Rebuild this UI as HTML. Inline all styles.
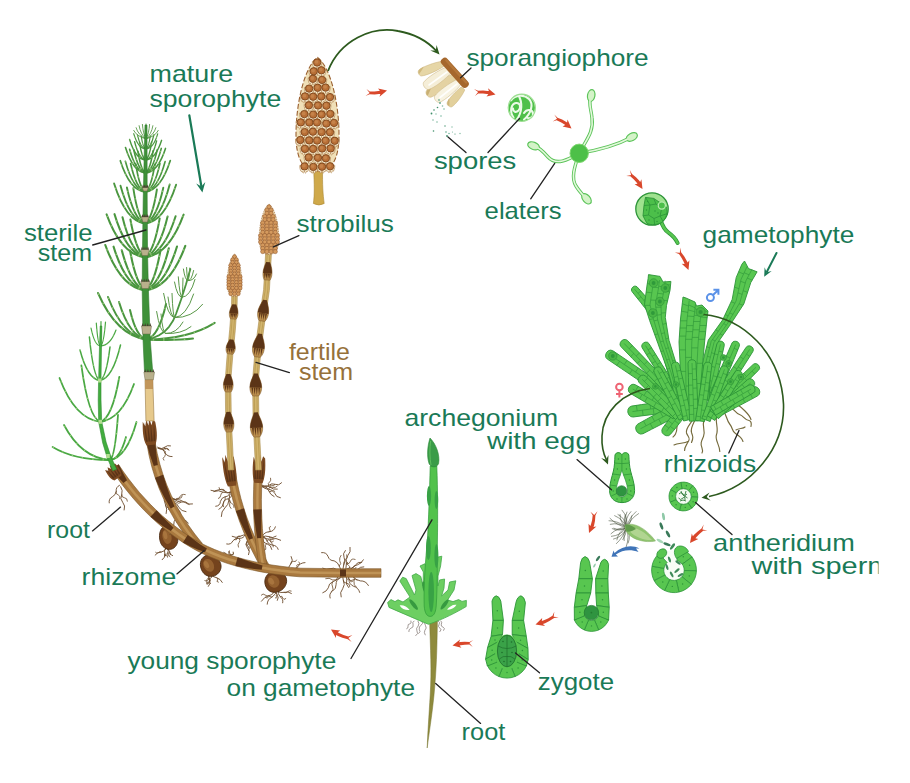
<!DOCTYPE html>
<html lang="en">
<head>
<meta charset="utf-8">
<title>Life cycle of horsetail (Equisetum)</title>
<style>html,body{margin:0;padding:0;background:#fff;}svg{display:block;}</style>
</head>
<body>
<svg width="910" height="783" viewBox="0 0 910 783" font-family="'Liberation Sans', sans-serif" font-size="24">
<defs><clipPath id="clipR"><rect x="0" y="0" width="878.6" height="783"/></clipPath></defs>
<rect width="910" height="783" fill="#ffffff"/>
<path d="M166.6 548.3 Q169.4 549.1 169.6 552 Q169.8 554.9 172.6 555.7" fill="none" stroke="#6b4a2a" stroke-width="0.9" stroke-linecap="round"/>
<path d="M169.6 552 Q168.4 552.9 169.7 553.5 Q172.4 554 169.7 555" fill="none" stroke="#6b4a2a" stroke-width="0.8" stroke-linecap="round"/>
<path d="M166.2 548.2 Q169.7 549.4 167.9 552.6 Q167.4 555.5 170 556.8" fill="none" stroke="#6b4a2a" stroke-width="0.9" stroke-linecap="round"/>
<path d="M167.9 552.6 Q169 554.6 166.6 554.1 Q164.6 553.9 165.4 555.8" fill="none" stroke="#6b4a2a" stroke-width="0.8" stroke-linecap="round"/>
<path d="M166.2 547.4 Q163.3 550.1 164.8 553.8 Q165.4 557.6 162.2 559.8" fill="none" stroke="#6b4a2a" stroke-width="0.9" stroke-linecap="round"/>
<path d="M164.8 553.8 Q163.9 556.1 166 555.7 Q168.6 554.9 167.7 557.2" fill="none" stroke="#6b4a2a" stroke-width="0.8" stroke-linecap="round"/>
<path d="M166.5 547.8 Q165.2 551.7 161.2 552 Q157.4 552 155.1 555.1" fill="none" stroke="#6b4a2a" stroke-width="0.9" stroke-linecap="round"/>
<path d="M161.2 552 Q159.8 551 158.4 552.6 Q157 554.1 155.6 552.4" fill="none" stroke="#6b4a2a" stroke-width="0.8" stroke-linecap="round"/>
<path d="M210.9 573.6 Q212.6 577.5 216.8 577.8 Q220.6 578.9 222.3 582.4" fill="none" stroke="#6b4a2a" stroke-width="0.9" stroke-linecap="round"/>
<path d="M216.8 577.8 Q218.7 578.5 217.6 580 Q215.7 581.7 218.4 582.2" fill="none" stroke="#6b4a2a" stroke-width="0.8" stroke-linecap="round"/>
<path d="M210 573.3 Q207.1 576.5 209.7 579.9 Q211 583.6 208.4 586.4" fill="none" stroke="#6b4a2a" stroke-width="0.9" stroke-linecap="round"/>
<path d="M209.7 579.9 Q210.2 581.9 208.4 582 Q206.6 582.1 207.1 584.1" fill="none" stroke="#6b4a2a" stroke-width="0.8" stroke-linecap="round"/>
<path d="M210.4 573.5 Q207.3 575.5 209.1 578.6 Q210.4 581.5 208.2 583.8" fill="none" stroke="#6b4a2a" stroke-width="0.9" stroke-linecap="round"/>
<path d="M209.1 578.6 Q207.3 577.5 206.9 579.7 Q206.6 582 204.8 580.7" fill="none" stroke="#6b4a2a" stroke-width="0.8" stroke-linecap="round"/>
<path d="M211.9 573.9 Q212.9 577.5 209.5 578.9 Q205.6 580.2 207 584" fill="none" stroke="#6b4a2a" stroke-width="0.9" stroke-linecap="round"/>
<path d="M209.5 578.9 Q211.7 579.4 209.7 581.3 Q208 583.1 210.5 583.6" fill="none" stroke="#6b4a2a" stroke-width="0.8" stroke-linecap="round"/>
<path d="M277 591 Q280.2 593.4 284.1 592.4 Q288 590.9 291.4 593.4" fill="none" stroke="#6b4a2a" stroke-width="0.9" stroke-linecap="round"/>
<path d="M284.1 592.4 Q286.2 593.5 287.7 591.7 Q289.1 590.1 291.2 591" fill="none" stroke="#6b4a2a" stroke-width="0.8" stroke-linecap="round"/>
<path d="M278.5 590.4 Q277.3 594.1 280.2 596.7 Q283.6 598.8 282.7 602.8" fill="none" stroke="#6b4a2a" stroke-width="0.9" stroke-linecap="round"/>
<path d="M280.2 596.7 Q282.3 595 282.8 598.1 Q283.6 600.6 285.8 598.6" fill="none" stroke="#6b4a2a" stroke-width="0.8" stroke-linecap="round"/>
<path d="M276.4 589.1 Q274.9 592.1 277 594.7 Q279.3 597.5 277.4 600.4" fill="none" stroke="#6b4a2a" stroke-width="0.9" stroke-linecap="round"/>
<path d="M277 594.7 Q275.4 594.9 276.5 596.5 Q277.9 598.2 275.4 597.9" fill="none" stroke="#6b4a2a" stroke-width="0.8" stroke-linecap="round"/>
<path d="M276.9 590.3 Q275.8 594.8 271.9 597.1 Q267.4 599.2 267.2 604.2" fill="none" stroke="#6b4a2a" stroke-width="0.9" stroke-linecap="round"/>
<path d="M271.9 597.1 Q270.1 595.6 268.6 596.8 Q267.3 599.4 265.4 597.3" fill="none" stroke="#6b4a2a" stroke-width="0.8" stroke-linecap="round"/>
<path d="M275.3 589.3 Q274.1 594.6 268.8 595.7 Q264 597 261.4 601.2" fill="none" stroke="#6b4a2a" stroke-width="0.9" stroke-linecap="round"/>
<path d="M268.8 595.7 Q267 596.6 265.1 595 Q263.1 592.8 261.3 595.1" fill="none" stroke="#6b4a2a" stroke-width="0.8" stroke-linecap="round"/>
<path d="M120.7 486.7 Q123.1 490.4 121.7 494.5 Q119.5 498.8 122.7 502.3 Q125.8 505.7 124.2 510" fill="none" stroke="#6b4a2a" stroke-width="0.9" stroke-linecap="round"/>
<path d="M121.7 494.5 Q121.7 497.9 124.6 497.8 Q127.3 498 127.4 501.2" fill="none" stroke="#6b4a2a" stroke-width="0.8" stroke-linecap="round"/>
<path d="M119.5 485.3 Q115.7 487.1 116.2 491.3 Q115.7 495.1 112.3 496.8 Q108.5 498.8 109.2 502.9" fill="none" stroke="#6b4a2a" stroke-width="0.9" stroke-linecap="round"/>
<path d="M116.2 491.3 Q114.8 493.8 118.2 494.9 Q121 496.3 119.8 498.7" fill="none" stroke="#6b4a2a" stroke-width="0.8" stroke-linecap="round"/>
<path d="M233.1 562 Q228.6 562.7 226.1 558.9 Q223.6 555.2 219.2 555.8" fill="none" stroke="#6b4a2a" stroke-width="0.9" stroke-linecap="round"/>
<path d="M226.1 558.9 Q223.7 558 225.5 555.4 Q227.2 552.9 223.8 552.3" fill="none" stroke="#6b4a2a" stroke-width="0.8" stroke-linecap="round"/>
<path d="M233.8 562.7 Q230.5 561 230.9 557.3 Q231.7 553.6 228.4 551.7" fill="none" stroke="#6b4a2a" stroke-width="0.9" stroke-linecap="round"/>
<path d="M230.9 557.3 Q229.2 554.9 232.3 554.8 Q234.4 554.2 233.3 552" fill="none" stroke="#6b4a2a" stroke-width="0.8" stroke-linecap="round"/>
<path d="M231.9 562.5 Q233.9 559.2 230.9 556.6 Q227.6 554.5 229.3 550.9" fill="none" stroke="#6b4a2a" stroke-width="0.9" stroke-linecap="round"/>
<path d="M230.9 556.6 Q229.6 554.1 231.9 554.7 Q234.2 555.1 233.3 552.9" fill="none" stroke="#6b4a2a" stroke-width="0.8" stroke-linecap="round"/>
<path d="M289.3 571.2 Q287.2 567.1 290.7 563.9 Q293.8 560.4 291.2 556.5" fill="none" stroke="#6b4a2a" stroke-width="0.9" stroke-linecap="round"/>
<path d="M290.7 563.9 Q291.1 561.3 293.3 561.4 Q296 562.4 296.6 560.1" fill="none" stroke="#6b4a2a" stroke-width="0.8" stroke-linecap="round"/>
<path d="M289 570.3 Q293.8 570.4 297.4 567.2 Q299.9 562.7 305 562.6" fill="none" stroke="#6b4a2a" stroke-width="0.9" stroke-linecap="round"/>
<path d="M297.4 567.2 Q295.6 564.7 298.2 564.6 Q300.8 564.6 298.9 562" fill="none" stroke="#6b4a2a" stroke-width="0.8" stroke-linecap="round"/>
<path d="M289.8 570.7 Q293.3 572.9 297.3 571.8 Q301.7 569.9 304.7 573.6" fill="none" stroke="#6b4a2a" stroke-width="0.9" stroke-linecap="round"/>
<path d="M297.3 571.8 Q297.1 574.4 299.4 573.4 Q301.4 572.8 301.5 574.8" fill="none" stroke="#6b4a2a" stroke-width="0.8" stroke-linecap="round"/>
<path d="M344 572 Q346.7 568.4 346.4 563.9 Q345.5 559.4 347.8 555.5 Q351.2 552.1 350.1 547.4" fill="none" stroke="#6b4a2a" stroke-width="0.9" stroke-linecap="round"/>
<path d="M346.4 563.9 Q349.7 564.4 350.5 561.2 Q351.3 558.1 355.1 559.4" fill="none" stroke="#6b4a2a" stroke-width="0.8" stroke-linecap="round"/>
<path d="M344 572 Q345.5 568.3 349.5 568 Q353.7 568.8 355.5 564.9 Q357.7 561.6 361.7 562.2" fill="none" stroke="#6b4a2a" stroke-width="0.9" stroke-linecap="round"/>
<path d="M349.5 568 Q350.7 566.3 348.3 565.2 Q345.7 564.1 347.5 562.2" fill="none" stroke="#6b4a2a" stroke-width="0.8" stroke-linecap="round"/>
<path d="M344 572 Q348.5 572.9 351.1 569.1 Q353.3 565.4 357.5 564.8 Q361.5 563.5 363.4 559.8" fill="none" stroke="#6b4a2a" stroke-width="0.9" stroke-linecap="round"/>
<path d="M351.1 569.1 Q353.5 569.6 354.6 572.2 Q356 574.5 359 574" fill="none" stroke="#6b4a2a" stroke-width="0.8" stroke-linecap="round"/>
<path d="M344 572 Q347.2 569.4 350.9 571.3 Q354.7 572.8 357.6 569.7 Q359.8 566.5 363.8 566.8" fill="none" stroke="#6b4a2a" stroke-width="0.9" stroke-linecap="round"/>
<path d="M350.9 571.3 Q350.9 569.1 353.3 569.2 Q355.6 569.3 356 567.5" fill="none" stroke="#6b4a2a" stroke-width="0.8" stroke-linecap="round"/>
<path d="M344 572 Q349.3 571.5 352.5 575.8 Q355.2 580.1 360.3 580.9 Q365.8 580.6 368.4 585.5" fill="none" stroke="#6b4a2a" stroke-width="0.9" stroke-linecap="round"/>
<path d="M352.5 575.8 Q355.6 577.8 354 581.6 Q353.3 585.1 356.3 587.1" fill="none" stroke="#6b4a2a" stroke-width="0.8" stroke-linecap="round"/>
<path d="M344 572 Q348.6 574 348.9 579.1 Q348.9 584.2 353.6 586.3 Q358.4 587.5 359.7 592.4" fill="none" stroke="#6b4a2a" stroke-width="0.9" stroke-linecap="round"/>
<path d="M348.9 579.1 Q350.2 582.1 353 579.9 Q355.6 578.2 357.2 580.1" fill="none" stroke="#6b4a2a" stroke-width="0.8" stroke-linecap="round"/>
<path d="M344 572 Q346.9 575.3 346.8 579.6 Q345.1 584.2 348.6 587.6" fill="none" stroke="#6b4a2a" stroke-width="0.9" stroke-linecap="round"/>
<path d="M346.8 579.6 Q349.3 577.6 350 580.3 Q350.7 582.9 353.1 581" fill="none" stroke="#6b4a2a" stroke-width="0.8" stroke-linecap="round"/>
<path d="M344 572 Q341.5 576 343.3 580.3 Q345.5 584.7 342.7 588.7 Q339.4 592.3 341.1 596.9" fill="none" stroke="#6b4a2a" stroke-width="0.9" stroke-linecap="round"/>
<path d="M343.3 580.3 Q343.4 583.2 346.9 583.2 Q349.9 583.6 349.9 586.7" fill="none" stroke="#6b4a2a" stroke-width="0.8" stroke-linecap="round"/>
<path d="M344 572 Q344 576.5 339.8 578.1 Q335.9 580.1 336.1 584.5 Q336.3 588.8 332.6 591 Q328.7 593.6 330.1 598" fill="none" stroke="#6b4a2a" stroke-width="0.9" stroke-linecap="round"/>
<path d="M339.8 578.1 Q336.4 580.7 332.8 580 Q329.2 577.3 325.7 578.6" fill="none" stroke="#6b4a2a" stroke-width="0.8" stroke-linecap="round"/>
<path d="M344 572 Q339.3 571.9 338.1 576.5 Q337.1 580.9 332.7 581.8 Q328.6 583.4 328.3 587.8 Q326.7 591.6 322.8 592.8" fill="none" stroke="#6b4a2a" stroke-width="0.9" stroke-linecap="round"/>
<path d="M332.7 581.8 Q330.9 584 332.6 587 Q334.5 590 331.1 591.9" fill="none" stroke="#6b4a2a" stroke-width="0.8" stroke-linecap="round"/>
<path d="M344 572 Q339.9 572.9 337.1 569.8 Q333.8 567.2 330 568.7 Q326.2 570.6 322.8 568.2" fill="none" stroke="#6b4a2a" stroke-width="0.9" stroke-linecap="round"/>
<path d="M337.1 569.8 Q337.3 573.2 334.4 572.2 Q331.9 571.9 331.5 574.5" fill="none" stroke="#6b4a2a" stroke-width="0.8" stroke-linecap="round"/>
<path d="M344 572 Q339.9 570.4 339.3 566.1 Q337.9 562.3 334.1 560.8 Q329.4 560.8 328 556.4 Q326.3 552 321.6 552.6" fill="none" stroke="#6b4a2a" stroke-width="0.9" stroke-linecap="round"/>
<path d="M339.3 566.1 Q342 563.7 339.7 560.7 Q339.1 557.9 341 555.4" fill="none" stroke="#6b4a2a" stroke-width="0.8" stroke-linecap="round"/>
<path d="M344 572 Q342.2 568.5 343.7 564.8 Q346.1 561.3 344.1 557.6 Q342.3 553.6 345.3 550.5" fill="none" stroke="#6b4a2a" stroke-width="0.9" stroke-linecap="round"/>
<path d="M343.7 564.8 Q343.2 561.8 345.4 559.9 Q347.7 558 346.8 554.8" fill="none" stroke="#6b4a2a" stroke-width="0.8" stroke-linecap="round"/>
<g transform="translate(168.5 537.5) rotate(-12)">
<path d="M0 -12 C5.4 -12 9 -6 9 1.2 C9 7.8 4.5 12 0 12 C-4.5 12 -9 7.8 -9 1.2 C-9 -6 -5.4 -12 0 -12 Z" fill="#74431d" stroke="#4a2a10" stroke-width="0.8"/>
<ellipse cx="-1.3" cy="-1.2" rx="4.5" ry="7.4" fill="#9a6632" opacity="0.85"/>
<ellipse cx="-2.7" cy="-3" rx="2" ry="4.2" fill="#b5824a" opacity="0.6"/>
</g>
<g transform="translate(210.5 565.5) rotate(-30)">
<path d="M0 -11 C6 -11 10 -5.5 10 1.1 C10 7.2 5 11 0 11 C-5 11 -10 7.2 -10 1.1 C-10 -5.5 -6 -11 0 -11 Z" fill="#74431d" stroke="#4a2a10" stroke-width="0.8"/>
<ellipse cx="-1.5" cy="-1.1" rx="5" ry="6.8" fill="#9a6632" opacity="0.85"/>
<ellipse cx="-3" cy="-2.8" rx="2.2" ry="3.8" fill="#b5824a" opacity="0.6"/>
</g>
<g transform="translate(275.5 581.5) rotate(-35)">
<path d="M0 -10.5 C6.6 -10.5 11 -5.2 11 1.1 C11 6.8 5.5 10.5 0 10.5 C-5.5 10.5 -11 6.8 -11 1.1 C-11 -5.2 -6.6 -10.5 0 -10.5 Z" fill="#74431d" stroke="#4a2a10" stroke-width="0.8"/>
<ellipse cx="-1.6" cy="-1.1" rx="5.5" ry="6.5" fill="#9a6632" opacity="0.85"/>
<ellipse cx="-3.3" cy="-2.6" rx="2.4" ry="3.7" fill="#b5824a" opacity="0.6"/>
</g>
<path d="M158.6 447.8 Q161.8 449.7 164.6 447.3 Q167.2 444.8 170.5 445.8" fill="none" stroke="#6b4a2a" stroke-width="0.9" stroke-linecap="round"/>
<path d="M164.6 447.3 Q163.9 450.2 166.5 448.7 Q168.5 448.1 168.6 449.8" fill="none" stroke="#6b4a2a" stroke-width="0.8" stroke-linecap="round"/>
<path d="M157.4 447.2 Q159.6 450 163.1 449.2 Q166.4 446.8 169.1 450" fill="none" stroke="#6b4a2a" stroke-width="0.9" stroke-linecap="round"/>
<path d="M163.1 449.2 Q162.2 450.8 164.4 450.8 Q166.2 451 165 452.8" fill="none" stroke="#6b4a2a" stroke-width="0.8" stroke-linecap="round"/>
<path d="M158 448.3 Q163 448 164.9 452.6 Q167.3 456.8 172.1 456.6" fill="none" stroke="#6b4a2a" stroke-width="0.9" stroke-linecap="round"/>
<path d="M164.9 452.6 Q166.2 454.6 164.7 456.5 Q161.8 458.1 163.8 460.2" fill="none" stroke="#6b4a2a" stroke-width="0.8" stroke-linecap="round"/>
<path d="M167 496.1 Q170.3 499.7 175.2 499.7 Q179.9 499 183.9 501.8 Q187.6 505.4 192.5 504" fill="none" stroke="#6b4a2a" stroke-width="0.9" stroke-linecap="round"/>
<path d="M175.2 499.7 Q176.2 497.7 179 498.3 Q181.9 498.8 182.3 495.7" fill="none" stroke="#6b4a2a" stroke-width="0.8" stroke-linecap="round"/>
<path d="M166 497.3 Q170.4 496.1 174 498.9 Q177 502.2 181.5 502 Q186.1 500.6 189.2 504.3" fill="none" stroke="#6b4a2a" stroke-width="0.9" stroke-linecap="round"/>
<path d="M174 498.9 Q177.9 500.5 179.7 497 Q181.5 493.4 185.3 494.6" fill="none" stroke="#6b4a2a" stroke-width="0.8" stroke-linecap="round"/>
<path d="M166 497.9 Q168.5 501.6 172.9 502.2 Q177.6 503 179 507.6 Q181.5 511.3 186 511.7" fill="none" stroke="#6b4a2a" stroke-width="0.9" stroke-linecap="round"/>
<path d="M172.9 502.2 Q171.1 504.5 173.9 505.8 Q176.6 507.1 175.6 509.1" fill="none" stroke="#6b4a2a" stroke-width="0.8" stroke-linecap="round"/>
<path d="M168.4 496.1 Q172.6 497.9 172.2 502.4 Q173 506.5 176.8 508.3 Q180.4 510.4 180.6 514.6" fill="none" stroke="#6b4a2a" stroke-width="0.9" stroke-linecap="round"/>
<path d="M172.2 502.4 Q174.8 499.7 176.6 502.4 Q178.5 504.2 181 502.4" fill="none" stroke="#6b4a2a" stroke-width="0.8" stroke-linecap="round"/>
<path d="M165.6 496.1 Q162.9 500.4 165.5 504.8 Q167.6 509 166.2 513.5" fill="none" stroke="#6b4a2a" stroke-width="0.9" stroke-linecap="round"/>
<path d="M165.5 504.8 Q165.3 506.8 167 507.3 Q169.4 507.4 168.9 509.6" fill="none" stroke="#6b4a2a" stroke-width="0.8" stroke-linecap="round"/>
<path d="M174.7 517 Q176.9 521.1 181.5 520 Q186 519.2 188.2 523.2" fill="none" stroke="#6b4a2a" stroke-width="0.9" stroke-linecap="round"/>
<path d="M181.5 520 Q180.3 521.7 181.8 522.7 Q183.6 523.7 182.4 525.3" fill="none" stroke="#6b4a2a" stroke-width="0.8" stroke-linecap="round"/>
<path d="M175.3 518.5 Q175.9 523.2 180.4 524.9 Q184.7 526.7 185.8 531.2" fill="none" stroke="#6b4a2a" stroke-width="0.9" stroke-linecap="round"/>
<path d="M180.4 524.9 Q181.9 522.9 182.8 525.7 Q183.9 527.4 185.4 525.7" fill="none" stroke="#6b4a2a" stroke-width="0.8" stroke-linecap="round"/>
<path d="M176.5 517.5 Q173.1 521.3 173.6 526.3 Q174 531.5 170 534.7" fill="none" stroke="#6b4a2a" stroke-width="0.9" stroke-linecap="round"/>
<path d="M173.6 526.3 Q172.8 529.2 175.8 528.2 Q178.1 528.1 178 530.3" fill="none" stroke="#6b4a2a" stroke-width="0.8" stroke-linecap="round"/>
<path d="M232.7 491.4 Q228.4 494.5 229 499.8 Q228.7 504.8 224.8 508 Q221.1 511.4 221.3 516.5" fill="none" stroke="#6b4a2a" stroke-width="0.9" stroke-linecap="round"/>
<path d="M229 499.8 Q229.2 502.1 231.7 503.4 Q234.8 504.6 234 507.4" fill="none" stroke="#6b4a2a" stroke-width="0.8" stroke-linecap="round"/>
<path d="M232.5 493 Q232.3 497.1 228.5 498.8 Q223.9 499.1 223.4 503.7 Q222.5 507.6 218.9 509.3" fill="none" stroke="#6b4a2a" stroke-width="0.9" stroke-linecap="round"/>
<path d="M228.5 498.8 Q231.6 500.9 229.7 503.7 Q228.8 506.3 231 508.5" fill="none" stroke="#6b4a2a" stroke-width="0.8" stroke-linecap="round"/>
<path d="M230 491.9 Q229.7 496.3 225.3 496.7 Q221.4 497.6 220.4 501.4 Q220.2 506 215.7 506.3" fill="none" stroke="#6b4a2a" stroke-width="0.9" stroke-linecap="round"/>
<path d="M225.3 496.7 Q225.8 499.3 223.8 501.6 Q222.1 504 223.5 506.7" fill="none" stroke="#6b4a2a" stroke-width="0.8" stroke-linecap="round"/>
<path d="M232.5 491.5 Q228 494 223.1 492.2 Q218.6 489.6 213.8 491.5" fill="none" stroke="#6b4a2a" stroke-width="0.9" stroke-linecap="round"/>
<path d="M223.1 492.2 Q220.8 492.7 220.7 495.3 Q220.6 497.9 218.4 498.5" fill="none" stroke="#6b4a2a" stroke-width="0.8" stroke-linecap="round"/>
<path d="M231.4 492.3 Q227.6 493.8 224.7 491 Q221.6 488.1 217.9 490 Q214.5 491.9 211 490.4" fill="none" stroke="#6b4a2a" stroke-width="0.9" stroke-linecap="round"/>
<path d="M224.7 491 Q224.4 488.4 221.6 489.7 Q219.2 490.4 219 487.6" fill="none" stroke="#6b4a2a" stroke-width="0.8" stroke-linecap="round"/>
<path d="M262.1 487 Q265.8 488.2 268.6 485.5 Q271.5 482.8 275.1 484.3 Q279 486.2 281.6 482.8" fill="none" stroke="#6b4a2a" stroke-width="0.9" stroke-linecap="round"/>
<path d="M268.6 485.5 Q267.4 482.9 269.7 481.9 Q271.4 480.6 270.6 478.2" fill="none" stroke="#6b4a2a" stroke-width="0.8" stroke-linecap="round"/>
<path d="M262.5 486.5 Q266.5 484.4 270 487.2 Q273.2 489.9 277.3 489.2" fill="none" stroke="#6b4a2a" stroke-width="0.9" stroke-linecap="round"/>
<path d="M270 487.2 Q269.7 484 272.1 485.5 Q274.3 486.7 274.6 484.5" fill="none" stroke="#6b4a2a" stroke-width="0.8" stroke-linecap="round"/>
<path d="M261.8 485.3 Q263.8 489.2 268.3 489 Q272.4 489.6 274.6 493.1 Q275.9 497.4 280.4 497.8" fill="none" stroke="#6b4a2a" stroke-width="0.9" stroke-linecap="round"/>
<path d="M268.3 489 Q270 485.7 272.7 487.3 Q275.4 488.2 277.3 486.1" fill="none" stroke="#6b4a2a" stroke-width="0.8" stroke-linecap="round"/>
<path d="M262.5 485.2 Q267.2 486.1 268.6 490.6 Q270.1 494.7 274.1 496.6" fill="none" stroke="#6b4a2a" stroke-width="0.9" stroke-linecap="round"/>
<path d="M268.6 490.6 Q269.7 493 271.8 491 Q273.7 489.7 274.9 491.5" fill="none" stroke="#6b4a2a" stroke-width="0.8" stroke-linecap="round"/>
<path d="M247 534.4 Q245.7 538.3 248.7 541.2 Q252 544.1 250 548.1" fill="none" stroke="#6b4a2a" stroke-width="0.9" stroke-linecap="round"/>
<path d="M248.7 541.2 Q246.7 541.4 248.1 543.3 Q249.3 545.1 247.1 545.2" fill="none" stroke="#6b4a2a" stroke-width="0.8" stroke-linecap="round"/>
<path d="M247.5 534.2 Q249.7 537.7 247.3 541 Q244.4 544.5 247.4 547.9 Q250.8 550.8 248.6 554.7" fill="none" stroke="#6b4a2a" stroke-width="0.9" stroke-linecap="round"/>
<path d="M247.3 541 Q245 544.4 247.9 545.9 Q249.8 547.8 248.8 550.7" fill="none" stroke="#6b4a2a" stroke-width="0.8" stroke-linecap="round"/>
<path d="M245.3 534.7 Q243.6 538.6 239.3 538.3 Q235.3 537.5 232.9 540.8 Q231.1 545 226.7 544" fill="none" stroke="#6b4a2a" stroke-width="0.9" stroke-linecap="round"/>
<path d="M239.3 538.3 Q240.8 541 239 542.7 Q237.3 544.4 238.4 547.1" fill="none" stroke="#6b4a2a" stroke-width="0.8" stroke-linecap="round"/>
<path d="M247.7 535.8 Q243.7 533.7 240 536.3 Q236.1 538.5 232.2 536.4" fill="none" stroke="#6b4a2a" stroke-width="0.9" stroke-linecap="round"/>
<path d="M240 536.3 Q237.5 535.1 237.4 538.1 Q236.9 540.5 234.7 539.8" fill="none" stroke="#6b4a2a" stroke-width="0.8" stroke-linecap="round"/>
<path d="M262.3 536.2 Q264.4 532 269 531.8 Q274 531.6 275.4 526.8" fill="none" stroke="#6b4a2a" stroke-width="0.9" stroke-linecap="round"/>
<path d="M269 531.8 Q271.4 530.8 269.5 529 Q268.1 527.4 270.6 526.5" fill="none" stroke="#6b4a2a" stroke-width="0.8" stroke-linecap="round"/>
<path d="M261.9 537.3 Q265.3 535 269 536.7 Q272.7 538.8 276.1 536.2" fill="none" stroke="#6b4a2a" stroke-width="0.9" stroke-linecap="round"/>
<path d="M269 536.7 Q269.2 538.4 271.2 537.8 Q273.6 536.7 272.9 539.5" fill="none" stroke="#6b4a2a" stroke-width="0.8" stroke-linecap="round"/>
<path d="M261.3 536.3 Q265.4 539.7 270.8 539.3 Q276 537.2 280.7 540.2" fill="none" stroke="#6b4a2a" stroke-width="0.9" stroke-linecap="round"/>
<path d="M270.8 539.3 Q269.8 541.9 271.7 543.2 Q273.6 544.6 273.3 546.9" fill="none" stroke="#6b4a2a" stroke-width="0.8" stroke-linecap="round"/>
<path d="M262 536.1 Q266.2 536.8 267 541 Q268.5 544.8 272.6 545.2 Q276.9 545.3 278.2 549.4" fill="none" stroke="#6b4a2a" stroke-width="0.9" stroke-linecap="round"/>
<path d="M267 541 Q268.5 538.3 270.2 541.3 Q272 543.2 273.5 541.2" fill="none" stroke="#6b4a2a" stroke-width="0.8" stroke-linecap="round"/>
<path d="M262.7 537.8 Q262.4 542.6 267 543.8 Q271.3 545 271.8 549.4" fill="none" stroke="#6b4a2a" stroke-width="0.9" stroke-linecap="round"/>
<path d="M267 543.8 Q264.3 544.4 265.7 547.2 Q266.8 549.8 264.2 550.4" fill="none" stroke="#6b4a2a" stroke-width="0.8" stroke-linecap="round"/>
<polygon points="227,470.7 228.6,480.7 230.6,490.8 233.1,500.9 236,510.9 239.4,520.9 243.2,530.8 247.3,540.7 252,550.5 257,560.3 262.4,570 269.6,566 264.2,556.4 259.3,546.9 254.8,537.3 250.8,527.8 247.1,518.1 243.9,508.5 241,498.8 238.6,489 236.6,479.2 235,469.3" fill="#a9793f" stroke="#7a5528" stroke-width="0.6" stroke-linejoin="round"/>
<polyline points="231,470 232.6,480 234.6,489.9 237.1,499.8 240,509.7 243.2,519.5 247,529.3 251.1,539 255.6,548.7 260.6,558.4 266,568" fill="none" stroke="#c49a5c" stroke-width="2.5" opacity="0.8"/>
<polygon points="226.7,470.7 230.6,480.3 234.6,479.7 235.3,469.3" fill="#5b3417"/>
<polygon points="235.9,511 239.9,520.7 244.4,530.3 249.2,539.8 253,538.2 249.6,528.2 246.6,518.3 244,508.3" fill="#5b3417"/>
<polygon points="254.5,469.8 253.9,479.8 253.6,489.7 253.4,499.6 253.5,509.5 253.9,519.2 254.5,528.8 255.3,538.4 256.3,547.9 257.6,557.3 259.1,566.6 266.9,565.4 265.5,556.2 264.2,547 263.2,537.7 262.4,528.3 261.9,518.8 261.5,509.3 261.4,499.6 261.6,489.9 261.9,480.1 262.5,470.2" fill="#a9793f" stroke="#7a5528" stroke-width="0.6" stroke-linejoin="round"/>
<polyline points="258.5,470 257.9,480 257.6,489.8 257.4,499.6 257.5,509.4 257.9,519 258.4,528.6 259.2,538 260.3,547.4 261.5,556.8 263,566" fill="none" stroke="#c49a5c" stroke-width="2.4" opacity="0.8"/>
<polygon points="254.3,469.8 255.9,479.8 259.9,480.1 262.7,470.2" fill="#5b3417"/>
<polygon points="253.3,509.5 254.4,519.2 255.7,528.8 257.2,538.2 261.2,537.9 261.2,528.4 261.3,518.8 261.7,509.2" fill="#5b3417"/>
<polygon points="146.9,443.8 149,455.2 151.7,466.5 155.1,477.5 159.1,488.4 163.7,499 168.9,509.4 174.7,519.6 181.1,529.5 188.2,539.2 195.7,548.6 202.3,543.4 194.8,534.1 188.1,524.8 181.9,515.2 176.3,505.5 171.3,495.5 166.9,485.3 163.1,474.9 159.9,464.3 157.2,453.4 155.1,442.2" fill="#a9793f" stroke="#7a5528" stroke-width="0.6" stroke-linejoin="round"/>
<polyline points="151,443 153.1,454.3 155.8,465.4 159.1,476.2 163,486.8 167.5,497.2 172.6,507.4 178.3,517.4 184.6,527.2 191.5,536.7 199,546" fill="none" stroke="#c49a5c" stroke-width="2.5" opacity="0.8"/>
<polygon points="146.7,443.8 149.9,455 153.8,465.9 157.8,464.9 156.3,453.6 155.3,442.2" fill="#5b3417"/>
<polygon points="155,477.7 159.6,488.2 164.9,498.5 170.7,508.4 174.5,506.5 170.1,496 166.4,485.5 163.2,474.7" fill="#5b3417"/>
<polygon points="111.4,469.4 116.6,476.9 121.8,484.2 127.3,491.2 132.9,498 138.6,504.4 144.5,510.7 150.5,516.6 156.7,522.3 163,527.7 169.5,532.9 176.2,537.7 182.9,542.4 189.9,546.7 197,550.8 204.2,554.3 211.6,557.5 219.2,560.5 227.1,563.3 235.3,565.8 243.7,568 252.4,570.1 261.3,571.9 270.5,573.5 280,574.8 289.7,575.9 299.9,576.8 340,577.3 381,577.3 381,568.7 340,568.7 300.1,568.2 290.6,567.4 281.1,566.3 271.9,565 262.9,563.4 254.2,561.7 245.8,559.7 237.7,557.5 229.8,555.1 222.2,552.4 214.8,549.6 207.8,546.5 201,543.2 194.3,539.3 187.6,535.2 181.1,530.7 174.8,526 168.5,521.1 162.4,515.9 156.5,510.4 150.6,504.6 145,498.6 139.4,492.4 134,485.8 128.7,479 123.6,472 118.6,464.6" fill="#a9793f" stroke="#7a5528" stroke-width="0.6" stroke-linejoin="round"/>
<polyline points="115,467 120.1,474.4 125.3,481.6 130.6,488.5 136.1,495.2 141.8,501.5 147.6,507.7 153.5,513.5 159.6,519.1 165.8,524.4 172.1,529.4 178.6,534.2 185.3,538.8 192.1,543 199,547 206,550.4 213.2,553.5 220.7,556.5 228.4,559.2 236.5,561.6 244.8,563.9 253.3,565.9 262.1,567.7 271.2,569.2 280.5,570.5 290.1,571.6 300,572.5 340,573 381,573" fill="none" stroke="#c49a5c" stroke-width="2.6" opacity="0.8"/>
<polygon points="111.3,469.5 117.3,476.4 123.5,482.9 127,480.3 122.8,472.5 118.7,464.5" fill="#5b3417"/>
<polygon points="150.4,516.8 157.1,521.9 163.9,526.7 170.8,531.1 173.5,527.8 167.7,522.1 162,516.3 156.6,510.2" fill="#5b3417"/>
<polygon points="182.9,542.6 190.2,546.2 197.6,549.6 205,552.3 206.9,548.5 200.4,544.4 194,539.8 187.7,534.9" fill="#5b3417"/>
<polygon points="235.3,566 243.8,567.5 252.7,568.8 261.7,569.8 262.5,565.6 253.9,563 245.7,560.3 237.6,557.3" fill="#5b3417"/>
<polygon points="340,569.5 346,569.5 346,576.5 340,576.5" fill="#5b3417"/>
<g transform="translate(118 478) rotate(-35)">
<path d="M-4.3 0 C-7.4 -4.2 -6.6 -9.8 -6 -14 L-4 -11.2 L-2.4 -14.8 L-0.7 -11.5 L0.6 -15.4 L2.2 -11.5 L3.8 -14.6 L6 -13.3 C6.6 -9.8 7.4 -4.2 4.3 0 Z" fill="#7d4a22"/>
<path d="M-4.6 -2.1 L-4.7 -13.7 L-2.6 -2.1 Z" fill="#5b3417"/>
<path d="M-2.2 -2.1 L-1.6 -13.7 L-0.2 -2.1 Z" fill="#5b3417"/>
<path d="M0.2 -2.1 L1.6 -13.7 L2.2 -2.1 Z" fill="#5b3417"/>
<path d="M2.6 -2.1 L4.7 -13.7 L4.6 -2.1 Z" fill="#5b3417"/>
</g>
<g transform="translate(151 445) rotate(-5)">
<path d="M-4.5 0 C-7.8 -7.2 -6.9 -16.8 -6.2 -24 L-4.1 -19.2 L-2.5 -25.4 L-0.8 -19.7 L0.6 -26.4 L2.2 -19.7 L4 -25 L6.2 -22.8 C6.9 -16.8 7.8 -7.2 4.5 0 Z" fill="#7d4a22"/>
<path d="M-4.8 -3.6 L-4.9 -23.5 L-2.8 -3.6 Z" fill="#5b3417"/>
<path d="M-2.2 -3.6 L-1.6 -23.5 L-0.2 -3.6 Z" fill="#5b3417"/>
<path d="M0.2 -3.6 L1.6 -23.5 L2.2 -3.6 Z" fill="#5b3417"/>
<path d="M2.8 -3.6 L4.9 -23.5 L4.8 -3.6 Z" fill="#5b3417"/>
</g>
<g transform="translate(232 486) rotate(-8)">
<path d="M-4.1 0 C-7.1 -9 -6.3 -21 -5.8 -30 L-3.8 -24 L-2.3 -31.8 L-0.7 -24.6 L0.6 -33 L2.1 -24.6 L3.7 -31.2 L5.8 -28.5 C6.3 -21 7.1 -9 4.1 0 Z" fill="#7d4a22"/>
<path d="M-4.4 -4.5 L-4.5 -29.4 L-2.5 -4.5 Z" fill="#5b3417"/>
<path d="M-2.1 -4.5 L-1.5 -29.4 L-0.2 -4.5 Z" fill="#5b3417"/>
<path d="M0.2 -4.5 L1.5 -29.4 L2.1 -4.5 Z" fill="#5b3417"/>
<path d="M2.5 -4.5 L4.5 -29.4 L4.4 -4.5 Z" fill="#5b3417"/>
</g>
<g transform="translate(258.5 483) rotate(2)">
<path d="M-4.1 0 C-7.1 -7.8 -6.3 -18.2 -5.8 -26 L-3.8 -20.8 L-2.3 -27.6 L-0.7 -21.3 L0.6 -28.6 L2.1 -21.3 L3.7 -27 L5.8 -24.7 C6.3 -18.2 7.1 -7.8 4.1 0 Z" fill="#7d4a22"/>
<path d="M-4.4 -3.9 L-4.5 -25.5 L-2.5 -3.9 Z" fill="#5b3417"/>
<path d="M-2.1 -3.9 L-1.5 -25.5 L-0.2 -3.9 Z" fill="#5b3417"/>
<path d="M0.2 -3.9 L1.5 -25.5 L2.1 -3.9 Z" fill="#5b3417"/>
<path d="M2.5 -3.9 L4.5 -25.5 L4.4 -3.9 Z" fill="#5b3417"/>
</g>
<path d="M110 460 Q74.4 460.2 52.6 447" fill="none" stroke="#4aa843" stroke-width="1.8" stroke-linecap="round"/>
<path d="M110 460 Q74.4 460.2 52.6 447" fill="none" stroke="#bfe39a" stroke-width="1.3" stroke-dasharray="1.4 9" stroke-dashoffset="-6" opacity="0.6"/>
<path d="M110 460 Q81.5 458 64 425" fill="none" stroke="#4aa843" stroke-width="1.8" stroke-linecap="round"/>
<path d="M110 460 Q81.5 458 64 425" fill="none" stroke="#bfe39a" stroke-width="1.3" stroke-dasharray="1.4 9" stroke-dashoffset="-6" opacity="0.6"/>
<path d="M110 460 Q115 457 118 415" fill="none" stroke="#4aa843" stroke-width="1.8" stroke-linecap="round"/>
<path d="M110 460 Q115 457 118 415" fill="none" stroke="#bfe39a" stroke-width="1.3" stroke-dasharray="1.4 9" stroke-dashoffset="-6" opacity="0.6"/>
<path d="M110 460 Q126.4 457.7 136.5 422" fill="none" stroke="#4aa843" stroke-width="1.8" stroke-linecap="round"/>
<path d="M110 460 Q126.4 457.7 136.5 422" fill="none" stroke="#bfe39a" stroke-width="1.3" stroke-dasharray="1.4 9" stroke-dashoffset="-6" opacity="0.6"/>
<path d="M110 460 Q119.9 459.2 126 437" fill="none" stroke="#4aa843" stroke-width="1.8" stroke-linecap="round"/>
<path d="M110 460 Q119.9 459.2 126 437" fill="none" stroke="#bfe39a" stroke-width="1.3" stroke-dasharray="1.4 9" stroke-dashoffset="-6" opacity="0.6"/>
<path d="M100.2 421.8 Q75 418.9 59.5 378" fill="none" stroke="#4aa843" stroke-width="1.8" stroke-linecap="round"/>
<path d="M100.2 421.8 Q75 418.9 59.5 378" fill="none" stroke="#bfe39a" stroke-width="1.3" stroke-dasharray="1.4 9" stroke-dashoffset="-6" opacity="0.6"/>
<path d="M100.2 421.8 Q88.5 417.7 81.4 365.5" fill="none" stroke="#4aa843" stroke-width="1.8" stroke-linecap="round"/>
<path d="M100.2 421.8 Q88.5 417.7 81.4 365.5" fill="none" stroke="#bfe39a" stroke-width="1.3" stroke-dasharray="1.4 9" stroke-dashoffset="-6" opacity="0.6"/>
<path d="M100.2 421.8 Q112 418.8 119.3 377" fill="none" stroke="#4aa843" stroke-width="1.8" stroke-linecap="round"/>
<path d="M100.2 421.8 Q112 418.8 119.3 377" fill="none" stroke="#bfe39a" stroke-width="1.3" stroke-dasharray="1.4 9" stroke-dashoffset="-6" opacity="0.6"/>
<path d="M100.2 421.8 Q121.2 419.5 134 384" fill="none" stroke="#4aa843" stroke-width="1.8" stroke-linecap="round"/>
<path d="M100.2 421.8 Q121.2 419.5 134 384" fill="none" stroke="#bfe39a" stroke-width="1.3" stroke-dasharray="1.4 9" stroke-dashoffset="-6" opacity="0.6"/>
<path d="M99.8 380.5 Q93.4 377.6 89.4 337" fill="none" stroke="#4aa843" stroke-width="1.5" stroke-linecap="round"/>
<path d="M99.8 380.5 Q93.4 377.6 89.4 337" fill="none" stroke="#bfe39a" stroke-width="1" stroke-dasharray="1.4 9" stroke-dashoffset="-6" opacity="0.6"/>
<path d="M99.8 380.5 Q106.1 378.6 110 347" fill="none" stroke="#4aa843" stroke-width="1.5" stroke-linecap="round"/>
<path d="M99.8 380.5 Q106.1 378.6 110 347" fill="none" stroke="#bfe39a" stroke-width="1" stroke-dasharray="1.4 9" stroke-dashoffset="-6" opacity="0.6"/>
<path d="M99.8 380.5 Q112.6 378.4 120.5 345" fill="none" stroke="#4aa843" stroke-width="1.5" stroke-linecap="round"/>
<path d="M99.8 380.5 Q112.6 378.4 120.5 345" fill="none" stroke="#bfe39a" stroke-width="1" stroke-dasharray="1.4 9" stroke-dashoffset="-6" opacity="0.6"/>
<path d="M99.8 380.5 Q87.5 378.9 80 350" fill="none" stroke="#4aa843" stroke-width="1.5" stroke-linecap="round"/>
<path d="M99.8 380.5 Q87.5 378.9 80 350" fill="none" stroke="#bfe39a" stroke-width="1" stroke-dasharray="1.4 9" stroke-dashoffset="-6" opacity="0.6"/>
<path d="M100.5 346 Q97.9 345.2 96.3 323" fill="none" stroke="#4aa843" stroke-width="1.2" stroke-linecap="round"/>
<path d="M100.5 346 Q97.9 345.2 96.3 323" fill="none" stroke="#bfe39a" stroke-width="0.8" stroke-dasharray="1.4 9" stroke-dashoffset="-6" opacity="0.6"/>
<path d="M100.5 346 Q100.8 345.1 101 321.5" fill="none" stroke="#4aa843" stroke-width="1.2" stroke-linecap="round"/>
<path d="M100.5 346 Q100.8 345.1 101 321.5" fill="none" stroke="#bfe39a" stroke-width="0.8" stroke-dasharray="1.4 9" stroke-dashoffset="-6" opacity="0.6"/>
<path d="M100.5 346 Q103.6 345.1 105.5 322" fill="none" stroke="#4aa843" stroke-width="1.2" stroke-linecap="round"/>
<path d="M100.5 346 Q103.6 345.1 105.5 322" fill="none" stroke="#bfe39a" stroke-width="0.8" stroke-dasharray="1.4 9" stroke-dashoffset="-6" opacity="0.6"/>
<path d="M100.5 346 Q110.1 345.9 116 330" fill="none" stroke="#4aa843" stroke-width="1.2" stroke-linecap="round"/>
<path d="M100.5 346 Q110.1 345.9 116 330" fill="none" stroke="#bfe39a" stroke-width="0.8" stroke-dasharray="1.4 9" stroke-dashoffset="-6" opacity="0.6"/>
<path d="M100.5 346 Q94.6 345.7 91 328" fill="none" stroke="#4aa843" stroke-width="1.2" stroke-linecap="round"/>
<path d="M100.5 346 Q94.6 345.7 91 328" fill="none" stroke="#bfe39a" stroke-width="0.8" stroke-dasharray="1.4 9" stroke-dashoffset="-6" opacity="0.6"/>
<polygon points="116.6,469.2 110.8,456.3 106.1,442.1 101.7,421.6 101,400 101,380.5 101.5,346 101.8,326 100.2,326 99.5,346 98.6,380.5 98.2,400 98.7,422 102.7,442.9 107.2,457.7 112.8,470.8" fill="#42ad3e" stroke="#2f8a30" stroke-width="0.6" stroke-linejoin="round"/>
<rect x="98.4" y="419.8" width="3.6" height="4" fill="#bfe39a" opacity="0.9"/>
<rect x="98" y="378.5" width="3.6" height="4" fill="#bfe39a" opacity="0.9"/>
<rect x="106.2" y="454" width="3.6" height="4" fill="#bfe39a" opacity="0.9"/>
<path d="M146 139 Q136.2 136 133.7 130.4" fill="none" stroke="#5a9a4a" stroke-width="0.9" stroke-linecap="round"/>
<path d="M146 139 Q138.1 135.1 136.1 127.7" fill="none" stroke="#5a9a4a" stroke-width="0.9" stroke-linecap="round"/>
<path d="M146 139 Q140.5 134.3 139.1 125.7" fill="none" stroke="#5a9a4a" stroke-width="0.9" stroke-linecap="round"/>
<path d="M146 139 Q143.1 133.9 142.4 124.4" fill="none" stroke="#5a9a4a" stroke-width="0.9" stroke-linecap="round"/>
<path d="M146 139 Q146 133.8 146 124" fill="none" stroke="#5a9a4a" stroke-width="0.9" stroke-linecap="round"/>
<path d="M146 139 Q148.9 133.9 149.6 124.4" fill="none" stroke="#5a9a4a" stroke-width="0.9" stroke-linecap="round"/>
<path d="M146 139 Q151.5 134.3 152.9 125.7" fill="none" stroke="#5a9a4a" stroke-width="0.9" stroke-linecap="round"/>
<path d="M146 139 Q153.9 135.1 155.9 127.7" fill="none" stroke="#5a9a4a" stroke-width="0.9" stroke-linecap="round"/>
<path d="M146 139 Q155.8 136 158.3 130.4" fill="none" stroke="#5a9a4a" stroke-width="0.9" stroke-linecap="round"/>
<path d="M145.7 149 Q138.3 149 133.7 133.7" fill="none" stroke="#4a963f" stroke-width="1.2" stroke-linecap="round"/>
<path d="M145.7 149 Q138.3 149 133.7 133.7" fill="none" stroke="#bfe39a" stroke-width="0.8" stroke-dasharray="1.4 9" stroke-dashoffset="-6" opacity="0.6"/>
<path d="M145.7 149 Q140.6 148.4 137.4 134.9" fill="none" stroke="#4a963f" stroke-width="1.2" stroke-linecap="round"/>
<path d="M145.7 149 Q140.6 148.4 137.4 134.9" fill="none" stroke="#bfe39a" stroke-width="0.8" stroke-dasharray="1.4 9" stroke-dashoffset="-6" opacity="0.6"/>
<path d="M145.7 149 Q142.9 147.9 141.2 136" fill="none" stroke="#4a963f" stroke-width="1.2" stroke-linecap="round"/>
<path d="M145.7 149 Q142.9 147.9 141.2 136" fill="none" stroke="#bfe39a" stroke-width="0.8" stroke-dasharray="1.4 9" stroke-dashoffset="-6" opacity="0.6"/>
<path d="M145.7 149 Q153.2 149 157.7 133.9" fill="none" stroke="#4a963f" stroke-width="1.2" stroke-linecap="round"/>
<path d="M145.7 149 Q153.2 149 157.7 133.9" fill="none" stroke="#bfe39a" stroke-width="0.8" stroke-dasharray="1.4 9" stroke-dashoffset="-6" opacity="0.6"/>
<path d="M145.7 149 Q150.9 148.3 154 134.5" fill="none" stroke="#4a963f" stroke-width="1.2" stroke-linecap="round"/>
<path d="M145.7 149 Q150.9 148.3 154 134.5" fill="none" stroke="#bfe39a" stroke-width="0.8" stroke-dasharray="1.4 9" stroke-dashoffset="-6" opacity="0.6"/>
<path d="M145.7 149 Q148.6 147.9 150.3 136" fill="none" stroke="#4a963f" stroke-width="1.2" stroke-linecap="round"/>
<path d="M145.7 149 Q148.6 147.9 150.3 136" fill="none" stroke="#bfe39a" stroke-width="0.8" stroke-dasharray="1.4 9" stroke-dashoffset="-6" opacity="0.6"/>
<path d="M145.6 160 Q135.7 159.5 129.6 139.5" fill="none" stroke="#4a963f" stroke-width="1.4" stroke-linecap="round"/>
<path d="M145.6 160 Q135.7 159.5 129.6 139.5" fill="none" stroke="#bfe39a" stroke-width="0.9" stroke-dasharray="1.4 9" stroke-dashoffset="-6" opacity="0.6"/>
<path d="M145.6 160 Q138.8 158.8 134.6 141.7" fill="none" stroke="#4a963f" stroke-width="1.4" stroke-linecap="round"/>
<path d="M145.6 160 Q138.8 158.8 134.6 141.7" fill="none" stroke="#bfe39a" stroke-width="0.9" stroke-dasharray="1.4 9" stroke-dashoffset="-6" opacity="0.6"/>
<path d="M145.6 160 Q141.8 158 139.5 142.7" fill="none" stroke="#4a963f" stroke-width="1.4" stroke-linecap="round"/>
<path d="M145.6 160 Q141.8 158 139.5 142.7" fill="none" stroke="#bfe39a" stroke-width="0.9" stroke-dasharray="1.4 9" stroke-dashoffset="-6" opacity="0.6"/>
<path d="M145.6 160 Q155.5 159.5 161.6 140.3" fill="none" stroke="#4a963f" stroke-width="1.4" stroke-linecap="round"/>
<path d="M145.6 160 Q155.5 159.5 161.6 140.3" fill="none" stroke="#bfe39a" stroke-width="0.9" stroke-dasharray="1.4 9" stroke-dashoffset="-6" opacity="0.6"/>
<path d="M145.6 160 Q152.4 158.6 156.6 140.9" fill="none" stroke="#4a963f" stroke-width="1.4" stroke-linecap="round"/>
<path d="M145.6 160 Q152.4 158.6 156.6 140.9" fill="none" stroke="#bfe39a" stroke-width="0.9" stroke-dasharray="1.4 9" stroke-dashoffset="-6" opacity="0.6"/>
<path d="M145.6 160 Q149.4 157.9 151.7 141.9" fill="none" stroke="#4a963f" stroke-width="1.4" stroke-linecap="round"/>
<path d="M145.6 160 Q149.4 157.9 151.7 141.9" fill="none" stroke="#bfe39a" stroke-width="0.9" stroke-dasharray="1.4 9" stroke-dashoffset="-6" opacity="0.6"/>
<path d="M145.5 173 Q133.1 172 125.5 147.6" fill="none" stroke="#4a963f" stroke-width="1.6" stroke-linecap="round"/>
<path d="M145.5 173 Q133.1 172 125.5 147.6" fill="none" stroke="#bfe39a" stroke-width="1.1" stroke-dasharray="1.4 9" stroke-dashoffset="-6" opacity="0.6"/>
<path d="M145.5 173 Q135.6 171.3 129.6 149.2" fill="none" stroke="#4a963f" stroke-width="1.6" stroke-linecap="round"/>
<path d="M145.5 173 Q135.6 171.3 129.6 149.2" fill="none" stroke="#bfe39a" stroke-width="1.1" stroke-dasharray="1.4 9" stroke-dashoffset="-6" opacity="0.6"/>
<path d="M145.5 173 Q138.2 170.6 133.7 149.5" fill="none" stroke="#4a963f" stroke-width="1.6" stroke-linecap="round"/>
<path d="M145.5 173 Q138.2 170.6 133.7 149.5" fill="none" stroke="#bfe39a" stroke-width="1.1" stroke-dasharray="1.4 9" stroke-dashoffset="-6" opacity="0.6"/>
<path d="M145.5 173 Q140.8 170.1 137.9 151.2" fill="none" stroke="#4a963f" stroke-width="1.6" stroke-linecap="round"/>
<path d="M145.5 173 Q140.8 170.1 137.9 151.2" fill="none" stroke="#bfe39a" stroke-width="1.1" stroke-dasharray="1.4 9" stroke-dashoffset="-6" opacity="0.6"/>
<path d="M145.5 173 Q157.9 172 165.5 148.4" fill="none" stroke="#4a963f" stroke-width="1.6" stroke-linecap="round"/>
<path d="M145.5 173 Q157.9 172 165.5 148.4" fill="none" stroke="#bfe39a" stroke-width="1.1" stroke-dasharray="1.4 9" stroke-dashoffset="-6" opacity="0.6"/>
<path d="M145.5 173 Q155.3 171.2 161.3 148.4" fill="none" stroke="#4a963f" stroke-width="1.6" stroke-linecap="round"/>
<path d="M145.5 173 Q155.3 171.2 161.3 148.4" fill="none" stroke="#bfe39a" stroke-width="1.1" stroke-dasharray="1.4 9" stroke-dashoffset="-6" opacity="0.6"/>
<path d="M145.5 173 Q152.7 170.6 157.2 149.8" fill="none" stroke="#4a963f" stroke-width="1.6" stroke-linecap="round"/>
<path d="M145.5 173 Q152.7 170.6 157.2 149.8" fill="none" stroke="#bfe39a" stroke-width="1.1" stroke-dasharray="1.4 9" stroke-dashoffset="-6" opacity="0.6"/>
<path d="M145.5 173 Q150.2 170 153.1 150.7" fill="none" stroke="#4a963f" stroke-width="1.6" stroke-linecap="round"/>
<path d="M145.5 173 Q150.2 170 153.1 150.7" fill="none" stroke="#bfe39a" stroke-width="1.1" stroke-dasharray="1.4 9" stroke-dashoffset="-6" opacity="0.6"/>
<path d="M145.3 192 Q129.8 190.4 120.3 160.7" fill="none" stroke="#4a963f" stroke-width="1.7" stroke-linecap="round"/>
<path d="M145.3 192 Q129.8 190.4 120.3 160.7" fill="none" stroke="#bfe39a" stroke-width="1.2" stroke-dasharray="1.4 9" stroke-dashoffset="-6" opacity="0.6"/>
<path d="M145.3 192 Q133 189.4 125.4 161.4" fill="none" stroke="#4a963f" stroke-width="1.7" stroke-linecap="round"/>
<path d="M145.3 192 Q133 189.4 125.4 161.4" fill="none" stroke="#bfe39a" stroke-width="1.2" stroke-dasharray="1.4 9" stroke-dashoffset="-6" opacity="0.6"/>
<path d="M145.3 192 Q136.2 188.8 130.6 163.5" fill="none" stroke="#4a963f" stroke-width="1.7" stroke-linecap="round"/>
<path d="M145.3 192 Q136.2 188.8 130.6 163.5" fill="none" stroke="#bfe39a" stroke-width="1.2" stroke-dasharray="1.4 9" stroke-dashoffset="-6" opacity="0.6"/>
<path d="M145.3 192 Q139.4 187.9 135.8 164.2" fill="none" stroke="#4a963f" stroke-width="1.7" stroke-linecap="round"/>
<path d="M145.3 192 Q139.4 187.9 135.8 164.2" fill="none" stroke="#bfe39a" stroke-width="1.2" stroke-dasharray="1.4 9" stroke-dashoffset="-6" opacity="0.6"/>
<path d="M145.3 192 Q160.8 190.4 170.3 160.6" fill="none" stroke="#4a963f" stroke-width="1.7" stroke-linecap="round"/>
<path d="M145.3 192 Q160.8 190.4 170.3 160.6" fill="none" stroke="#bfe39a" stroke-width="1.2" stroke-dasharray="1.4 9" stroke-dashoffset="-6" opacity="0.6"/>
<path d="M145.3 192 Q157.6 189.4 165.1 161.6" fill="none" stroke="#4a963f" stroke-width="1.7" stroke-linecap="round"/>
<path d="M145.3 192 Q157.6 189.4 165.1 161.6" fill="none" stroke="#bfe39a" stroke-width="1.2" stroke-dasharray="1.4 9" stroke-dashoffset="-6" opacity="0.6"/>
<path d="M145.3 192 Q154.4 188.8 159.9 163.6" fill="none" stroke="#4a963f" stroke-width="1.7" stroke-linecap="round"/>
<path d="M145.3 192 Q154.4 188.8 159.9 163.6" fill="none" stroke="#bfe39a" stroke-width="1.2" stroke-dasharray="1.4 9" stroke-dashoffset="-6" opacity="0.6"/>
<path d="M145.3 192 Q151.2 188 154.8 164.4" fill="none" stroke="#4a963f" stroke-width="1.7" stroke-linecap="round"/>
<path d="M145.3 192 Q151.2 188 154.8 164.4" fill="none" stroke="#bfe39a" stroke-width="1.2" stroke-dasharray="1.4 9" stroke-dashoffset="-6" opacity="0.6"/>
<path d="M145.1 223.7 Q125.9 221.2 114.1 183.5" fill="none" stroke="#4a963f" stroke-width="1.9" stroke-linecap="round"/>
<path d="M145.1 223.7 Q125.9 221.2 114.1 183.5" fill="none" stroke="#bfe39a" stroke-width="1.3" stroke-dasharray="1.4 9" stroke-dashoffset="-6" opacity="0.6"/>
<path d="M145.1 223.7 Q129.9 220.1 120.5 185.7" fill="none" stroke="#4a963f" stroke-width="1.9" stroke-linecap="round"/>
<path d="M145.1 223.7 Q129.9 220.1 120.5 185.7" fill="none" stroke="#bfe39a" stroke-width="1.3" stroke-dasharray="1.4 9" stroke-dashoffset="-6" opacity="0.6"/>
<path d="M145.1 223.7 Q133.8 219.2 126.9 187.5" fill="none" stroke="#4a963f" stroke-width="1.9" stroke-linecap="round"/>
<path d="M145.1 223.7 Q133.8 219.2 126.9 187.5" fill="none" stroke="#bfe39a" stroke-width="1.3" stroke-dasharray="1.4 9" stroke-dashoffset="-6" opacity="0.6"/>
<path d="M145.1 223.7 Q137.8 218.1 133.3 188.2" fill="none" stroke="#4a963f" stroke-width="1.9" stroke-linecap="round"/>
<path d="M145.1 223.7 Q137.8 218.1 133.3 188.2" fill="none" stroke="#bfe39a" stroke-width="1.3" stroke-dasharray="1.4 9" stroke-dashoffset="-6" opacity="0.6"/>
<path d="M145.1 223.7 Q164.3 221.3 176.1 184.7" fill="none" stroke="#4a963f" stroke-width="1.9" stroke-linecap="round"/>
<path d="M145.1 223.7 Q164.3 221.3 176.1 184.7" fill="none" stroke="#bfe39a" stroke-width="1.3" stroke-dasharray="1.4 9" stroke-dashoffset="-6" opacity="0.6"/>
<path d="M145.1 223.7 Q160.4 220 169.7 184.4" fill="none" stroke="#4a963f" stroke-width="1.9" stroke-linecap="round"/>
<path d="M145.1 223.7 Q160.4 220 169.7 184.4" fill="none" stroke="#bfe39a" stroke-width="1.3" stroke-dasharray="1.4 9" stroke-dashoffset="-6" opacity="0.6"/>
<path d="M145.1 223.7 Q156.4 219.2 163.3 187.7" fill="none" stroke="#4a963f" stroke-width="1.9" stroke-linecap="round"/>
<path d="M145.1 223.7 Q156.4 219.2 163.3 187.7" fill="none" stroke="#bfe39a" stroke-width="1.3" stroke-dasharray="1.4 9" stroke-dashoffset="-6" opacity="0.6"/>
<path d="M145.1 223.7 Q152.4 218.4 156.9 189.5" fill="none" stroke="#4a963f" stroke-width="1.9" stroke-linecap="round"/>
<path d="M145.1 223.7 Q152.4 218.4 156.9 189.5" fill="none" stroke="#bfe39a" stroke-width="1.3" stroke-dasharray="1.4 9" stroke-dashoffset="-6" opacity="0.6"/>
<path d="M145.1 257.4 Q121.2 254.6 106.6 214.4" fill="none" stroke="#4a963f" stroke-width="2" stroke-linecap="round"/>
<path d="M145.1 257.4 Q121.2 254.6 106.6 214.4" fill="none" stroke="#bfe39a" stroke-width="1.4" stroke-dasharray="1.4 9" stroke-dashoffset="-6" opacity="0.6"/>
<path d="M145.1 257.4 Q126.1 253.1 114.5 214.1" fill="none" stroke="#4a963f" stroke-width="2" stroke-linecap="round"/>
<path d="M145.1 257.4 Q126.1 253.1 114.5 214.1" fill="none" stroke="#bfe39a" stroke-width="1.4" stroke-dasharray="1.4 9" stroke-dashoffset="-6" opacity="0.6"/>
<path d="M145.1 257.4 Q131.1 252.2 122.5 217.3" fill="none" stroke="#4a963f" stroke-width="2" stroke-linecap="round"/>
<path d="M145.1 257.4 Q131.1 252.2 122.5 217.3" fill="none" stroke="#bfe39a" stroke-width="1.4" stroke-dasharray="1.4 9" stroke-dashoffset="-6" opacity="0.6"/>
<path d="M145.1 257.4 Q136 251.3 130.4 219.5" fill="none" stroke="#4a963f" stroke-width="2" stroke-linecap="round"/>
<path d="M145.1 257.4 Q136 251.3 130.4 219.5" fill="none" stroke="#bfe39a" stroke-width="1.4" stroke-dasharray="1.4 9" stroke-dashoffset="-6" opacity="0.6"/>
<path d="M145.1 257.4 Q168.9 254.6 183.6 214.6" fill="none" stroke="#4a963f" stroke-width="2" stroke-linecap="round"/>
<path d="M145.1 257.4 Q168.9 254.6 183.6 214.6" fill="none" stroke="#bfe39a" stroke-width="1.4" stroke-dasharray="1.4 9" stroke-dashoffset="-6" opacity="0.6"/>
<path d="M145.1 257.4 Q164 253.4 175.6 216.3" fill="none" stroke="#4a963f" stroke-width="2" stroke-linecap="round"/>
<path d="M145.1 257.4 Q164 253.4 175.6 216.3" fill="none" stroke="#bfe39a" stroke-width="1.4" stroke-dasharray="1.4 9" stroke-dashoffset="-6" opacity="0.6"/>
<path d="M145.1 257.4 Q159.1 252.1 167.6 216.5" fill="none" stroke="#4a963f" stroke-width="2" stroke-linecap="round"/>
<path d="M145.1 257.4 Q159.1 252.1 167.6 216.5" fill="none" stroke="#bfe39a" stroke-width="1.4" stroke-dasharray="1.4 9" stroke-dashoffset="-6" opacity="0.6"/>
<path d="M145.1 257.4 Q154.1 251.1 159.7 218.4" fill="none" stroke="#4a963f" stroke-width="2" stroke-linecap="round"/>
<path d="M145.1 257.4 Q154.1 251.1 159.7 218.4" fill="none" stroke="#bfe39a" stroke-width="1.4" stroke-dasharray="1.4 9" stroke-dashoffset="-6" opacity="0.6"/>
<path d="M145.3 290.5 Q120.5 287.4 105.3 245" fill="none" stroke="#4a963f" stroke-width="2.1" stroke-linecap="round"/>
<path d="M145.3 290.5 Q120.5 287.4 105.3 245" fill="none" stroke="#bfe39a" stroke-width="1.5" stroke-dasharray="1.4 9" stroke-dashoffset="-6" opacity="0.6"/>
<path d="M145.3 290.5 Q125.6 286.2 113.6 246.7" fill="none" stroke="#4a963f" stroke-width="2.1" stroke-linecap="round"/>
<path d="M145.3 290.5 Q125.6 286.2 113.6 246.7" fill="none" stroke="#bfe39a" stroke-width="1.5" stroke-dasharray="1.4 9" stroke-dashoffset="-6" opacity="0.6"/>
<path d="M145.3 290.5 Q130.8 285.3 121.8 250.2" fill="none" stroke="#4a963f" stroke-width="2.1" stroke-linecap="round"/>
<path d="M145.3 290.5 Q130.8 285.3 121.8 250.2" fill="none" stroke="#bfe39a" stroke-width="1.5" stroke-dasharray="1.4 9" stroke-dashoffset="-6" opacity="0.6"/>
<path d="M145.3 290.5 Q135.9 284 130.1 250.7" fill="none" stroke="#4a963f" stroke-width="2.1" stroke-linecap="round"/>
<path d="M145.3 290.5 Q135.9 284 130.1 250.7" fill="none" stroke="#bfe39a" stroke-width="1.5" stroke-dasharray="1.4 9" stroke-dashoffset="-6" opacity="0.6"/>
<path d="M145.3 290.5 Q170.1 287.5 185.3 245.9" fill="none" stroke="#4a963f" stroke-width="2.1" stroke-linecap="round"/>
<path d="M145.3 290.5 Q170.1 287.5 185.3 245.9" fill="none" stroke="#bfe39a" stroke-width="1.5" stroke-dasharray="1.4 9" stroke-dashoffset="-6" opacity="0.6"/>
<path d="M145.3 290.5 Q165 286.1 177 246.5" fill="none" stroke="#4a963f" stroke-width="2.1" stroke-linecap="round"/>
<path d="M145.3 290.5 Q165 286.1 177 246.5" fill="none" stroke="#bfe39a" stroke-width="1.5" stroke-dasharray="1.4 9" stroke-dashoffset="-6" opacity="0.6"/>
<path d="M145.3 290.5 Q159.9 285 168.8 248.3" fill="none" stroke="#4a963f" stroke-width="2.1" stroke-linecap="round"/>
<path d="M145.3 290.5 Q159.9 285 168.8 248.3" fill="none" stroke="#bfe39a" stroke-width="1.5" stroke-dasharray="1.4 9" stroke-dashoffset="-6" opacity="0.6"/>
<path d="M145.3 290.5 Q154.7 283.9 160.5 250" fill="none" stroke="#4a963f" stroke-width="2.1" stroke-linecap="round"/>
<path d="M145.3 290.5 Q154.7 283.9 160.5 250" fill="none" stroke="#bfe39a" stroke-width="1.5" stroke-dasharray="1.4 9" stroke-dashoffset="-6" opacity="0.6"/>
<path d="M146.6 339.5 Q116.5 335.4 98 293" fill="none" stroke="#4a963f" stroke-width="2" stroke-linecap="round"/>
<path d="M146.6 339.5 Q116.5 335.4 98 293" fill="none" stroke="#bfe39a" stroke-width="1.4" stroke-dasharray="1.4 9" stroke-dashoffset="-6" opacity="0.6"/>
<path d="M146.6 339.5 Q122.7 335.9 108 297" fill="none" stroke="#4a963f" stroke-width="2" stroke-linecap="round"/>
<path d="M146.6 339.5 Q122.7 335.9 108 297" fill="none" stroke="#bfe39a" stroke-width="1.4" stroke-dasharray="1.4 9" stroke-dashoffset="-6" opacity="0.6"/>
<path d="M146.6 339.5 Q129.5 336.5 119 302" fill="none" stroke="#4a963f" stroke-width="2" stroke-linecap="round"/>
<path d="M146.6 339.5 Q129.5 336.5 119 302" fill="none" stroke="#bfe39a" stroke-width="1.4" stroke-dasharray="1.4 9" stroke-dashoffset="-6" opacity="0.6"/>
<path d="M146.6 339.5 Q136.3 337.5 130 310" fill="none" stroke="#4a963f" stroke-width="2" stroke-linecap="round"/>
<path d="M146.6 339.5 Q136.3 337.5 130 310" fill="none" stroke="#bfe39a" stroke-width="1.4" stroke-dasharray="1.4 9" stroke-dashoffset="-6" opacity="0.6"/>
<path d="M146.6 339.5 Q188.8 339 214.7 322.8" fill="none" stroke="#4a963f" stroke-width="2" stroke-linecap="round"/>
<path d="M146.6 339.5 Q188.8 339 214.7 322.8" fill="none" stroke="#bfe39a" stroke-width="1.4" stroke-dasharray="1.4 9" stroke-dashoffset="-6" opacity="0.6"/>
<path d="M146.6 339.5 Q175.4 340.9 193 338.6" fill="none" stroke="#4a963f" stroke-width="2" stroke-linecap="round"/>
<path d="M146.6 339.5 Q175.4 340.9 193 338.6" fill="none" stroke="#bfe39a" stroke-width="1.4" stroke-dasharray="1.4 9" stroke-dashoffset="-6" opacity="0.6"/>
<path d="M146.6 339.5 Q158.6 336.7 166 304" fill="none" stroke="#4a963f" stroke-width="2" stroke-linecap="round"/>
<path d="M146.6 339.5 Q158.6 336.7 166 304" fill="none" stroke="#bfe39a" stroke-width="1.4" stroke-dasharray="1.4 9" stroke-dashoffset="-6" opacity="0.6"/>
<polyline points="146.6,339.5 153.4,337.8 159.4,335.1 164.7,331.4 169.2,326.6 173,320.8 176,314 178.6,306.6 181.2,299.2 183.6,291.8 186,284.2 188.2,276.6 190.4,269" fill="none" stroke="#4a963f" stroke-width="1.8" stroke-linecap="round" stroke-linejoin="round"/>
<path d="M165.5 333.5 Q160 332.8 156.6 311.5" fill="none" stroke="#5a9848" stroke-width="1" stroke-linecap="round"/>
<path d="M165.5 333.5 Q162.7 333.1 161 314" fill="none" stroke="#5a9848" stroke-width="1" stroke-linecap="round"/>
<path d="M165.5 333.5 Q181.3 334.3 191 326.6" fill="none" stroke="#5a9848" stroke-width="1" stroke-linecap="round"/>
<path d="M165.5 333.5 Q176.3 333.9 183 322" fill="none" stroke="#5a9848" stroke-width="1" stroke-linecap="round"/>
<path d="M174.5 317.7 Q167.7 316.8 163.6 293.4" fill="none" stroke="#5a9848" stroke-width="1" stroke-linecap="round"/>
<path d="M174.5 317.7 Q172.9 316.8 172 293.4" fill="none" stroke="#5a9848" stroke-width="1" stroke-linecap="round"/>
<path d="M174.5 317.7 Q191.9 317.9 202.6 304.3" fill="none" stroke="#5a9848" stroke-width="1" stroke-linecap="round"/>
<path d="M174.5 317.7 Q186.3 316.8 193.6 294" fill="none" stroke="#5a9848" stroke-width="1" stroke-linecap="round"/>
<path d="M174.5 317.7 Q170.5 317.1 168 297" fill="none" stroke="#5a9848" stroke-width="1" stroke-linecap="round"/>
<path d="M182 297.3 Q179.7 296.8 178.3 276.8" fill="none" stroke="#5a9848" stroke-width="1" stroke-linecap="round"/>
<path d="M182 297.3 Q182.6 296.9 183 278" fill="none" stroke="#5a9848" stroke-width="1" stroke-linecap="round"/>
<path d="M182 297.3 Q190.1 297 195 279.4" fill="none" stroke="#5a9848" stroke-width="1" stroke-linecap="round"/>
<path d="M182 297.3 Q177.3 297.3 174.5 282" fill="none" stroke="#5a9848" stroke-width="1" stroke-linecap="round"/>
<path d="M188 280.6 Q185.1 280.9 183.4 269" fill="none" stroke="#5a9848" stroke-width="1" stroke-linecap="round"/>
<path d="M188 280.6 Q187.1 280.8 186.6 267.5" fill="none" stroke="#5a9848" stroke-width="1" stroke-linecap="round"/>
<path d="M188 280.6 Q189.1 280.8 189.8 268" fill="none" stroke="#5a9848" stroke-width="1" stroke-linecap="round"/>
<path d="M188 280.6 Q191.5 281.1 193.6 270.5" fill="none" stroke="#5a9848" stroke-width="1" stroke-linecap="round"/>
<path d="M188 280.6 Q193.3 281.4 196.5 274" fill="none" stroke="#5a9848" stroke-width="1" stroke-linecap="round"/>
<polygon points="145,125 144.1,160 143.2,200 142.5,250 142.2,290.1 143,339.1 144.5,372.2 152.7,371.8 150.2,338.9 148.4,289.9 147.5,250 147.2,200 147.1,160 147,125" fill="#3f9139" stroke="#2f7a2e" stroke-width="0.6" stroke-linejoin="round"/>
<path d="M143.5 191 L142.3 187.5 L148.3 187.5 L147.1 191 Z" fill="#b9b08c" stroke="#6e6a4a" stroke-width="0.5"/>
<path d="M142 187.5 L143 184.5 L144 187.5 Z" fill="#4a4030"/>
<path d="M143.5 187.5 L144.5 184.5 L145.5 187.5 Z" fill="#4a4030"/>
<path d="M145 187.5 L146 184.5 L147 187.5 Z" fill="#4a4030"/>
<path d="M146.5 187.5 L147.5 184.5 L148.5 187.5 Z" fill="#4a4030"/>
<path d="M142.8 222 L141.6 217 L148.6 217 L147.4 222 Z" fill="#b9b08c" stroke="#6e6a4a" stroke-width="0.5"/>
<path d="M141.5 217 L142.5 214 L143.5 217 Z" fill="#4a4030"/>
<path d="M143.2 217 L144.2 214 L145.2 217 Z" fill="#4a4030"/>
<path d="M145 217 L146 214 L147 217 Z" fill="#4a4030"/>
<path d="M146.7 217 L147.7 214 L148.7 217 Z" fill="#4a4030"/>
<path d="M142.2 255.5 L141 249.5 L149 249.5 L147.8 255.5 Z" fill="#b9b08c" stroke="#6e6a4a" stroke-width="0.5"/>
<path d="M141 249.5 L142 246.5 L143 249.5 Z" fill="#4a4030"/>
<path d="M143 249.5 L144 246.5 L145 249.5 Z" fill="#4a4030"/>
<path d="M145 249.5 L146 246.5 L147 249.5 Z" fill="#4a4030"/>
<path d="M147 249.5 L148 246.5 L149 249.5 Z" fill="#4a4030"/>
<path d="M142 288.5 L140.8 281.5 L149.8 281.5 L148.6 288.5 Z" fill="#b9b08c" stroke="#6e6a4a" stroke-width="0.5"/>
<path d="M140.9 281.5 L141.9 278.5 L142.9 281.5 Z" fill="#4a4030"/>
<path d="M143.2 281.5 L144.2 278.5 L145.2 281.5 Z" fill="#4a4030"/>
<path d="M145.4 281.5 L146.4 278.5 L147.4 281.5 Z" fill="#4a4030"/>
<path d="M147.7 281.5 L148.7 278.5 L149.7 281.5 Z" fill="#4a4030"/>
<path d="M142.7 334 L141.5 326 L151.5 326 L150.3 334 Z" fill="#b9b08c" stroke="#6e6a4a" stroke-width="0.5"/>
<path d="M141.7 326 L142.7 323 L143.7 326 Z" fill="#4a4030"/>
<path d="M144.2 326 L145.2 323 L146.2 326 Z" fill="#4a4030"/>
<path d="M146.7 326 L147.7 323 L148.7 326 Z" fill="#4a4030"/>
<path d="M149.2 326 L150.2 323 L151.2 326 Z" fill="#4a4030"/>
<path d="M145.1 380 L143.9 372 L154.5 372 L153.3 380 Z" fill="#b9b08c" stroke="#6e6a4a" stroke-width="0.5"/>
<path d="M144.2 372 L145.2 369 L146.2 372 Z" fill="#4a4030"/>
<path d="M146.9 372 L147.9 369 L148.9 372 Z" fill="#4a4030"/>
<path d="M149.5 372 L150.5 369 L151.5 372 Z" fill="#4a4030"/>
<path d="M152.2 372 L153.2 369 L154.2 372 Z" fill="#4a4030"/>
<polygon points="145,380.1 145.9,421.1 154.1,420.9 152.8,379.9" fill="#e6c98c" stroke="#9a7a45" stroke-width="0.6" stroke-linejoin="round"/>
<rect x="145.2" y="380" width="7.8" height="9" fill="#b98a4e" opacity="0.8"/>
<polygon points="231.7,295.9 231.5,304.8 229.7,329.8 227.2,354.7 225.2,379.9 225.7,420.1 228.2,470.1 233.8,469.9 231.3,419.9 230.8,380.1 232.8,355.3 235.3,330.2 237.1,305.2 237.3,296.1" fill="#d2b56e" stroke="#a88a4a" stroke-width="0.6" stroke-linejoin="round"/>
<polyline points="233.3,296 233.1,305 231.3,330 228.8,355 226.8,380 227.3,420 229.8,470" fill="none" stroke="#a8893f" stroke-width="0.5"/>
<polyline points="235.7,296 235.5,305 233.7,330 231.2,355 229.2,380 229.7,420 232.2,470" fill="none" stroke="#a8893f" stroke-width="0.5"/>
<g transform="translate(233.3 319) rotate(4.1)">
<path d="M-2.8 0 C-5 -3.2 -4.8 -7.8 -2.5 -13 L2.5 -13 C4.8 -7.8 5 -3.2 2.8 0 Z" fill="#b98d4c" stroke="#7a5528" stroke-width="0.5"/>
<path d="M-4.2 -5.5 C-4.4 -8.5 -2.8 -11.7 -2 -14.6 L2 -14.6 C2.8 -11.7 4.4 -8.5 4.2 -5.5 Z" fill="#5b3417"/>
<path d="M-3.3 -5.5 L-2.4 -0.7 L-1.5 -5.5 Z" fill="#5b3417"/>
<path d="M-1.7 -5.5 L-0.8 -0.7 L0.1 -5.5 Z" fill="#5b3417"/>
<path d="M-0.1 -5.5 L0.8 -0.7 L1.7 -5.5 Z" fill="#5b3417"/>
<path d="M1.5 -5.5 L2.4 -0.7 L3.3 -5.5 Z" fill="#5b3417"/>
</g>
<g transform="translate(230.1 354) rotate(5.7)">
<path d="M-2.8 0 C-5.3 -3.2 -5.2 -7.8 -2.5 -13 L2.5 -13 C5.2 -7.8 5.3 -3.2 2.8 0 Z" fill="#b98d4c" stroke="#7a5528" stroke-width="0.5"/>
<path d="M-4.5 -5.5 C-4.7 -8.5 -2.8 -11.7 -2 -14.6 L2 -14.6 C2.8 -11.7 4.7 -8.5 4.5 -5.5 Z" fill="#5b3417"/>
<path d="M-3.5 -5.5 L-2.6 -0.7 L-1.7 -5.5 Z" fill="#5b3417"/>
<path d="M-1.8 -5.5 L-0.9 -0.7 L0 -5.5 Z" fill="#5b3417"/>
<path d="M-0 -5.5 L0.9 -0.7 L1.8 -5.5 Z" fill="#5b3417"/>
<path d="M1.7 -5.5 L2.6 -0.7 L3.5 -5.5 Z" fill="#5b3417"/>
</g>
<g transform="translate(228.2 392) rotate(0.6)">
<path d="M-2.8 0 C-5.7 -4 -5.5 -9.6 -2.5 -16 L2.5 -16 C5.5 -9.6 5.7 -4 2.8 0 Z" fill="#b98d4c" stroke="#7a5528" stroke-width="0.5"/>
<path d="M-4.8 -6.7 C-5.1 -10.4 -2.8 -14.4 -2 -17.9 L2 -17.9 C2.8 -14.4 5.1 -10.4 4.8 -6.7 Z" fill="#5b3417"/>
<path d="M-3.7 -6.7 L-2.8 -0.8 L-1.9 -6.7 Z" fill="#5b3417"/>
<path d="M-1.8 -6.7 L-0.9 -0.8 L-0 -6.7 Z" fill="#5b3417"/>
<path d="M0 -6.7 L0.9 -0.8 L1.8 -6.7 Z" fill="#5b3417"/>
<path d="M1.9 -6.7 L2.8 -0.8 L3.7 -6.7 Z" fill="#5b3417"/>
</g>
<g transform="translate(229.1 432) rotate(-2.1)">
<path d="M-2.8 0 C-6 -4.5 -5.8 -10.8 -2.5 -18 L2.5 -18 C5.8 -10.8 6 -4.5 2.8 0 Z" fill="#b98d4c" stroke="#7a5528" stroke-width="0.5"/>
<path d="M-5 -7.6 C-5.3 -11.7 -2.8 -16.2 -2 -20.2 L2 -20.2 C2.8 -16.2 5.3 -11.7 5 -7.6 Z" fill="#5b3417"/>
<path d="M-3.8 -7.6 L-2.9 -0.9 L-2 -7.6 Z" fill="#5b3417"/>
<path d="M-1.9 -7.6 L-1 -0.9 L-0.1 -7.6 Z" fill="#5b3417"/>
<path d="M0.1 -7.6 L1 -0.9 L1.9 -7.6 Z" fill="#5b3417"/>
<path d="M2 -7.6 L2.9 -0.9 L3.8 -7.6 Z" fill="#5b3417"/>
</g>
<polygon points="265.6,253.8 265.1,262.8 263.6,289.7 259.1,319.6 255.1,349.7 252.6,379.9 253.1,420.1 255.6,470.1 261.4,469.9 258.9,419.9 258.4,380.1 260.9,350.3 264.9,320.4 269.4,290.3 270.9,263.2 271.4,254.2" fill="#d2b56e" stroke="#a88a4a" stroke-width="0.6" stroke-linejoin="round"/>
<polyline points="267.2,254 266.7,263 265.2,290 260.7,320 256.7,350 254.2,380 254.7,420 257.2,470" fill="none" stroke="#a8893f" stroke-width="0.5"/>
<polyline points="269.8,254 269.3,263 267.8,290 263.3,320 259.3,350 256.8,380 257.3,420 259.8,470" fill="none" stroke="#a8893f" stroke-width="0.5"/>
<g transform="translate(267.1 280) rotate(3.2)">
<path d="M-2.9 0 C-5.2 -4 -5 -9.6 -2.6 -16 L2.6 -16 C5 -9.6 5.2 -4 2.9 0 Z" fill="#b98d4c" stroke="#7a5528" stroke-width="0.5"/>
<path d="M-4.4 -6.7 C-4.6 -10.4 -2.9 -14.4 -2 -17.9 L2 -17.9 C2.9 -14.4 4.6 -10.4 4.4 -6.7 Z" fill="#5b3417"/>
<path d="M-3.4 -6.7 L-2.5 -0.8 L-1.6 -6.7 Z" fill="#5b3417"/>
<path d="M-1.7 -6.7 L-0.8 -0.8 L0.1 -6.7 Z" fill="#5b3417"/>
<path d="M-0.1 -6.7 L0.8 -0.8 L1.7 -6.7 Z" fill="#5b3417"/>
<path d="M1.6 -6.7 L2.5 -0.8 L3.4 -6.7 Z" fill="#5b3417"/>
</g>
<g transform="translate(261.9 321) rotate(8.5)">
<path d="M-2.9 0 C-6.4 -4.8 -6.2 -11.4 -2.6 -19 L2.6 -19 C6.2 -11.4 6.4 -4.8 2.9 0 Z" fill="#b98d4c" stroke="#7a5528" stroke-width="0.5"/>
<path d="M-5.4 -8 C-5.7 -12.3 -2.9 -17.1 -2 -21.3 L2 -21.3 C2.9 -17.1 5.7 -12.3 5.4 -8 Z" fill="#5b3417"/>
<path d="M-4 -8 L-3.1 -1 L-2.2 -8 Z" fill="#5b3417"/>
<path d="M-1.9 -8 L-1 -1 L-0.1 -8 Z" fill="#5b3417"/>
<path d="M0.1 -8 L1 -1 L1.9 -8 Z" fill="#5b3417"/>
<path d="M2.2 -8 L3.1 -1 L4 -8 Z" fill="#5b3417"/>
</g>
<g transform="translate(257.4 357) rotate(6.7)">
<path d="M-2.9 0 C-7.1 -5.2 -6.8 -12.6 -2.6 -21 L2.6 -21 C6.8 -12.6 7.1 -5.2 2.9 0 Z" fill="#b98d4c" stroke="#7a5528" stroke-width="0.5"/>
<path d="M-5.9 -8.8 C-6.3 -13.7 -2.9 -18.9 -2 -23.5 L2 -23.5 C2.9 -18.9 6.3 -13.7 5.9 -8.8 Z" fill="#5b3417"/>
<path d="M-4.3 -8.8 L-3.4 -1.1 L-2.5 -8.8 Z" fill="#5b3417"/>
<path d="M-2 -8.8 L-1.1 -1.1 L-0.2 -8.8 Z" fill="#5b3417"/>
<path d="M0.2 -8.8 L1.1 -1.1 L2 -8.8 Z" fill="#5b3417"/>
<path d="M2.5 -8.8 L3.4 -1.1 L4.3 -8.8 Z" fill="#5b3417"/>
</g>
<g transform="translate(255.7 396) rotate(0.4)">
<path d="M-2.9 0 C-7.1 -5 -6.8 -12 -2.6 -20 L2.6 -20 C6.8 -12 7.1 -5 2.9 0 Z" fill="#b98d4c" stroke="#7a5528" stroke-width="0.5"/>
<path d="M-5.9 -8.4 C-6.3 -13 -2.9 -18 -2 -22.4 L2 -22.4 C2.9 -18 6.3 -13 5.9 -8.4 Z" fill="#5b3417"/>
<path d="M-4.3 -8.4 L-3.4 -1 L-2.5 -8.4 Z" fill="#5b3417"/>
<path d="M-2 -8.4 L-1.1 -1 L-0.2 -8.4 Z" fill="#5b3417"/>
<path d="M0.2 -8.4 L1.1 -1 L2 -8.4 Z" fill="#5b3417"/>
<path d="M2.5 -8.4 L3.4 -1 L4.3 -8.4 Z" fill="#5b3417"/>
</g>
<g transform="translate(256.9 437) rotate(-2.4)">
<path d="M-2.9 0 C-7.4 -5.5 -7.2 -13.2 -2.6 -22 L2.6 -22 C7.2 -13.2 7.4 -5.5 2.9 0 Z" fill="#b98d4c" stroke="#7a5528" stroke-width="0.5"/>
<path d="M-6.2 -9.2 C-6.6 -14.3 -2.9 -19.8 -2 -24.6 L2 -24.6 C2.9 -19.8 6.6 -14.3 6.2 -9.2 Z" fill="#5b3417"/>
<path d="M-4.5 -9.2 L-3.6 -1.1 L-2.7 -9.2 Z" fill="#5b3417"/>
<path d="M-2.1 -9.2 L-1.2 -1.1 L-0.3 -9.2 Z" fill="#5b3417"/>
<path d="M0.3 -9.2 L1.2 -1.1 L2.1 -9.2 Z" fill="#5b3417"/>
<path d="M2.7 -9.2 L3.6 -1.1 L4.5 -9.2 Z" fill="#5b3417"/>
</g>
<g>
<path d="M234.5 254 C238.8 257.4 241.8 271 241.8 282.9 C241.8 291.4 239.7 296.5 234.5 296.5 C229.3 296.5 227.2 291.4 227.2 282.9 C227.2 271 230.2 257.4 234.5 254 Z" fill="#f1dfb6" stroke="#a06a34" stroke-width="0.6" stroke-dasharray="1.6 0.8"/>
<circle cx="234.5" cy="256.7" r="1.9" fill="#d49a5e" stroke="#8a5026" stroke-width="0.5"/>
<circle cx="232.6" cy="259.6" r="1.9" fill="#d49a5e" stroke="#8a5026" stroke-width="0.5"/>
<circle cx="236.4" cy="259.6" r="1.9" fill="#d49a5e" stroke="#8a5026" stroke-width="0.5"/>
<circle cx="232.6" cy="262.4" r="1.9" fill="#d49a5e" stroke="#8a5026" stroke-width="0.5"/>
<circle cx="236.4" cy="262.4" r="1.9" fill="#d49a5e" stroke="#8a5026" stroke-width="0.5"/>
<circle cx="230.7" cy="265.3" r="1.9" fill="#d49a5e" stroke="#8a5026" stroke-width="0.5"/>
<circle cx="234.5" cy="265.3" r="1.9" fill="#d49a5e" stroke="#8a5026" stroke-width="0.5"/>
<circle cx="238.3" cy="265.3" r="1.9" fill="#d49a5e" stroke="#8a5026" stroke-width="0.5"/>
<circle cx="230.7" cy="268.1" r="1.9" fill="#d49a5e" stroke="#8a5026" stroke-width="0.5"/>
<circle cx="234.5" cy="268.1" r="1.9" fill="#d49a5e" stroke="#8a5026" stroke-width="0.5"/>
<circle cx="238.3" cy="268.1" r="1.9" fill="#d49a5e" stroke="#8a5026" stroke-width="0.5"/>
<circle cx="230.7" cy="271" r="1.9" fill="#d49a5e" stroke="#8a5026" stroke-width="0.5"/>
<circle cx="234.5" cy="271" r="1.9" fill="#d49a5e" stroke="#8a5026" stroke-width="0.5"/>
<circle cx="238.3" cy="271" r="1.9" fill="#d49a5e" stroke="#8a5026" stroke-width="0.5"/>
<circle cx="230.7" cy="273.8" r="1.9" fill="#d49a5e" stroke="#8a5026" stroke-width="0.5"/>
<circle cx="234.5" cy="273.8" r="1.9" fill="#d49a5e" stroke="#8a5026" stroke-width="0.5"/>
<circle cx="238.3" cy="273.8" r="1.9" fill="#d49a5e" stroke="#8a5026" stroke-width="0.5"/>
<circle cx="228.8" cy="276.7" r="1.9" fill="#d49a5e" stroke="#8a5026" stroke-width="0.5"/>
<circle cx="232.6" cy="276.7" r="1.9" fill="#d49a5e" stroke="#8a5026" stroke-width="0.5"/>
<circle cx="236.4" cy="276.7" r="1.9" fill="#d49a5e" stroke="#8a5026" stroke-width="0.5"/>
<circle cx="240.2" cy="276.7" r="1.9" fill="#d49a5e" stroke="#8a5026" stroke-width="0.5"/>
<circle cx="228.8" cy="279.5" r="1.9" fill="#d49a5e" stroke="#8a5026" stroke-width="0.5"/>
<circle cx="232.6" cy="279.5" r="1.9" fill="#d49a5e" stroke="#8a5026" stroke-width="0.5"/>
<circle cx="236.4" cy="279.5" r="1.9" fill="#d49a5e" stroke="#8a5026" stroke-width="0.5"/>
<circle cx="240.2" cy="279.5" r="1.9" fill="#d49a5e" stroke="#8a5026" stroke-width="0.5"/>
<circle cx="228.8" cy="282.4" r="1.9" fill="#d49a5e" stroke="#8a5026" stroke-width="0.5"/>
<circle cx="232.6" cy="282.4" r="1.9" fill="#d49a5e" stroke="#8a5026" stroke-width="0.5"/>
<circle cx="236.4" cy="282.4" r="1.9" fill="#d49a5e" stroke="#8a5026" stroke-width="0.5"/>
<circle cx="240.2" cy="282.4" r="1.9" fill="#d49a5e" stroke="#8a5026" stroke-width="0.5"/>
<circle cx="228.8" cy="285.2" r="1.9" fill="#d49a5e" stroke="#8a5026" stroke-width="0.5"/>
<circle cx="232.6" cy="285.2" r="1.9" fill="#d49a5e" stroke="#8a5026" stroke-width="0.5"/>
<circle cx="236.4" cy="285.2" r="1.9" fill="#d49a5e" stroke="#8a5026" stroke-width="0.5"/>
<circle cx="240.2" cy="285.2" r="1.9" fill="#d49a5e" stroke="#8a5026" stroke-width="0.5"/>
<circle cx="228.8" cy="288.1" r="1.9" fill="#d49a5e" stroke="#8a5026" stroke-width="0.5"/>
<circle cx="232.6" cy="288.1" r="1.9" fill="#d49a5e" stroke="#8a5026" stroke-width="0.5"/>
<circle cx="236.4" cy="288.1" r="1.9" fill="#d49a5e" stroke="#8a5026" stroke-width="0.5"/>
<circle cx="240.2" cy="288.1" r="1.9" fill="#d49a5e" stroke="#8a5026" stroke-width="0.5"/>
<circle cx="230.7" cy="290.9" r="1.9" fill="#d49a5e" stroke="#8a5026" stroke-width="0.5"/>
<circle cx="234.5" cy="290.9" r="1.9" fill="#d49a5e" stroke="#8a5026" stroke-width="0.5"/>
<circle cx="238.3" cy="290.9" r="1.9" fill="#d49a5e" stroke="#8a5026" stroke-width="0.5"/>
<circle cx="230.7" cy="293.8" r="1.9" fill="#d49a5e" stroke="#8a5026" stroke-width="0.5"/>
<circle cx="234.5" cy="293.8" r="1.9" fill="#d49a5e" stroke="#8a5026" stroke-width="0.5"/>
<circle cx="238.3" cy="293.8" r="1.9" fill="#d49a5e" stroke="#8a5026" stroke-width="0.5"/>
</g>
<g>
<path d="M269 204 C274.9 208 278.8 224.2 278.8 238.3 C278.8 248.4 276 254.5 269 254.5 C262 254.5 259.2 248.4 259.2 238.3 C259.2 224.2 263.1 208 269 204 Z" fill="#f1dfb6" stroke="#a06a34" stroke-width="0.6" stroke-dasharray="1.6 0.8"/>
<circle cx="269" cy="206.9" r="2.1" fill="#d49a5e" stroke="#8a5026" stroke-width="0.5"/>
<circle cx="266.9" cy="210.1" r="2.1" fill="#d49a5e" stroke="#8a5026" stroke-width="0.5"/>
<circle cx="271.1" cy="210.1" r="2.1" fill="#d49a5e" stroke="#8a5026" stroke-width="0.5"/>
<circle cx="266.9" cy="213.3" r="2.1" fill="#d49a5e" stroke="#8a5026" stroke-width="0.5"/>
<circle cx="271.1" cy="213.3" r="2.1" fill="#d49a5e" stroke="#8a5026" stroke-width="0.5"/>
<circle cx="264.8" cy="216.5" r="2.1" fill="#d49a5e" stroke="#8a5026" stroke-width="0.5"/>
<circle cx="269" cy="216.5" r="2.1" fill="#d49a5e" stroke="#8a5026" stroke-width="0.5"/>
<circle cx="273.2" cy="216.5" r="2.1" fill="#d49a5e" stroke="#8a5026" stroke-width="0.5"/>
<circle cx="264.8" cy="219.7" r="2.1" fill="#d49a5e" stroke="#8a5026" stroke-width="0.5"/>
<circle cx="269" cy="219.7" r="2.1" fill="#d49a5e" stroke="#8a5026" stroke-width="0.5"/>
<circle cx="273.2" cy="219.7" r="2.1" fill="#d49a5e" stroke="#8a5026" stroke-width="0.5"/>
<circle cx="262.7" cy="222.9" r="2.1" fill="#d49a5e" stroke="#8a5026" stroke-width="0.5"/>
<circle cx="266.9" cy="222.9" r="2.1" fill="#d49a5e" stroke="#8a5026" stroke-width="0.5"/>
<circle cx="271.1" cy="222.9" r="2.1" fill="#d49a5e" stroke="#8a5026" stroke-width="0.5"/>
<circle cx="275.3" cy="222.9" r="2.1" fill="#d49a5e" stroke="#8a5026" stroke-width="0.5"/>
<circle cx="262.7" cy="226.1" r="2.1" fill="#d49a5e" stroke="#8a5026" stroke-width="0.5"/>
<circle cx="266.9" cy="226.1" r="2.1" fill="#d49a5e" stroke="#8a5026" stroke-width="0.5"/>
<circle cx="271.1" cy="226.1" r="2.1" fill="#d49a5e" stroke="#8a5026" stroke-width="0.5"/>
<circle cx="275.3" cy="226.1" r="2.1" fill="#d49a5e" stroke="#8a5026" stroke-width="0.5"/>
<circle cx="262.7" cy="229.2" r="2.1" fill="#d49a5e" stroke="#8a5026" stroke-width="0.5"/>
<circle cx="266.9" cy="229.2" r="2.1" fill="#d49a5e" stroke="#8a5026" stroke-width="0.5"/>
<circle cx="271.1" cy="229.2" r="2.1" fill="#d49a5e" stroke="#8a5026" stroke-width="0.5"/>
<circle cx="275.3" cy="229.2" r="2.1" fill="#d49a5e" stroke="#8a5026" stroke-width="0.5"/>
<circle cx="262.7" cy="232.4" r="2.1" fill="#d49a5e" stroke="#8a5026" stroke-width="0.5"/>
<circle cx="266.9" cy="232.4" r="2.1" fill="#d49a5e" stroke="#8a5026" stroke-width="0.5"/>
<circle cx="271.1" cy="232.4" r="2.1" fill="#d49a5e" stroke="#8a5026" stroke-width="0.5"/>
<circle cx="275.3" cy="232.4" r="2.1" fill="#d49a5e" stroke="#8a5026" stroke-width="0.5"/>
<circle cx="260.6" cy="235.6" r="2.1" fill="#d49a5e" stroke="#8a5026" stroke-width="0.5"/>
<circle cx="264.8" cy="235.6" r="2.1" fill="#d49a5e" stroke="#8a5026" stroke-width="0.5"/>
<circle cx="269" cy="235.6" r="2.1" fill="#d49a5e" stroke="#8a5026" stroke-width="0.5"/>
<circle cx="273.2" cy="235.6" r="2.1" fill="#d49a5e" stroke="#8a5026" stroke-width="0.5"/>
<circle cx="277.4" cy="235.6" r="2.1" fill="#d49a5e" stroke="#8a5026" stroke-width="0.5"/>
<circle cx="260.6" cy="238.8" r="2.1" fill="#d49a5e" stroke="#8a5026" stroke-width="0.5"/>
<circle cx="264.8" cy="238.8" r="2.1" fill="#d49a5e" stroke="#8a5026" stroke-width="0.5"/>
<circle cx="269" cy="238.8" r="2.1" fill="#d49a5e" stroke="#8a5026" stroke-width="0.5"/>
<circle cx="273.2" cy="238.8" r="2.1" fill="#d49a5e" stroke="#8a5026" stroke-width="0.5"/>
<circle cx="277.4" cy="238.8" r="2.1" fill="#d49a5e" stroke="#8a5026" stroke-width="0.5"/>
<circle cx="260.6" cy="242" r="2.1" fill="#d49a5e" stroke="#8a5026" stroke-width="0.5"/>
<circle cx="264.8" cy="242" r="2.1" fill="#d49a5e" stroke="#8a5026" stroke-width="0.5"/>
<circle cx="269" cy="242" r="2.1" fill="#d49a5e" stroke="#8a5026" stroke-width="0.5"/>
<circle cx="273.2" cy="242" r="2.1" fill="#d49a5e" stroke="#8a5026" stroke-width="0.5"/>
<circle cx="277.4" cy="242" r="2.1" fill="#d49a5e" stroke="#8a5026" stroke-width="0.5"/>
<circle cx="262.7" cy="245.2" r="2.1" fill="#d49a5e" stroke="#8a5026" stroke-width="0.5"/>
<circle cx="266.9" cy="245.2" r="2.1" fill="#d49a5e" stroke="#8a5026" stroke-width="0.5"/>
<circle cx="271.1" cy="245.2" r="2.1" fill="#d49a5e" stroke="#8a5026" stroke-width="0.5"/>
<circle cx="275.3" cy="245.2" r="2.1" fill="#d49a5e" stroke="#8a5026" stroke-width="0.5"/>
<circle cx="262.7" cy="248.4" r="2.1" fill="#d49a5e" stroke="#8a5026" stroke-width="0.5"/>
<circle cx="266.9" cy="248.4" r="2.1" fill="#d49a5e" stroke="#8a5026" stroke-width="0.5"/>
<circle cx="271.1" cy="248.4" r="2.1" fill="#d49a5e" stroke="#8a5026" stroke-width="0.5"/>
<circle cx="275.3" cy="248.4" r="2.1" fill="#d49a5e" stroke="#8a5026" stroke-width="0.5"/>
<circle cx="262.7" cy="251.6" r="2.1" fill="#d49a5e" stroke="#8a5026" stroke-width="0.5"/>
<circle cx="266.9" cy="251.6" r="2.1" fill="#d49a5e" stroke="#8a5026" stroke-width="0.5"/>
<circle cx="271.1" cy="251.6" r="2.1" fill="#d49a5e" stroke="#8a5026" stroke-width="0.5"/>
<circle cx="275.3" cy="251.6" r="2.1" fill="#d49a5e" stroke="#8a5026" stroke-width="0.5"/>
</g>
<path d="M313.6 168 L322.6 168 C322.3 185 323 195 324.2 203.5 Q319 206.5 313.4 203.5 C314.6 195 314.4 185 313.6 168 Z" fill="#cfa94a" stroke="#a98632" stroke-width="0.6"/>
<g>
<path d="M317.5 57.5 C330.4 66.6 339 102.9 339 134.7 C339 157.4 333 171 317.5 171 C302 171 296 157.4 296 134.7 C296 102.9 304.6 66.6 317.5 57.5 Z" fill="#f0e0b8" stroke="#9a6030" stroke-width="1.1" stroke-dasharray="5 2"/>
<path d="M312.4 63.6 q1.1 5.6 2.3 3.3 q1.1 4.4 2.3 0 q1.1 4.4 2.3 0 q1.1 2.2 2.3 -3.3 l0 -2.2 l-9.2 0 Z" fill="#f8efd6" stroke="#a97842" stroke-width="0.6"/>
<path d="M309 72.4 q1.1 5.6 2.3 3.3 q1.1 4.4 2.3 0 q1.1 4.4 2.3 0 q1.1 2.2 2.3 -3.3 l0 -2.2 l-9.2 0 Z" fill="#f8efd6" stroke="#a97842" stroke-width="0.6"/>
<path d="M316.7 71.4 q1.1 5.6 2.3 3.3 q1.1 4.4 2.3 0 q1.1 4.4 2.3 0 q1.1 2.2 2.3 -3.3 l0 -2.2 l-9.2 0 Z" fill="#f8efd6" stroke="#a97842" stroke-width="0.6"/>
<path d="M308.2 79.9 q1.1 5.6 2.3 3.3 q1.1 4.4 2.3 0 q1.1 4.4 2.3 0 q1.1 2.2 2.3 -3.3 l0 -2.2 l-9.2 0 Z" fill="#f8efd6" stroke="#a97842" stroke-width="0.6"/>
<path d="M317.5 81 q1.1 5.6 2.3 3.3 q1.1 4.4 2.3 0 q1.1 4.4 2.3 0 q1.1 2.2 2.3 -3.3 l0 -2.2 l-9.2 0 Z" fill="#f8efd6" stroke="#a97842" stroke-width="0.6"/>
<path d="M304.5 89.7 q1.1 5.6 2.3 3.3 q1.1 4.4 2.3 0 q1.1 4.4 2.3 0 q1.1 2.2 2.3 -3.3 l0 -2.2 l-9.2 0 Z" fill="#f8efd6" stroke="#a97842" stroke-width="0.6"/>
<path d="M313 88.9 q1.1 5.6 2.3 3.3 q1.1 4.4 2.3 0 q1.1 4.4 2.3 0 q1.1 2.2 2.3 -3.3 l0 -2.2 l-9.2 0 Z" fill="#f8efd6" stroke="#a97842" stroke-width="0.6"/>
<path d="M321 88.7 q1.1 5.6 2.3 3.3 q1.1 4.4 2.3 0 q1.1 4.4 2.3 0 q1.1 2.2 2.3 -3.3 l0 -2.2 l-9.2 0 Z" fill="#f8efd6" stroke="#a97842" stroke-width="0.6"/>
<path d="M300.4 97.5 q1.1 5.6 2.3 3.3 q1.1 4.4 2.3 0 q1.1 4.4 2.3 0 q1.1 2.2 2.3 -3.3 l0 -2.2 l-9.2 0 Z" fill="#f8efd6" stroke="#a97842" stroke-width="0.6"/>
<path d="M308.4 97.8 q1.1 5.6 2.3 3.3 q1.1 4.4 2.3 0 q1.1 4.4 2.3 0 q1.1 2.2 2.3 -3.3 l0 -2.2 l-9.2 0 Z" fill="#f8efd6" stroke="#a97842" stroke-width="0.6"/>
<path d="M316.7 97.6 q1.1 5.6 2.3 3.3 q1.1 4.4 2.3 0 q1.1 4.4 2.3 0 q1.1 2.2 2.3 -3.3 l0 -2.2 l-9.2 0 Z" fill="#f8efd6" stroke="#a97842" stroke-width="0.6"/>
<path d="M325.4 98.2 q1.1 5.6 2.3 3.3 q1.1 4.4 2.3 0 q1.1 4.4 2.3 0 q1.1 2.2 2.3 -3.3 l0 -2.2 l-9.2 0 Z" fill="#f8efd6" stroke="#a97842" stroke-width="0.6"/>
<path d="M304.2 106.4 q1.1 5.6 2.3 3.3 q1.1 4.4 2.3 0 q1.1 4.4 2.3 0 q1.1 2.2 2.3 -3.3 l0 -2.2 l-9.2 0 Z" fill="#f8efd6" stroke="#a97842" stroke-width="0.6"/>
<path d="M313.3 106.7 q1.1 5.6 2.3 3.3 q1.1 4.4 2.3 0 q1.1 4.4 2.3 0 q1.1 2.2 2.3 -3.3 l0 -2.2 l-9.2 0 Z" fill="#f8efd6" stroke="#a97842" stroke-width="0.6"/>
<path d="M321.7 106.8 q1.1 5.6 2.3 3.3 q1.1 4.4 2.3 0 q1.1 4.4 2.3 0 q1.1 2.2 2.3 -3.3 l0 -2.2 l-9.2 0 Z" fill="#f8efd6" stroke="#a97842" stroke-width="0.6"/>
<path d="M299.6 115.2 q1.1 5.6 2.3 3.3 q1.1 4.4 2.3 0 q1.1 4.4 2.3 0 q1.1 2.2 2.3 -3.3 l0 -2.2 l-9.2 0 Z" fill="#f8efd6" stroke="#a97842" stroke-width="0.6"/>
<path d="M308.6 115.7 q1.1 5.6 2.3 3.3 q1.1 4.4 2.3 0 q1.1 4.4 2.3 0 q1.1 2.2 2.3 -3.3 l0 -2.2 l-9.2 0 Z" fill="#f8efd6" stroke="#a97842" stroke-width="0.6"/>
<path d="M317 115.6 q1.1 5.6 2.3 3.3 q1.1 4.4 2.3 0 q1.1 4.4 2.3 0 q1.1 2.2 2.3 -3.3 l0 -2.2 l-9.2 0 Z" fill="#f8efd6" stroke="#a97842" stroke-width="0.6"/>
<path d="M325.7 115 q1.1 5.6 2.3 3.3 q1.1 4.4 2.3 0 q1.1 4.4 2.3 0 q1.1 2.2 2.3 -3.3 l0 -2.2 l-9.2 0 Z" fill="#f8efd6" stroke="#a97842" stroke-width="0.6"/>
<path d="M296.2 123.5 q1.1 5.6 2.3 3.3 q1.1 4.4 2.3 0 q1.1 4.4 2.3 0 q1.1 2.2 2.3 -3.3 l0 -2.2 l-9.2 0 Z" fill="#f8efd6" stroke="#a97842" stroke-width="0.6"/>
<path d="M304.7 123.6 q1.1 5.6 2.3 3.3 q1.1 4.4 2.3 0 q1.1 4.4 2.3 0 q1.1 2.2 2.3 -3.3 l0 -2.2 l-9.2 0 Z" fill="#f8efd6" stroke="#a97842" stroke-width="0.6"/>
<path d="M312.4 123.7 q1.1 5.6 2.3 3.3 q1.1 4.4 2.3 0 q1.1 4.4 2.3 0 q1.1 2.2 2.3 -3.3 l0 -2.2 l-9.2 0 Z" fill="#f8efd6" stroke="#a97842" stroke-width="0.6"/>
<path d="M321.6 124.7 q1.1 5.6 2.3 3.3 q1.1 4.4 2.3 0 q1.1 4.4 2.3 0 q1.1 2.2 2.3 -3.3 l0 -2.2 l-9.2 0 Z" fill="#f8efd6" stroke="#a97842" stroke-width="0.6"/>
<path d="M329.4 124.1 q1.1 5.6 2.3 3.3 q1.1 4.4 2.3 0 q1.1 4.4 2.3 0 q1.1 2.2 2.3 -3.3 l0 -2.2 l-9.2 0 Z" fill="#f8efd6" stroke="#a97842" stroke-width="0.6"/>
<path d="M300.1 133.2 q1.1 5.6 2.3 3.3 q1.1 4.4 2.3 0 q1.1 4.4 2.3 0 q1.1 2.2 2.3 -3.3 l0 -2.2 l-9.2 0 Z" fill="#f8efd6" stroke="#a97842" stroke-width="0.6"/>
<path d="M308.3 132.8 q1.1 5.6 2.3 3.3 q1.1 4.4 2.3 0 q1.1 4.4 2.3 0 q1.1 2.2 2.3 -3.3 l0 -2.2 l-9.2 0 Z" fill="#f8efd6" stroke="#a97842" stroke-width="0.6"/>
<path d="M317 133.2 q1.1 5.6 2.3 3.3 q1.1 4.4 2.3 0 q1.1 4.4 2.3 0 q1.1 2.2 2.3 -3.3 l0 -2.2 l-9.2 0 Z" fill="#f8efd6" stroke="#a97842" stroke-width="0.6"/>
<path d="M325.4 133.4 q1.1 5.6 2.3 3.3 q1.1 4.4 2.3 0 q1.1 4.4 2.3 0 q1.1 2.2 2.3 -3.3 l0 -2.2 l-9.2 0 Z" fill="#f8efd6" stroke="#a97842" stroke-width="0.6"/>
<path d="M295.6 141.1 q1.1 5.6 2.3 3.3 q1.1 4.4 2.3 0 q1.1 4.4 2.3 0 q1.1 2.2 2.3 -3.3 l0 -2.2 l-9.2 0 Z" fill="#f8efd6" stroke="#a97842" stroke-width="0.6"/>
<path d="M304.6 141.5 q1.1 5.6 2.3 3.3 q1.1 4.4 2.3 0 q1.1 4.4 2.3 0 q1.1 2.2 2.3 -3.3 l0 -2.2 l-9.2 0 Z" fill="#f8efd6" stroke="#a97842" stroke-width="0.6"/>
<path d="M312.5 141.7 q1.1 5.6 2.3 3.3 q1.1 4.4 2.3 0 q1.1 4.4 2.3 0 q1.1 2.2 2.3 -3.3 l0 -2.2 l-9.2 0 Z" fill="#f8efd6" stroke="#a97842" stroke-width="0.6"/>
<path d="M321 141.9 q1.1 5.6 2.3 3.3 q1.1 4.4 2.3 0 q1.1 4.4 2.3 0 q1.1 2.2 2.3 -3.3 l0 -2.2 l-9.2 0 Z" fill="#f8efd6" stroke="#a97842" stroke-width="0.6"/>
<path d="M330.1 141.9 q1.1 5.6 2.3 3.3 q1.1 4.4 2.3 0 q1.1 4.4 2.3 0 q1.1 2.2 2.3 -3.3 l0 -2.2 l-9.2 0 Z" fill="#f8efd6" stroke="#a97842" stroke-width="0.6"/>
<path d="M300.2 150 q1.1 5.6 2.3 3.3 q1.1 4.4 2.3 0 q1.1 4.4 2.3 0 q1.1 2.2 2.3 -3.3 l0 -2.2 l-9.2 0 Z" fill="#f8efd6" stroke="#a97842" stroke-width="0.6"/>
<path d="M308.5 150 q1.1 5.6 2.3 3.3 q1.1 4.4 2.3 0 q1.1 4.4 2.3 0 q1.1 2.2 2.3 -3.3 l0 -2.2 l-9.2 0 Z" fill="#f8efd6" stroke="#a97842" stroke-width="0.6"/>
<path d="M317.5 149.6 q1.1 5.6 2.3 3.3 q1.1 4.4 2.3 0 q1.1 4.4 2.3 0 q1.1 2.2 2.3 -3.3 l0 -2.2 l-9.2 0 Z" fill="#f8efd6" stroke="#a97842" stroke-width="0.6"/>
<path d="M326 149.5 q1.1 5.6 2.3 3.3 q1.1 4.4 2.3 0 q1.1 4.4 2.3 0 q1.1 2.2 2.3 -3.3 l0 -2.2 l-9.2 0 Z" fill="#f8efd6" stroke="#a97842" stroke-width="0.6"/>
<path d="M304.1 158.6 q1.1 5.6 2.3 3.3 q1.1 4.4 2.3 0 q1.1 4.4 2.3 0 q1.1 2.2 2.3 -3.3 l0 -2.2 l-9.2 0 Z" fill="#f8efd6" stroke="#a97842" stroke-width="0.6"/>
<path d="M313.3 158.9 q1.1 5.6 2.3 3.3 q1.1 4.4 2.3 0 q1.1 4.4 2.3 0 q1.1 2.2 2.3 -3.3 l0 -2.2 l-9.2 0 Z" fill="#f8efd6" stroke="#a97842" stroke-width="0.6"/>
<path d="M321.3 159.4 q1.1 5.6 2.3 3.3 q1.1 4.4 2.3 0 q1.1 4.4 2.3 0 q1.1 2.2 2.3 -3.3 l0 -2.2 l-9.2 0 Z" fill="#f8efd6" stroke="#a97842" stroke-width="0.6"/>
<path d="M299.8 167.6 q1.1 5.6 2.3 3.3 q1.1 4.4 2.3 0 q1.1 4.4 2.3 0 q1.1 2.2 2.3 -3.3 l0 -2.2 l-9.2 0 Z" fill="#f8efd6" stroke="#a97842" stroke-width="0.6"/>
<path d="M308.7 168 q1.1 5.6 2.3 3.3 q1.1 4.4 2.3 0 q1.1 4.4 2.3 0 q1.1 2.2 2.3 -3.3 l0 -2.2 l-9.2 0 Z" fill="#f8efd6" stroke="#a97842" stroke-width="0.6"/>
<path d="M317.4 167.8 q1.1 5.6 2.3 3.3 q1.1 4.4 2.3 0 q1.1 4.4 2.3 0 q1.1 2.2 2.3 -3.3 l0 -2.2 l-9.2 0 Z" fill="#f8efd6" stroke="#a97842" stroke-width="0.6"/>
<path d="M325.5 167.4 q1.1 5.6 2.3 3.3 q1.1 4.4 2.3 0 q1.1 4.4 2.3 0 q1.1 2.2 2.3 -3.3 l0 -2.2 l-9.2 0 Z" fill="#f8efd6" stroke="#a97842" stroke-width="0.6"/>
<circle cx="317.1" cy="62.5" r="3.7" fill="#b86f36" stroke="#7e461c" stroke-width="0.9"/>
<circle cx="316.5" cy="61.8" r="1.9" fill="#c98a52" opacity="0.75"/>
<circle cx="313.7" cy="71.3" r="3.7" fill="#b86f36" stroke="#7e461c" stroke-width="0.9"/>
<circle cx="313.1" cy="70.6" r="1.9" fill="#c98a52" opacity="0.75"/>
<circle cx="321.4" cy="70.3" r="3.7" fill="#b86f36" stroke="#7e461c" stroke-width="0.9"/>
<circle cx="320.8" cy="69.6" r="1.9" fill="#c98a52" opacity="0.75"/>
<circle cx="312.9" cy="78.8" r="3.7" fill="#b86f36" stroke="#7e461c" stroke-width="0.9"/>
<circle cx="312.3" cy="78" r="1.9" fill="#c98a52" opacity="0.75"/>
<circle cx="322.1" cy="79.9" r="3.7" fill="#b86f36" stroke="#7e461c" stroke-width="0.9"/>
<circle cx="321.5" cy="79.1" r="1.9" fill="#c98a52" opacity="0.75"/>
<circle cx="309.1" cy="88.6" r="3.7" fill="#b86f36" stroke="#7e461c" stroke-width="0.9"/>
<circle cx="308.6" cy="87.8" r="1.9" fill="#c98a52" opacity="0.75"/>
<circle cx="317.6" cy="87.8" r="3.7" fill="#b86f36" stroke="#7e461c" stroke-width="0.9"/>
<circle cx="317.1" cy="87.1" r="1.9" fill="#c98a52" opacity="0.75"/>
<circle cx="325.6" cy="87.6" r="3.7" fill="#b86f36" stroke="#7e461c" stroke-width="0.9"/>
<circle cx="325.1" cy="86.8" r="1.9" fill="#c98a52" opacity="0.75"/>
<circle cx="305" cy="96.4" r="3.7" fill="#b86f36" stroke="#7e461c" stroke-width="0.9"/>
<circle cx="304.4" cy="95.7" r="1.9" fill="#c98a52" opacity="0.75"/>
<circle cx="313.1" cy="96.7" r="3.7" fill="#b86f36" stroke="#7e461c" stroke-width="0.9"/>
<circle cx="312.5" cy="96" r="1.9" fill="#c98a52" opacity="0.75"/>
<circle cx="321.3" cy="96.5" r="3.7" fill="#b86f36" stroke="#7e461c" stroke-width="0.9"/>
<circle cx="320.7" cy="95.8" r="1.9" fill="#c98a52" opacity="0.75"/>
<circle cx="330" cy="97.1" r="3.7" fill="#b86f36" stroke="#7e461c" stroke-width="0.9"/>
<circle cx="329.5" cy="96.4" r="1.9" fill="#c98a52" opacity="0.75"/>
<circle cx="308.9" cy="105.3" r="3.7" fill="#b86f36" stroke="#7e461c" stroke-width="0.9"/>
<circle cx="308.3" cy="104.6" r="1.9" fill="#c98a52" opacity="0.75"/>
<circle cx="318" cy="105.5" r="3.7" fill="#b86f36" stroke="#7e461c" stroke-width="0.9"/>
<circle cx="317.4" cy="104.8" r="1.9" fill="#c98a52" opacity="0.75"/>
<circle cx="326.4" cy="105.7" r="3.7" fill="#b86f36" stroke="#7e461c" stroke-width="0.9"/>
<circle cx="325.8" cy="105" r="1.9" fill="#c98a52" opacity="0.75"/>
<circle cx="304.3" cy="114.1" r="3.7" fill="#b86f36" stroke="#7e461c" stroke-width="0.9"/>
<circle cx="303.7" cy="113.4" r="1.9" fill="#c98a52" opacity="0.75"/>
<circle cx="313.2" cy="114.6" r="3.7" fill="#b86f36" stroke="#7e461c" stroke-width="0.9"/>
<circle cx="312.6" cy="113.9" r="1.9" fill="#c98a52" opacity="0.75"/>
<circle cx="321.6" cy="114.5" r="3.7" fill="#b86f36" stroke="#7e461c" stroke-width="0.9"/>
<circle cx="321" cy="113.8" r="1.9" fill="#c98a52" opacity="0.75"/>
<circle cx="330.3" cy="113.9" r="3.7" fill="#b86f36" stroke="#7e461c" stroke-width="0.9"/>
<circle cx="329.7" cy="113.1" r="1.9" fill="#c98a52" opacity="0.75"/>
<circle cx="300.8" cy="122.4" r="3.7" fill="#b86f36" stroke="#7e461c" stroke-width="0.9"/>
<circle cx="300.3" cy="121.6" r="1.9" fill="#c98a52" opacity="0.75"/>
<circle cx="309.3" cy="122.5" r="3.7" fill="#b86f36" stroke="#7e461c" stroke-width="0.9"/>
<circle cx="308.8" cy="121.8" r="1.9" fill="#c98a52" opacity="0.75"/>
<circle cx="317" cy="122.5" r="3.7" fill="#b86f36" stroke="#7e461c" stroke-width="0.9"/>
<circle cx="316.4" cy="121.8" r="1.9" fill="#c98a52" opacity="0.75"/>
<circle cx="326.3" cy="123.6" r="3.7" fill="#b86f36" stroke="#7e461c" stroke-width="0.9"/>
<circle cx="325.7" cy="122.9" r="1.9" fill="#c98a52" opacity="0.75"/>
<circle cx="334" cy="122.9" r="3.7" fill="#b86f36" stroke="#7e461c" stroke-width="0.9"/>
<circle cx="333.5" cy="122.2" r="1.9" fill="#c98a52" opacity="0.75"/>
<circle cx="304.7" cy="132.1" r="3.7" fill="#b86f36" stroke="#7e461c" stroke-width="0.9"/>
<circle cx="304.2" cy="131.3" r="1.9" fill="#c98a52" opacity="0.75"/>
<circle cx="312.9" cy="131.7" r="3.7" fill="#b86f36" stroke="#7e461c" stroke-width="0.9"/>
<circle cx="312.4" cy="130.9" r="1.9" fill="#c98a52" opacity="0.75"/>
<circle cx="321.6" cy="132.1" r="3.7" fill="#b86f36" stroke="#7e461c" stroke-width="0.9"/>
<circle cx="321" cy="131.4" r="1.9" fill="#c98a52" opacity="0.75"/>
<circle cx="330" cy="132.3" r="3.7" fill="#b86f36" stroke="#7e461c" stroke-width="0.9"/>
<circle cx="329.5" cy="131.5" r="1.9" fill="#c98a52" opacity="0.75"/>
<circle cx="300.3" cy="140" r="3.7" fill="#b86f36" stroke="#7e461c" stroke-width="0.9"/>
<circle cx="299.7" cy="139.2" r="1.9" fill="#c98a52" opacity="0.75"/>
<circle cx="309.2" cy="140.4" r="3.7" fill="#b86f36" stroke="#7e461c" stroke-width="0.9"/>
<circle cx="308.6" cy="139.6" r="1.9" fill="#c98a52" opacity="0.75"/>
<circle cx="317.1" cy="140.6" r="3.7" fill="#b86f36" stroke="#7e461c" stroke-width="0.9"/>
<circle cx="316.6" cy="139.8" r="1.9" fill="#c98a52" opacity="0.75"/>
<circle cx="325.6" cy="140.8" r="3.7" fill="#b86f36" stroke="#7e461c" stroke-width="0.9"/>
<circle cx="325" cy="140" r="1.9" fill="#c98a52" opacity="0.75"/>
<circle cx="334.7" cy="140.8" r="3.7" fill="#b86f36" stroke="#7e461c" stroke-width="0.9"/>
<circle cx="334.2" cy="140" r="1.9" fill="#c98a52" opacity="0.75"/>
<circle cx="304.9" cy="148.9" r="3.7" fill="#b86f36" stroke="#7e461c" stroke-width="0.9"/>
<circle cx="304.3" cy="148.1" r="1.9" fill="#c98a52" opacity="0.75"/>
<circle cx="313.1" cy="148.9" r="3.7" fill="#b86f36" stroke="#7e461c" stroke-width="0.9"/>
<circle cx="312.6" cy="148.2" r="1.9" fill="#c98a52" opacity="0.75"/>
<circle cx="322.1" cy="148.5" r="3.7" fill="#b86f36" stroke="#7e461c" stroke-width="0.9"/>
<circle cx="321.6" cy="147.8" r="1.9" fill="#c98a52" opacity="0.75"/>
<circle cx="330.7" cy="148.4" r="3.7" fill="#b86f36" stroke="#7e461c" stroke-width="0.9"/>
<circle cx="330.1" cy="147.7" r="1.9" fill="#c98a52" opacity="0.75"/>
<circle cx="308.7" cy="157.5" r="3.7" fill="#b86f36" stroke="#7e461c" stroke-width="0.9"/>
<circle cx="308.1" cy="156.7" r="1.9" fill="#c98a52" opacity="0.75"/>
<circle cx="317.9" cy="157.8" r="3.7" fill="#b86f36" stroke="#7e461c" stroke-width="0.9"/>
<circle cx="317.3" cy="157.1" r="1.9" fill="#c98a52" opacity="0.75"/>
<circle cx="325.9" cy="158.3" r="3.7" fill="#b86f36" stroke="#7e461c" stroke-width="0.9"/>
<circle cx="325.3" cy="157.6" r="1.9" fill="#c98a52" opacity="0.75"/>
<circle cx="304.5" cy="166.4" r="3.7" fill="#b86f36" stroke="#7e461c" stroke-width="0.9"/>
<circle cx="303.9" cy="165.7" r="1.9" fill="#c98a52" opacity="0.75"/>
<circle cx="313.3" cy="166.9" r="3.7" fill="#b86f36" stroke="#7e461c" stroke-width="0.9"/>
<circle cx="312.7" cy="166.1" r="1.9" fill="#c98a52" opacity="0.75"/>
<circle cx="322" cy="166.7" r="3.7" fill="#b86f36" stroke="#7e461c" stroke-width="0.9"/>
<circle cx="321.5" cy="166" r="1.9" fill="#c98a52" opacity="0.75"/>
<circle cx="330.1" cy="166.3" r="3.7" fill="#b86f36" stroke="#7e461c" stroke-width="0.9"/>
<circle cx="329.6" cy="165.5" r="1.9" fill="#c98a52" opacity="0.75"/>
</g>
<path d="M328 71 C340 40 372 26 398 31 C416 34 428 42 436.5 51" fill="none" stroke="#2d5a1e" stroke-width="1.8"/>
<polygon points="439.5,54.5 430.3,50.6 435.8,50.4 436.6,44.9" fill="#2d5a1e"/>
<path d="M461.2 87 C455.5 91.1 448.7 98.8 447.1 102.8 C446.5 104.9 449.9 107.8 451.9 106.8 C455.6 104.5 461.8 96.4 464.8 90 C463.9 88.6 462.7 87.7 461.2 87 Z" fill="#e2d09c" stroke="#c8b07a" stroke-width="0.5"/>
<path d="M449.2 98.3 C447.1 101.9 446.3 105.1 449.4 106.1 C449.4 103.8 449.7 101.1 449.2 98.3 Z" fill="#cdb57a"/>
<path d="M442.5 61.1 C434.4 62.5 423 66.6 419 69.8 C417.1 71.6 418.9 76 421.5 76 C426.5 75.5 437.6 70.6 444.5 65.9 C444.3 64 443.7 62.6 442.5 61.1 Z" fill="#e6d6a6" stroke="#c8b07a" stroke-width="0.5"/>
<path d="M423.8 66.5 C419.5 68.9 416.9 71.7 419.3 74.1 C420.7 71.8 422.6 69.4 423.8 66.5 Z" fill="#cfb87c"/>
<path d="M453.8 73.5 C444 77.4 430.8 85.7 426.6 90.5 C424.6 93.2 427.8 98 431 97.2 C437.1 95.1 449.8 86.1 457.2 78.5 C456.6 76.4 455.5 74.8 453.8 73.5 Z" fill="#e4d2a2" stroke="#c8b07a" stroke-width="0.5"/>
<path d="M431.8 85.2 C427 89.3 424.4 93.4 427.9 95.6 C429.1 92.5 431 89 431.8 85.2 Z" fill="#c9b074"/>
<path d="M448.1 66.3 C439 69.8 427.1 77.5 423.6 82.3 C422.1 85 425.7 90.1 428.7 89.5 C434.5 87.8 445.7 79.2 451.9 71.7 C451.1 69.5 449.9 67.8 448.1 66.3 Z" fill="#f5eed8" stroke="#c8b07a" stroke-width="0.5"/>
<path d="M457.6 79.1 C449.1 83.1 438 91.3 434.7 96 C433.3 98.6 436.8 103.1 439.7 102.3 C445 100.2 455.5 91.3 461.4 83.9 C460.6 81.9 459.4 80.4 457.6 79.1 Z" fill="#f8f3e2" stroke="#c8b07a" stroke-width="0.5"/>
<path d="M447 72 L429 85 M457 84 L440 97.5" fill="none" stroke="#ffffff" stroke-width="1.6" stroke-linecap="round" opacity="0.9"/>
<g transform="translate(454.8 72.8) rotate(48)">
<rect x="-18.8" y="-3.9" width="37.6" height="7.8" rx="3.6" fill="#a5672d"/>
<rect x="-16" y="-3.2" width="32" height="2.4" rx="1.2" fill="#b87a3c" opacity="0.8"/>
</g>
<circle cx="440" cy="103" r="0.9" fill="#5aa88a"/>
<circle cx="442.5" cy="106" r="0.8" fill="#7fb9a0"/>
<circle cx="437.5" cy="107.5" r="0.8" fill="#3f8f6a"/>
<circle cx="434" cy="110" r="0.8" fill="#3f8f6a"/>
<circle cx="431.5" cy="113.5" r="0.9" fill="#3f8f6a"/>
<circle cx="436" cy="114" r="0.7" fill="#7fb9a0"/>
<circle cx="441" cy="116" r="0.7" fill="#5aa88a"/>
<circle cx="433" cy="120" r="0.8" fill="#7fb9a0"/>
<circle cx="437" cy="122" r="0.8" fill="#7fb9a0"/>
<circle cx="445" cy="126" r="0.7" fill="#3f8f6a"/>
<circle cx="452" cy="127" r="0.7" fill="#7fb9a0"/>
<circle cx="433.5" cy="131" r="0.8" fill="#3f8f6a"/>
<circle cx="446" cy="132" r="0.8" fill="#5aa88a"/>
<circle cx="449" cy="133.5" r="0.7" fill="#5aa88a"/>
<circle cx="452.5" cy="132" r="0.6" fill="#7fb9a0"/>
<circle cx="460" cy="133.5" r="0.7" fill="#7fb9a0"/>
<circle cx="447" cy="136" r="0.9" fill="#3f8f6a"/>
<circle cx="455" cy="134" r="0.6" fill="#3f8f6a"/>
<circle cx="444" cy="109" r="0.7" fill="#5aa88a"/>
<circle cx="439" cy="100" r="0.8" fill="#3f8f6a"/>
<circle cx="521.8" cy="107.8" r="13.2" fill="#4fc04a"/>
<g fill="none" stroke="#ecfae8" stroke-width="2.1" stroke-linecap="round">
<path d="M511 100.5 C515 95 524 94 529 99 C534 104 531 114 524 119.5"/>
<path d="M513.5 117.5 C509 111 511.5 103.5 516 103 C520 102.5 521.5 107 518.5 110.5 C516 113 513 112 513 108.5"/>
<path d="M524 113 C527 108.5 532.5 109.5 533 113.5 C533.5 117.5 529.5 119.5 527 117.5"/>
<path d="M518.5 95.5 C522.5 102 522.5 112 516.5 120"/>
</g>
<circle cx="521.8" cy="107.8" r="13.6" fill="none" stroke="#9ddf92" stroke-width="1.2"/>
<path d="M579.2 153.3 C586 140 594 132 592 118 C591 108 588 103 591 96" fill="none" stroke="#5cc45a" stroke-width="3.4" stroke-linecap="round"/>
<path d="M579.2 153.3 C600 150 615 146 631 137.5" fill="none" stroke="#5cc45a" stroke-width="3.4" stroke-linecap="round"/>
<path d="M579.2 153.3 C568 160 556 166 548 157 C542 150 538 147 534 146" fill="none" stroke="#5cc45a" stroke-width="3.4" stroke-linecap="round"/>
<path d="M579.2 153.3 C574 168 571 178 576 186 C579 191 583 195 586 198.5" fill="none" stroke="#5cc45a" stroke-width="3.4" stroke-linecap="round"/>
<ellipse cx="591.2" cy="95.5" rx="6.6" ry="4.3" transform="rotate(-80 591.2 95.5)" fill="#5cc45a"/>
<ellipse cx="631.8" cy="137" rx="6.6" ry="4.3" transform="rotate(-28 631.8 137)" fill="#5cc45a"/>
<ellipse cx="533.5" cy="145.8" rx="6.6" ry="4.3" transform="rotate(200 533.5 145.8)" fill="#5cc45a"/>
<ellipse cx="586.5" cy="198.8" rx="6.6" ry="4.3" transform="rotate(50 586.5 198.8)" fill="#5cc45a"/>
<path d="M579.2 153.3 C586 140 594 132 592 118 C591 108 588 103 591 96" fill="none" stroke="#e4f8dc" stroke-width="1.6" stroke-linecap="round"/>
<path d="M579.2 153.3 C600 150 615 146 631 137.5" fill="none" stroke="#e4f8dc" stroke-width="1.6" stroke-linecap="round"/>
<path d="M579.2 153.3 C568 160 556 166 548 157 C542 150 538 147 534 146" fill="none" stroke="#e4f8dc" stroke-width="1.6" stroke-linecap="round"/>
<path d="M579.2 153.3 C574 168 571 178 576 186 C579 191 583 195 586 198.5" fill="none" stroke="#e4f8dc" stroke-width="1.6" stroke-linecap="round"/>
<ellipse cx="591.2" cy="95.5" rx="5.4" ry="3.1" transform="rotate(-80 591.2 95.5)" fill="#d4f3c8"/>
<ellipse cx="631.8" cy="137" rx="5.4" ry="3.1" transform="rotate(-28 631.8 137)" fill="#d4f3c8"/>
<ellipse cx="533.5" cy="145.8" rx="5.4" ry="3.1" transform="rotate(200 533.5 145.8)" fill="#d4f3c8"/>
<ellipse cx="586.5" cy="198.8" rx="5.4" ry="3.1" transform="rotate(50 586.5 198.8)" fill="#d4f3c8"/>
<circle cx="579.2" cy="153.3" r="9.2" fill="#4dc048" stroke="#7fd870" stroke-width="1"/>
<path d="M660.5 220 C662.5 226 664.5 230 668.5 232.6 C672.5 235.4 675.5 238.5 677.6 243" fill="none" stroke="#2c9438" stroke-width="4.0" stroke-linecap="round"/>
<path d="M660.5 220 C662.5 226 664.5 230 668.5 232.6 C672.5 235.4 675.5 238.5 677.6 243" fill="none" stroke="#58c650" stroke-width="2.5" stroke-linecap="round"/>
<circle cx="652" cy="209" r="16.2" fill="#9fe28f" stroke="#2c9438" stroke-width="1.3"/>
<path d="M645.5 197.4 L653.7 198.4 L666 206.6 C668 211 667.4 216 662.9 221.5 C660 224.6 650 226 646.6 222.9 L643 215.8 L644 205.5 Z" fill="#4cbf4a" stroke="#2c9438" stroke-width="0.9" stroke-linejoin="round"/>
<path d="M645.5 197.4 L650 205 L644 205.5 M650 205 L656 204 L653.7 198.4 M656 204 L661.5 209.5 L666 206.6 M661.5 209.5 L660 216 L667 213.7 M660 216 L654 218.5 L654.7 225 M654 218.5 L648.5 215 L643 215.8 M648.5 215 L650 205 M660 216 L662.9 221" fill="none" stroke="#2c9438" stroke-width="0.8"/>
<circle cx="661.8" cy="205.6" r="3.6" fill="#4cbf4a" stroke="#b9eeb0" stroke-width="1.2"/>
<circle cx="647.5" cy="201.5" r="0.7" fill="#2c9438"/>
<circle cx="655" cy="211" r="0.7" fill="#2c9438"/>
<circle cx="649" cy="220" r="0.7" fill="#2c9438"/>
<circle cx="658" cy="213" r="0.7" fill="#2c9438"/>
<circle cx="657" cy="221.5" r="0.7" fill="#2c9438"/>
<circle cx="646.5" cy="210" r="0.7" fill="#2c9438"/>
<path d="M678 420 C676 426 678 430 675.5 434 C674.5 436 673.5 436.5 673 437" fill="none" stroke="#756a3c" stroke-width="1.15" stroke-linecap="round"/>
<path d="M695 416 C691 424 685 428 686.5 433 C688 437 691 438 688 442 C686 446 684.5 447 684.6 450.5" fill="none" stroke="#756a3c" stroke-width="1.15" stroke-linecap="round"/>
<path d="M688 441.5 C684 444 678 442.5 674 445" fill="none" stroke="#756a3c" stroke-width="1.15" stroke-linecap="round"/>
<path d="M697 416 C693.5 424 690 428 691.5 432.5 C693 436.5 693.5 438 691.5 442.5" fill="none" stroke="#756a3c" stroke-width="1.15" stroke-linecap="round"/>
<path d="M704 420 C701.5 427 706 431 703.5 436.5 C701.5 441 700 444 702 448 C703 450.5 702.5 452 702 453" fill="none" stroke="#756a3c" stroke-width="1.15" stroke-linecap="round"/>
<path d="M717 414 C714.5 422 719 428 716.5 434.5 C714.5 440 719.5 444 719.8 451.5" fill="none" stroke="#756a3c" stroke-width="1.15" stroke-linecap="round"/>
<path d="M722 409 C727 414 726 420 730 424.5 C733 428 731.5 431 735.5 433.5 C739.5 436 742 438 743 441.5" fill="none" stroke="#756a3c" stroke-width="1.15" stroke-linecap="round"/>
<path d="M727 405 C733 407 735 413 739.5 414.5 C744 416 744.5 420 749 420.5 C751 421 751.5 424 751 426.5" fill="none" stroke="#756a3c" stroke-width="1.15" stroke-linecap="round"/>
<path d="M730 403 C737 403 741 407 745 411 C748 414 750 416 751 419.5" fill="none" stroke="#756a3c" stroke-width="1.15" stroke-linecap="round"/>
<path d="M736 430 C739 428 743 429 745 427" fill="none" stroke="#756a3c" stroke-width="1.15" stroke-linecap="round"/>
<polygon points="703.6,397 706.8,383.6 710,370.2 713.3,356.9 716.5,343.5 717.4,342 719.1,341.1 721.1,341.1 723,342 724.1,343.6 724.3,345.3 721.3,358.7 718.3,372.2 715.4,385.6 712.4,399" fill="#58c650" stroke="#2c9438" stroke-width="0.9" stroke-linejoin="round"/>
<polyline points="708,398 711.1,384.6 714.2,371.2 717.3,357.8 720.4,344.4" fill="none" stroke="#2c9438" stroke-width="0.6"/>
<line x1="704.7" y1="392.5" x2="709" y2="393.5" stroke="#2c9438" stroke-width="0.6"/>
<line x1="707.7" y1="380.1" x2="711.9" y2="381.1" stroke="#2c9438" stroke-width="0.6"/>
<line x1="711" y1="366.3" x2="715.1" y2="367.3" stroke="#2c9438" stroke-width="0.6"/>
<line x1="714" y1="353.8" x2="718" y2="354.7" stroke="#2c9438" stroke-width="0.6"/>
<line x1="710.4" y1="387.7" x2="714.7" y2="388.7" stroke="#2c9438" stroke-width="0.6"/>
<line x1="713.1" y1="375.8" x2="717.3" y2="376.8" stroke="#2c9438" stroke-width="0.6"/>
<line x1="716" y1="363.5" x2="720" y2="364.4" stroke="#2c9438" stroke-width="0.6"/>
<line x1="718.8" y1="351.2" x2="722.8" y2="352.1" stroke="#2c9438" stroke-width="0.6"/>
<polygon points="708.9,396.2 714.6,382.9 720.4,369.6 726.2,356.3 732,343 733.1,341.7 735,341.2 737,341.5 738.6,342.7 739.5,344.4 739.3,346.2 733.8,359.6 728.2,373 722.7,386.4 717.1,399.8" fill="#58c650" stroke="#2c9438" stroke-width="0.9" stroke-linejoin="round"/>
<polyline points="713,398 718.7,384.7 724.3,371.3 730,358 735.7,344.6" fill="none" stroke="#2c9438" stroke-width="0.6"/>
<line x1="711.5" y1="390.2" x2="715.6" y2="392" stroke="#2c9438" stroke-width="0.6"/>
<line x1="715.9" y1="380.1" x2="719.9" y2="381.8" stroke="#2c9438" stroke-width="0.6"/>
<line x1="721.4" y1="367.5" x2="725.2" y2="369.2" stroke="#2c9438" stroke-width="0.6"/>
<line x1="726.2" y1="356.3" x2="730" y2="357.9" stroke="#2c9438" stroke-width="0.6"/>
<line x1="719" y1="383.9" x2="723" y2="385.6" stroke="#2c9438" stroke-width="0.6"/>
<line x1="723.5" y1="373.2" x2="727.5" y2="374.9" stroke="#2c9438" stroke-width="0.6"/>
<line x1="727.3" y1="364.3" x2="731.2" y2="365.9" stroke="#2c9438" stroke-width="0.6"/>
<line x1="734.1" y1="348.3" x2="737.8" y2="349.9" stroke="#2c9438" stroke-width="0.6"/>
<polygon points="714.2,395.5 722.2,383.5 730.2,371.4 738.2,359.3 746.2,347.2 747.6,346.1 749.5,345.8 751.4,346.5 752.9,348 753.4,349.8 752.9,351.5 745.2,363.8 737.4,376 729.6,388.2 721.8,400.5" fill="#58c650" stroke="#2c9438" stroke-width="0.9" stroke-linejoin="round"/>
<polyline points="718,398 725.9,385.8 733.8,373.7 741.7,361.5 749.6,349.4" fill="none" stroke="#2c9438" stroke-width="0.6"/>
<line x1="716.6" y1="391.9" x2="720.4" y2="394.3" stroke="#2c9438" stroke-width="0.6"/>
<line x1="724.6" y1="379.9" x2="728.2" y2="382.3" stroke="#2c9438" stroke-width="0.6"/>
<line x1="733.4" y1="366.6" x2="736.9" y2="368.9" stroke="#2c9438" stroke-width="0.6"/>
<line x1="740" y1="356.7" x2="743.4" y2="358.9" stroke="#2c9438" stroke-width="0.6"/>
<line x1="725.7" y1="386.2" x2="729.3" y2="388.6" stroke="#2c9438" stroke-width="0.6"/>
<line x1="731.9" y1="376.7" x2="735.4" y2="379" stroke="#2c9438" stroke-width="0.6"/>
<line x1="738.2" y1="366.9" x2="741.7" y2="369.2" stroke="#2c9438" stroke-width="0.6"/>
<line x1="746.5" y1="354.2" x2="749.9" y2="356.4" stroke="#2c9438" stroke-width="0.6"/>
<polygon points="716.9,398.8 726,390.2 735,381.6 744.1,373 753.2,364.4 754.8,363.6 756.7,363.8 758.4,364.9 759.4,366.7 759.6,368.6 758.7,370.1 749.8,378.9 740.9,387.7 732,396.5 723.1,405.2" fill="#58c650" stroke="#2c9438" stroke-width="0.9" stroke-linejoin="round"/>
<polyline points="720,402 729,393.3 738,384.6 747,376 756,367.3" fill="none" stroke="#2c9438" stroke-width="0.6"/>
<line x1="719.6" y1="396.1" x2="722.7" y2="399.4" stroke="#2c9438" stroke-width="0.6"/>
<line x1="728" y1="388.2" x2="731.1" y2="391.3" stroke="#2c9438" stroke-width="0.6"/>
<line x1="736.7" y1="380" x2="739.6" y2="383" stroke="#2c9438" stroke-width="0.6"/>
<line x1="743.6" y1="373.5" x2="746.5" y2="376.4" stroke="#2c9438" stroke-width="0.6"/>
<line x1="727.7" y1="394.6" x2="730.7" y2="397.8" stroke="#2c9438" stroke-width="0.6"/>
<line x1="736.9" y1="385.7" x2="739.9" y2="388.7" stroke="#2c9438" stroke-width="0.6"/>
<line x1="744.6" y1="378.2" x2="747.5" y2="381.2" stroke="#2c9438" stroke-width="0.6"/>
<line x1="752" y1="371.1" x2="754.8" y2="374" stroke="#2c9438" stroke-width="0.6"/>
<polygon points="709.5,409.1 720.4,403.6 731.3,398 742.2,392.5 753.2,386.9 755.3,386.6 757.5,387.5 759.2,389.4 759.8,391.9 759.3,394.2 757.8,395.8 747,401.6 736.2,407.3 725.3,413.1 714.5,418.9" fill="#58c650" stroke="#2c9438" stroke-width="0.9" stroke-linejoin="round"/>
<polyline points="712,414 722.9,408.3 733.7,402.7 744.6,397 755.5,391.4" fill="none" stroke="#2c9438" stroke-width="0.6"/>
<line x1="714.8" y1="406.4" x2="717.3" y2="411.2" stroke="#2c9438" stroke-width="0.6"/>
<line x1="723.9" y1="401.8" x2="726.3" y2="406.5" stroke="#2c9438" stroke-width="0.6"/>
<line x1="732.3" y1="397.5" x2="734.8" y2="402.2" stroke="#2c9438" stroke-width="0.6"/>
<line x1="743.8" y1="391.7" x2="746.2" y2="396.2" stroke="#2c9438" stroke-width="0.6"/>
<line x1="721.3" y1="409.2" x2="723.8" y2="413.9" stroke="#2c9438" stroke-width="0.6"/>
<line x1="732.2" y1="403.5" x2="734.7" y2="408.1" stroke="#2c9438" stroke-width="0.6"/>
<line x1="742.6" y1="398.1" x2="744.9" y2="402.7" stroke="#2c9438" stroke-width="0.6"/>
<line x1="750.4" y1="394" x2="752.7" y2="398.5" stroke="#2c9438" stroke-width="0.6"/>
<polygon points="665.2,398.1 650.7,388.4 636.2,378.6 621.7,368.8 607.2,359 605.8,357.3 605.6,354.9 606.5,352.5 608.3,350.7 610.6,350.1 612.8,350.7 627.3,360.5 641.8,370.3 656.3,380.1 670.8,389.9" fill="#58c650" stroke="#2c9438" stroke-width="0.9" stroke-linejoin="round"/>
<polyline points="668,394 653.5,384.2 639,374.4 624.5,364.6 610,354.9" fill="none" stroke="#2c9438" stroke-width="0.6"/>
<line x1="659.6" y1="394.4" x2="662.4" y2="390.2" stroke="#2c9438" stroke-width="0.6"/>
<line x1="648.3" y1="386.8" x2="651.1" y2="382.6" stroke="#2c9438" stroke-width="0.6"/>
<line x1="639.2" y1="380.6" x2="642" y2="376.4" stroke="#2c9438" stroke-width="0.6"/>
<line x1="629.4" y1="374" x2="632.2" y2="369.9" stroke="#2c9438" stroke-width="0.6"/>
<line x1="616.8" y1="365.5" x2="619.6" y2="361.3" stroke="#2c9438" stroke-width="0.6"/>
<line x1="655.8" y1="385.8" x2="658.6" y2="381.7" stroke="#2c9438" stroke-width="0.6"/>
<line x1="645.7" y1="379" x2="648.5" y2="374.8" stroke="#2c9438" stroke-width="0.6"/>
<line x1="635.5" y1="372.1" x2="638.3" y2="367.9" stroke="#2c9438" stroke-width="0.6"/>
<line x1="624.3" y1="364.5" x2="627.1" y2="360.4" stroke="#2c9438" stroke-width="0.6"/>
<line x1="614.5" y1="357.9" x2="617.3" y2="353.8" stroke="#2c9438" stroke-width="0.6"/>
<polygon points="666.8,394.1 655.3,382.3 643.8,370.4 632.4,358.5 620.9,346.6 620,344.9 620.3,342.7 621.5,340.8 623.5,339.6 625.6,339.5 627.4,340.4 638.9,352.3 650.3,364.1 661.8,376 673.2,387.9" fill="#58c650" stroke="#2c9438" stroke-width="0.9" stroke-linejoin="round"/>
<polyline points="670,391 658.5,379.1 647.1,367.3 635.6,355.4 624.2,343.5" fill="none" stroke="#2c9438" stroke-width="0.6"/>
<line x1="662.1" y1="389.3" x2="665.4" y2="386.2" stroke="#2c9438" stroke-width="0.6"/>
<line x1="654.4" y1="381.3" x2="657.6" y2="378.2" stroke="#2c9438" stroke-width="0.6"/>
<line x1="646.5" y1="373.2" x2="649.8" y2="370.1" stroke="#2c9438" stroke-width="0.6"/>
<line x1="637.2" y1="363.5" x2="640.4" y2="360.3" stroke="#2c9438" stroke-width="0.6"/>
<line x1="630.6" y1="356.7" x2="633.8" y2="353.5" stroke="#2c9438" stroke-width="0.6"/>
<line x1="661.9" y1="382.6" x2="665.2" y2="379.5" stroke="#2c9438" stroke-width="0.6"/>
<line x1="652.4" y1="372.8" x2="655.6" y2="369.6" stroke="#2c9438" stroke-width="0.6"/>
<line x1="644.3" y1="364.4" x2="647.5" y2="361.2" stroke="#2c9438" stroke-width="0.6"/>
<line x1="636.2" y1="356" x2="639.5" y2="352.9" stroke="#2c9438" stroke-width="0.6"/>
<line x1="629.2" y1="348.7" x2="632.4" y2="345.6" stroke="#2c9438" stroke-width="0.6"/>
<polygon points="668.6,390.1 662,379.5 655.4,368.9 648.7,358.3 642.1,347.7 641.7,346 642.3,344.2 643.7,342.7 645.7,342.1 647.6,342.3 648.9,343.5 655.5,354.1 662.1,364.7 668.8,375.3 675.4,385.9" fill="#58c650" stroke="#2c9438" stroke-width="0.9" stroke-linejoin="round"/>
<polyline points="672,388 665.4,377.4 658.8,366.8 652.1,356.2 645.5,345.6" fill="none" stroke="#2c9438" stroke-width="0.6"/>
<line x1="666.3" y1="386.5" x2="669.7" y2="384.4" stroke="#2c9438" stroke-width="0.6"/>
<line x1="661.5" y1="378.7" x2="664.9" y2="376.6" stroke="#2c9438" stroke-width="0.6"/>
<line x1="656.3" y1="370.5" x2="659.7" y2="368.4" stroke="#2c9438" stroke-width="0.6"/>
<line x1="651.9" y1="363.4" x2="655.3" y2="361.3" stroke="#2c9438" stroke-width="0.6"/>
<line x1="646.6" y1="354.9" x2="650" y2="352.8" stroke="#2c9438" stroke-width="0.6"/>
<line x1="666.4" y1="379" x2="669.7" y2="376.8" stroke="#2c9438" stroke-width="0.6"/>
<line x1="663" y1="373.6" x2="666.4" y2="371.4" stroke="#2c9438" stroke-width="0.6"/>
<line x1="657.2" y1="364.4" x2="660.6" y2="362.3" stroke="#2c9438" stroke-width="0.6"/>
<line x1="652.2" y1="356.3" x2="655.6" y2="354.2" stroke="#2c9438" stroke-width="0.6"/>
<line x1="648.1" y1="349.8" x2="651.5" y2="347.7" stroke="#2c9438" stroke-width="0.6"/>
<polygon points="672.2,387.1 669.4,377.5 666.6,367.9 663.9,358.3 661.1,348.7 661.2,346.9 662.2,345.3 664,344.3 666.1,344.2 667.8,345 668.8,346.4 671.6,356.1 674.3,365.7 677.1,375.3 679.8,384.9" fill="#58c650" stroke="#2c9438" stroke-width="0.9" stroke-linejoin="round"/>
<polyline points="676,386 673.2,376.4 670.5,366.8 667.7,357.2 665,347.5" fill="none" stroke="#2c9438" stroke-width="0.6"/>
<line x1="671.2" y1="383.6" x2="675" y2="382.5" stroke="#2c9438" stroke-width="0.6"/>
<line x1="668.8" y1="375.3" x2="672.6" y2="374.2" stroke="#2c9438" stroke-width="0.6"/>
<line x1="667.5" y1="370.9" x2="671.4" y2="369.8" stroke="#2c9438" stroke-width="0.6"/>
<line x1="665.1" y1="362.5" x2="668.9" y2="361.4" stroke="#2c9438" stroke-width="0.6"/>
<line x1="663.4" y1="356.6" x2="667.3" y2="355.5" stroke="#2c9438" stroke-width="0.6"/>
<line x1="673.8" y1="378.2" x2="677.6" y2="377.1" stroke="#2c9438" stroke-width="0.6"/>
<line x1="671.6" y1="370.8" x2="675.5" y2="369.7" stroke="#2c9438" stroke-width="0.6"/>
<line x1="670" y1="365" x2="673.8" y2="363.9" stroke="#2c9438" stroke-width="0.6"/>
<line x1="668.3" y1="359.2" x2="672.1" y2="358" stroke="#2c9438" stroke-width="0.6"/>
<line x1="665.9" y1="350.8" x2="669.8" y2="349.7" stroke="#2c9438" stroke-width="0.6"/>
<polygon points="699,399.7 701,368.8 708.3,340.1 722.6,320 732.2,299.4 736.2,277.5 741.9,264.2 744.5,261 748.5,268.6 757.1,271.8 750.8,282.5 743.8,304 730.2,324.8 716.9,343.9 710.4,370.2 709,400.3" fill="#58c650" stroke="#2c9438" stroke-width="0.9" stroke-linejoin="round"/>
<polyline points="702.3,399.9 704.1,369.3 711.2,341.4 725.1,321.6 736.1,300.9 741.1,279.2 747,266.7" fill="none" stroke="#2c9438" stroke-width="0.6"/>
<polyline points="705.7,400.1 707.3,369.7 714,342.6 727.7,323.2 739.9,302.5 745.9,280.8 752,269.3" fill="none" stroke="#2c9438" stroke-width="0.6"/>
<line x1="699.7" y1="388.5" x2="703" y2="388.7" stroke="#2c9438" stroke-width="0.6"/>
<line x1="701.9" y1="365.4" x2="705" y2="365.9" stroke="#2c9438" stroke-width="0.6"/>
<line x1="706.6" y1="346.7" x2="709.5" y2="347.8" stroke="#2c9438" stroke-width="0.6"/>
<line x1="715.6" y1="329.8" x2="718.3" y2="331.3" stroke="#2c9438" stroke-width="0.6"/>
<line x1="725.2" y1="314.4" x2="728.1" y2="316" stroke="#2c9438" stroke-width="0.6"/>
<line x1="731.1" y1="301.7" x2="734.8" y2="303.2" stroke="#2c9438" stroke-width="0.6"/>
<line x1="734.4" y1="287.1" x2="738.9" y2="288.7" stroke="#2c9438" stroke-width="0.6"/>
<line x1="738.6" y1="271.9" x2="743.5" y2="273.9" stroke="#2c9438" stroke-width="0.6"/>
<line x1="703.5" y1="380.8" x2="706.7" y2="381.1" stroke="#2c9438" stroke-width="0.6"/>
<line x1="707.4" y1="356.3" x2="710.4" y2="357.2" stroke="#2c9438" stroke-width="0.6"/>
<line x1="712.4" y1="339.6" x2="715.2" y2="340.9" stroke="#2c9438" stroke-width="0.6"/>
<line x1="723.7" y1="323.6" x2="726.3" y2="325.2" stroke="#2c9438" stroke-width="0.6"/>
<line x1="729.8" y1="312.9" x2="732.9" y2="314.4" stroke="#2c9438" stroke-width="0.6"/>
<line x1="737.9" y1="292.8" x2="742.2" y2="294.4" stroke="#2c9438" stroke-width="0.6"/>
<line x1="740.6" y1="281.3" x2="745.3" y2="283" stroke="#2c9438" stroke-width="0.6"/>
<line x1="744.1" y1="272.7" x2="749.1" y2="274.8" stroke="#2c9438" stroke-width="0.6"/>
<line x1="706.1" y1="391.3" x2="709.4" y2="391.6" stroke="#2c9438" stroke-width="0.6"/>
<line x1="707.5" y1="368.9" x2="710.6" y2="369.4" stroke="#2c9438" stroke-width="0.6"/>
<line x1="711.5" y1="352.7" x2="714.5" y2="353.7" stroke="#2c9438" stroke-width="0.6"/>
<line x1="720.1" y1="333.9" x2="722.9" y2="335.4" stroke="#2c9438" stroke-width="0.6"/>
<line x1="729.6" y1="320" x2="732.3" y2="321.6" stroke="#2c9438" stroke-width="0.6"/>
<line x1="739.2" y1="303.8" x2="743" y2="305.3" stroke="#2c9438" stroke-width="0.6"/>
<line x1="743.2" y1="290.7" x2="747.6" y2="292.3" stroke="#2c9438" stroke-width="0.6"/>
<line x1="747.3" y1="278.2" x2="752.3" y2="280.1" stroke="#2c9438" stroke-width="0.6"/>
<polygon points="648.7,312.7 644.5,307.4 640.4,302.1 636.2,296.9 632,291.6 631.4,290.1 631.7,288.5 632.8,287.1 634.3,286.2 636,286.2 637.3,287.1 641.8,292.1 646.3,297.2 650.8,302.2 655.3,307.3" fill="#58c650" stroke="#2c9438" stroke-width="0.9" stroke-linejoin="round"/>
<polyline points="652,310 647.7,304.8 643.3,299.7 639,294.5 634.6,289.3" fill="none" stroke="#2c9438" stroke-width="0.6"/>
<line x1="646.1" y1="309.4" x2="649.3" y2="306.8" stroke="#2c9438" stroke-width="0.6"/>
<line x1="638" y1="299.2" x2="640.9" y2="296.8" stroke="#2c9438" stroke-width="0.6"/>
<line x1="643.8" y1="300.3" x2="646.8" y2="297.8" stroke="#2c9438" stroke-width="0.6"/>
<line x1="638" y1="293.4" x2="640.8" y2="291" stroke="#2c9438" stroke-width="0.6"/>
<polygon points="677.2,403.4 668.7,373.5 658,343.7 649.7,320.7 644.5,304.6 646.9,286.1 648.1,278.6 648.5,274.6 660,276.4 663,282 670.9,281.4 670.1,289.9 666.5,305.4 665.3,317.3 669,340.3 678.3,370.5 686.8,400.6" fill="#58c650" stroke="#2c9438" stroke-width="0.9" stroke-linejoin="round"/>
<polyline points="679.6,402.7 671.1,372.7 660.7,342.8 653.6,319.8 650,304.8 652.7,287.1 653.8,279.3" fill="none" stroke="#2c9438" stroke-width="0.6"/>
<polyline points="682,402 673.5,372 663.5,342 657.5,319 655.5,305 658.5,288 659.5,280" fill="none" stroke="#2c9438" stroke-width="0.6"/>
<polyline points="684.4,401.3 675.9,371.3 666.3,341.2 661.4,318.2 661,305.2 664.3,288.9 665.2,280.7" fill="none" stroke="#2c9438" stroke-width="0.6"/>
<line x1="674.9" y1="395.2" x2="677.3" y2="394.5" stroke="#2c9438" stroke-width="0.6"/>
<line x1="667.2" y1="369.2" x2="669.6" y2="368.4" stroke="#2c9438" stroke-width="0.6"/>
<line x1="660.8" y1="351.6" x2="663.5" y2="350.8" stroke="#2c9438" stroke-width="0.6"/>
<line x1="654.8" y1="334.7" x2="658" y2="333.9" stroke="#2c9438" stroke-width="0.6"/>
<line x1="649.3" y1="319.5" x2="653.3" y2="318.8" stroke="#2c9438" stroke-width="0.6"/>
<line x1="644.7" y1="305.3" x2="650.1" y2="305.4" stroke="#2c9438" stroke-width="0.6"/>
<line x1="646.1" y1="292.1" x2="651.8" y2="292.8" stroke="#2c9438" stroke-width="0.6"/>
<line x1="647.3" y1="283.6" x2="653.1" y2="284.5" stroke="#2c9438" stroke-width="0.6"/>
<line x1="673.7" y1="381.8" x2="676.1" y2="381.1" stroke="#2c9438" stroke-width="0.6"/>
<line x1="666.7" y1="359.9" x2="669.2" y2="359.1" stroke="#2c9438" stroke-width="0.6"/>
<line x1="660.5" y1="341.9" x2="663.3" y2="341.1" stroke="#2c9438" stroke-width="0.6"/>
<line x1="653.9" y1="320.9" x2="657.8" y2="320" stroke="#2c9438" stroke-width="0.6"/>
<line x1="651.8" y1="312.5" x2="656.5" y2="312.2" stroke="#2c9438" stroke-width="0.6"/>
<line x1="650.7" y1="300" x2="656.3" y2="300.3" stroke="#2c9438" stroke-width="0.6"/>
<line x1="652.7" y1="286.8" x2="658.5" y2="287.8" stroke="#2c9438" stroke-width="0.6"/>
<line x1="653.5" y1="281.3" x2="659.2" y2="282.1" stroke="#2c9438" stroke-width="0.6"/>
<line x1="679.1" y1="391.7" x2="681.5" y2="391" stroke="#2c9438" stroke-width="0.6"/>
<line x1="673.5" y1="372" x2="675.9" y2="371.2" stroke="#2c9438" stroke-width="0.6"/>
<line x1="665.7" y1="348.6" x2="668.4" y2="347.8" stroke="#2c9438" stroke-width="0.6"/>
<line x1="661.3" y1="333.6" x2="664.5" y2="332.8" stroke="#2c9438" stroke-width="0.6"/>
<line x1="657" y1="315.2" x2="661.3" y2="314.6" stroke="#2c9438" stroke-width="0.6"/>
<line x1="655.8" y1="307.2" x2="661.1" y2="307.2" stroke="#2c9438" stroke-width="0.6"/>
<line x1="657.6" y1="293.3" x2="663.3" y2="294" stroke="#2c9438" stroke-width="0.6"/>
<line x1="658.7" y1="286.2" x2="664.5" y2="287.1" stroke="#2c9438" stroke-width="0.6"/>
<line x1="678.7" y1="381.2" x2="681.1" y2="380.4" stroke="#2c9438" stroke-width="0.6"/>
<line x1="672.6" y1="361" x2="675.1" y2="360.2" stroke="#2c9438" stroke-width="0.6"/>
<line x1="665.8" y1="338.9" x2="668.6" y2="338.1" stroke="#2c9438" stroke-width="0.6"/>
<line x1="662.7" y1="324.3" x2="666.3" y2="323.4" stroke="#2c9438" stroke-width="0.6"/>
<line x1="661.2" y1="313.1" x2="665.8" y2="312.7" stroke="#2c9438" stroke-width="0.6"/>
<line x1="662" y1="300.3" x2="667.6" y2="300.7" stroke="#2c9438" stroke-width="0.6"/>
<line x1="663.9" y1="290.9" x2="669.7" y2="291.7" stroke="#2c9438" stroke-width="0.6"/>
<line x1="664.8" y1="284.2" x2="670.6" y2="285" stroke="#2c9438" stroke-width="0.6"/>
<circle cx="653.6" cy="283" r="4.3" fill="#49b545" stroke="#2c9438" stroke-width="0.6"/>
<circle cx="653.6" cy="283" r="1.9" fill="#2f9a3a"/>
<circle cx="665.3" cy="288" r="4.3" fill="#49b545" stroke="#2c9438" stroke-width="0.6"/>
<circle cx="665.3" cy="288" r="1.9" fill="#2f9a3a"/>
<circle cx="659.9" cy="301.5" r="4.3" fill="#49b545" stroke="#2c9438" stroke-width="0.6"/>
<circle cx="659.9" cy="301.5" r="1.9" fill="#2f9a3a"/>
<circle cx="652.9" cy="313" r="4.3" fill="#49b545" stroke="#2c9438" stroke-width="0.6"/>
<circle cx="652.9" cy="313" r="1.9" fill="#2f9a3a"/>
<polygon points="682,404 679,342 680.5,319 683,297 686,298 695,302 696.5,306 702,305 708,311 707,319 704.6,342 699,404" fill="#58c650" stroke="#2c9438" stroke-width="0.9" stroke-linejoin="round"/>
<polyline points="686.2,404 685.4,342 687.1,319 689.2,300.5" fill="none" stroke="#2c9438" stroke-width="0.6"/>
<polyline points="690.5,404 691.8,342 693.8,319 695.5,304" fill="none" stroke="#2c9438" stroke-width="0.6"/>
<polyline points="694.8,404 698.2,342 700.4,319 701.8,307.5" fill="none" stroke="#2c9438" stroke-width="0.6"/>
<line x1="681.6" y1="394.8" x2="686.1" y2="394.8" stroke="#2c9438" stroke-width="0.6"/>
<line x1="680.4" y1="371.4" x2="685.8" y2="371.4" stroke="#2c9438" stroke-width="0.6"/>
<line x1="679.4" y1="349.9" x2="685.5" y2="349.9" stroke="#2c9438" stroke-width="0.6"/>
<line x1="679.4" y1="336.1" x2="685.8" y2="336.1" stroke="#2c9438" stroke-width="0.6"/>
<line x1="679.9" y1="328" x2="686.5" y2="328" stroke="#2c9438" stroke-width="0.6"/>
<line x1="680.4" y1="320.8" x2="687" y2="320.8" stroke="#2c9438" stroke-width="0.6"/>
<line x1="681.4" y1="311.2" x2="687.9" y2="312.4" stroke="#2c9438" stroke-width="0.6"/>
<line x1="682.2" y1="303.7" x2="688.6" y2="306.1" stroke="#2c9438" stroke-width="0.6"/>
<line x1="686" y1="386" x2="690.9" y2="386" stroke="#2c9438" stroke-width="0.6"/>
<line x1="685.6" y1="357.4" x2="691.5" y2="357.4" stroke="#2c9438" stroke-width="0.6"/>
<line x1="685.6" y1="339.3" x2="692" y2="339.3" stroke="#2c9438" stroke-width="0.6"/>
<line x1="686.2" y1="331.6" x2="692.7" y2="331.6" stroke="#2c9438" stroke-width="0.6"/>
<line x1="686.6" y1="325.6" x2="693.2" y2="325.6" stroke="#2c9438" stroke-width="0.6"/>
<line x1="687.5" y1="316" x2="694" y2="316.5" stroke="#2c9438" stroke-width="0.6"/>
<line x1="688.2" y1="309.9" x2="694.6" y2="311.7" stroke="#2c9438" stroke-width="0.6"/>
<line x1="688.7" y1="305" x2="695.1" y2="307.7" stroke="#2c9438" stroke-width="0.6"/>
<line x1="690.6" y1="397.3" x2="695.1" y2="397.3" stroke="#2c9438" stroke-width="0.6"/>
<line x1="691.3" y1="367.2" x2="696.8" y2="367.2" stroke="#2c9438" stroke-width="0.6"/>
<line x1="691.7" y1="347.9" x2="697.9" y2="347.9" stroke="#2c9438" stroke-width="0.6"/>
<line x1="692.2" y1="337.4" x2="698.6" y2="337.4" stroke="#2c9438" stroke-width="0.6"/>
<line x1="692.8" y1="329.8" x2="699.4" y2="329.8" stroke="#2c9438" stroke-width="0.6"/>
<line x1="693.5" y1="321.5" x2="700.1" y2="321.5" stroke="#2c9438" stroke-width="0.6"/>
<line x1="694.2" y1="315.2" x2="700.7" y2="316.1" stroke="#2c9438" stroke-width="0.6"/>
<line x1="695" y1="308.7" x2="701.3" y2="311.1" stroke="#2c9438" stroke-width="0.6"/>
<line x1="695.9" y1="383.5" x2="700.9" y2="383.5" stroke="#2c9438" stroke-width="0.6"/>
<line x1="697" y1="363.3" x2="702.7" y2="363.3" stroke="#2c9438" stroke-width="0.6"/>
<line x1="698.5" y1="339.3" x2="704.9" y2="339.3" stroke="#2c9438" stroke-width="0.6"/>
<line x1="699.2" y1="331.6" x2="705.7" y2="331.6" stroke="#2c9438" stroke-width="0.6"/>
<line x1="699.8" y1="325.5" x2="706.3" y2="325.5" stroke="#2c9438" stroke-width="0.6"/>
<line x1="700.6" y1="317" x2="707.2" y2="317.6" stroke="#2c9438" stroke-width="0.6"/>
<line x1="701" y1="313.4" x2="707.5" y2="315.1" stroke="#2c9438" stroke-width="0.6"/>
<line x1="701.6" y1="309.1" x2="707.9" y2="312.1" stroke="#2c9438" stroke-width="0.6"/>
<circle cx="700.6" cy="312" r="4.6" fill="#49b545" stroke="#2c9438" stroke-width="0.6"/>
<circle cx="700.6" cy="312" r="2.1" fill="#2f9a3a"/>
<polygon points="672.8,411.9 662.9,413.2 653,414.5 643.1,415.7 633.2,417 630.8,416.6 628.8,414.8 627.8,412.2 628,409.4 629.4,407.2 631.6,406.1 641.5,404.6 651.4,403.1 661.3,401.6 671.2,400.1" fill="#58c650" stroke="#2c9438" stroke-width="0.9" stroke-linejoin="round"/>
<polyline points="672,406 662.1,407.4 652.2,408.8 642.3,410.2 632.4,411.6" fill="none" stroke="#2c9438" stroke-width="0.6"/>
<line x1="666.4" y1="412.8" x2="665.6" y2="406.9" stroke="#2c9438" stroke-width="0.6"/>
<line x1="654" y1="414.3" x2="653.2" y2="408.6" stroke="#2c9438" stroke-width="0.6"/>
<line x1="643.2" y1="415.7" x2="642.4" y2="410.2" stroke="#2c9438" stroke-width="0.6"/>
<line x1="659.1" y1="407.8" x2="658.3" y2="402" stroke="#2c9438" stroke-width="0.6"/>
<line x1="650.7" y1="409" x2="649.9" y2="403.3" stroke="#2c9438" stroke-width="0.6"/>
<line x1="637.2" y1="410.9" x2="636.4" y2="405.4" stroke="#2c9438" stroke-width="0.6"/>
<polygon points="676.8,416.3 668.4,420.6 659.9,425 651.5,429.3 643,433.7 640.6,434.1 638.2,433.1 636.4,431 635.6,428.3 636.2,425.7 637.9,424 646.2,419.4 654.5,414.8 662.9,410.3 671.2,405.7" fill="#58c650" stroke="#2c9438" stroke-width="0.9" stroke-linejoin="round"/>
<polyline points="674,411 665.6,415.5 657.2,419.9 648.8,424.4 640.4,428.8" fill="none" stroke="#2c9438" stroke-width="0.6"/>
<line x1="671.9" y1="418.8" x2="669.1" y2="413.6" stroke="#2c9438" stroke-width="0.6"/>
<line x1="661.4" y1="424.2" x2="658.7" y2="419.1" stroke="#2c9438" stroke-width="0.6"/>
<line x1="652.9" y1="428.6" x2="650.3" y2="423.6" stroke="#2c9438" stroke-width="0.6"/>
<line x1="662.9" y1="416.9" x2="660.2" y2="411.7" stroke="#2c9438" stroke-width="0.6"/>
<line x1="654.6" y1="421.3" x2="651.9" y2="416.3" stroke="#2c9438" stroke-width="0.6"/>
<line x1="646.1" y1="425.8" x2="643.5" y2="420.9" stroke="#2c9438" stroke-width="0.6"/>
<polygon points="684.3,417.4 680.8,421.6 677.4,425.9 673.9,430.2 670.4,434.4 668.6,435.7 666.2,435.7 663.9,434.6 662.2,432.7 661.8,430.3 662.5,428.3 665.8,423.8 669.1,419.4 672.4,415 675.7,410.6" fill="#58c650" stroke="#2c9438" stroke-width="0.9" stroke-linejoin="round"/>
<polyline points="680,414 676.6,418.3 673.2,422.7 669.8,427 666.5,431.3" fill="none" stroke="#2c9438" stroke-width="0.6"/>
<line x1="682.8" y1="419.3" x2="678.5" y2="415.9" stroke="#2c9438" stroke-width="0.6"/>
<line x1="678.9" y1="424" x2="674.8" y2="420.7" stroke="#2c9438" stroke-width="0.6"/>
<line x1="674.4" y1="429.5" x2="670.3" y2="426.4" stroke="#2c9438" stroke-width="0.6"/>
<line x1="676.8" y1="418.1" x2="672.6" y2="414.8" stroke="#2c9438" stroke-width="0.6"/>
<line x1="672.3" y1="423.8" x2="668.2" y2="420.6" stroke="#2c9438" stroke-width="0.6"/>
<line x1="668.9" y1="428.2" x2="664.9" y2="425" stroke="#2c9438" stroke-width="0.6"/>
<polygon points="673.2,418.8 662.5,412.4 651.7,406 641,399.7 630.2,393.3 628.7,391.7 628.3,389.3 629.1,386.9 630.8,385 633,384.2 635.2,384.7 646.1,390.8 657,397 667.9,403.1 678.8,409.2" fill="#58c650" stroke="#2c9438" stroke-width="0.9" stroke-linejoin="round"/>
<polyline points="676,414 665.2,407.8 654.3,401.5 643.5,395.2 632.7,389" fill="none" stroke="#2c9438" stroke-width="0.6"/>
<line x1="669.4" y1="416.5" x2="672.1" y2="411.7" stroke="#2c9438" stroke-width="0.6"/>
<line x1="661.5" y1="411.8" x2="664.2" y2="407.2" stroke="#2c9438" stroke-width="0.6"/>
<line x1="653.6" y1="407.1" x2="656.2" y2="402.6" stroke="#2c9438" stroke-width="0.6"/>
<line x1="644.7" y1="401.9" x2="647.3" y2="397.4" stroke="#2c9438" stroke-width="0.6"/>
<line x1="639.6" y1="398.9" x2="642.1" y2="394.4" stroke="#2c9438" stroke-width="0.6"/>
<line x1="667.1" y1="408.8" x2="669.8" y2="404.2" stroke="#2c9438" stroke-width="0.6"/>
<line x1="660.4" y1="405" x2="663" y2="400.4" stroke="#2c9438" stroke-width="0.6"/>
<line x1="652.2" y1="400.2" x2="654.8" y2="395.7" stroke="#2c9438" stroke-width="0.6"/>
<line x1="644" y1="395.5" x2="646.6" y2="391.1" stroke="#2c9438" stroke-width="0.6"/>
<line x1="635.6" y1="390.7" x2="638.1" y2="386.3" stroke="#2c9438" stroke-width="0.6"/>
<polygon points="675.5,419.5 666.4,410.3 657.3,401 648.2,391.7 639,382.4 638.1,380.6 638.3,378.5 639.6,376.6 641.5,375.3 643.6,375.1 645.4,376 654.7,385.2 664,394.3 673.3,403.4 682.5,412.5" fill="#58c650" stroke="#2c9438" stroke-width="0.9" stroke-linejoin="round"/>
<polyline points="679,416 669.8,406.8 660.6,397.6 651.4,388.4 642.2,379.2" fill="none" stroke="#2c9438" stroke-width="0.6"/>
<line x1="672.5" y1="416.5" x2="676" y2="413" stroke="#2c9438" stroke-width="0.6"/>
<line x1="665.7" y1="409.6" x2="669.2" y2="406.2" stroke="#2c9438" stroke-width="0.6"/>
<line x1="657.7" y1="401.4" x2="661.1" y2="398.1" stroke="#2c9438" stroke-width="0.6"/>
<line x1="653.4" y1="397.1" x2="656.7" y2="393.7" stroke="#2c9438" stroke-width="0.6"/>
<line x1="645.3" y1="388.8" x2="648.5" y2="385.5" stroke="#2c9438" stroke-width="0.6"/>
<line x1="672" y1="409" x2="675.4" y2="405.5" stroke="#2c9438" stroke-width="0.6"/>
<line x1="666.9" y1="403.9" x2="670.3" y2="400.5" stroke="#2c9438" stroke-width="0.6"/>
<line x1="658.7" y1="395.7" x2="662" y2="392.3" stroke="#2c9438" stroke-width="0.6"/>
<line x1="651.8" y1="388.8" x2="655" y2="385.5" stroke="#2c9438" stroke-width="0.6"/>
<line x1="644.4" y1="381.4" x2="647.6" y2="378.2" stroke="#2c9438" stroke-width="0.6"/>
<polygon points="679,420.1 672.8,408.1 666.6,396.2 660.3,384.2 654.1,372.2 653.8,370.5 654.5,368.7 656.1,367.4 658,366.8 659.9,367.2 661.2,368.4 667.6,380.3 674.1,392.2 680.5,404 687,415.9" fill="#58c650" stroke="#2c9438" stroke-width="0.9" stroke-linejoin="round"/>
<polyline points="683,418 676.7,406.1 670.3,394.2 664,382.2 657.6,370.3" fill="none" stroke="#2c9438" stroke-width="0.6"/>
<line x1="677.1" y1="416.3" x2="681" y2="414.3" stroke="#2c9438" stroke-width="0.6"/>
<line x1="671.4" y1="405.4" x2="675.2" y2="403.3" stroke="#2c9438" stroke-width="0.6"/>
<line x1="667.7" y1="398.3" x2="671.5" y2="396.3" stroke="#2c9438" stroke-width="0.6"/>
<line x1="663.2" y1="389.7" x2="666.9" y2="387.7" stroke="#2c9438" stroke-width="0.6"/>
<line x1="657.9" y1="379.5" x2="661.5" y2="377.6" stroke="#2c9438" stroke-width="0.6"/>
<line x1="679.3" y1="410.9" x2="683.2" y2="408.9" stroke="#2c9438" stroke-width="0.6"/>
<line x1="673.4" y1="399.9" x2="677.2" y2="397.9" stroke="#2c9438" stroke-width="0.6"/>
<line x1="668.9" y1="391.6" x2="672.7" y2="389.6" stroke="#2c9438" stroke-width="0.6"/>
<line x1="664.9" y1="383.9" x2="668.5" y2="381.9" stroke="#2c9438" stroke-width="0.6"/>
<line x1="659.3" y1="373.4" x2="662.8" y2="371.5" stroke="#2c9438" stroke-width="0.6"/>
<polygon points="683.6,421 680.6,407.3 677.6,393.7 674.5,380 671.5,366.3 671.6,364.6 672.8,363 674.6,362.2 676.7,362.2 678.4,363 679.3,364.5 682.6,378.1 685.8,391.8 689.1,405.4 692.4,419" fill="#58c650" stroke="#2c9438" stroke-width="0.9" stroke-linejoin="round"/>
<polyline points="688,420 684.9,406.4 681.7,392.7 678.6,379.1 675.4,365.4" fill="none" stroke="#2c9438" stroke-width="0.6"/>
<line x1="682.6" y1="416.6" x2="687" y2="415.6" stroke="#2c9438" stroke-width="0.6"/>
<line x1="680.3" y1="406.2" x2="684.6" y2="405.2" stroke="#2c9438" stroke-width="0.6"/>
<line x1="678.1" y1="396.1" x2="682.3" y2="395.1" stroke="#2c9438" stroke-width="0.6"/>
<line x1="675.7" y1="385.1" x2="679.7" y2="384.2" stroke="#2c9438" stroke-width="0.6"/>
<line x1="674" y1="377.4" x2="678" y2="376.5" stroke="#2c9438" stroke-width="0.6"/>
<line x1="685.8" y1="410.3" x2="690.1" y2="409.3" stroke="#2c9438" stroke-width="0.6"/>
<line x1="683.5" y1="400.5" x2="687.7" y2="399.5" stroke="#2c9438" stroke-width="0.6"/>
<line x1="681.1" y1="390" x2="685.2" y2="389.1" stroke="#2c9438" stroke-width="0.6"/>
<line x1="678.5" y1="379" x2="682.6" y2="378.1" stroke="#2c9438" stroke-width="0.6"/>
<line x1="676.7" y1="371.2" x2="680.7" y2="370.3" stroke="#2c9438" stroke-width="0.6"/>
<polygon points="689.5,421.2 689.1,406.7 688.7,392.2 688.4,377.7 688,363.2 688.5,361.5 689.9,360.2 691.9,359.7 693.9,360.1 695.4,361.2 696,362.9 696.6,377.4 697.2,391.9 697.9,406.4 698.5,420.8" fill="#58c650" stroke="#2c9438" stroke-width="0.9" stroke-linejoin="round"/>
<polyline points="694,421 693.5,406.5 693,392 692.5,377.5 692,363" fill="none" stroke="#2c9438" stroke-width="0.6"/>
<line x1="689.3" y1="414.5" x2="693.8" y2="414.3" stroke="#2c9438" stroke-width="0.6"/>
<line x1="689.1" y1="405.7" x2="693.5" y2="405.6" stroke="#2c9438" stroke-width="0.6"/>
<line x1="688.8" y1="394.8" x2="693.1" y2="394.6" stroke="#2c9438" stroke-width="0.6"/>
<line x1="688.6" y1="385.2" x2="692.7" y2="385.1" stroke="#2c9438" stroke-width="0.6"/>
<line x1="688.3" y1="373.7" x2="692.3" y2="373.5" stroke="#2c9438" stroke-width="0.6"/>
<line x1="693.6" y1="408.5" x2="698" y2="408.3" stroke="#2c9438" stroke-width="0.6"/>
<line x1="693.2" y1="399.3" x2="697.6" y2="399.1" stroke="#2c9438" stroke-width="0.6"/>
<line x1="692.9" y1="388.2" x2="697.1" y2="388" stroke="#2c9438" stroke-width="0.6"/>
<line x1="692.6" y1="379.6" x2="696.7" y2="379.4" stroke="#2c9438" stroke-width="0.6"/>
<line x1="692.2" y1="369.1" x2="696.2" y2="368.9" stroke="#2c9438" stroke-width="0.6"/>
<polygon points="695.5,420.4 697.6,406.5 699.7,392.7 701.8,378.8 703.8,365 704.6,363.4 706.2,362.4 708.3,362.2 710.2,362.9 711.5,364.4 711.8,366.1 709.9,380 708.1,393.9 706.3,407.7 704.5,421.6" fill="#58c650" stroke="#2c9438" stroke-width="0.9" stroke-linejoin="round"/>
<polyline points="700,421 701.9,407.1 703.9,393.3 705.8,379.4 707.8,365.5" fill="none" stroke="#2c9438" stroke-width="0.6"/>
<line x1="696.2" y1="416.1" x2="700.6" y2="416.8" stroke="#2c9438" stroke-width="0.6"/>
<line x1="697.9" y1="404.9" x2="702.2" y2="405.5" stroke="#2c9438" stroke-width="0.6"/>
<line x1="699.4" y1="394.7" x2="703.6" y2="395.2" stroke="#2c9438" stroke-width="0.6"/>
<line x1="701" y1="384" x2="705.1" y2="384.6" stroke="#2c9438" stroke-width="0.6"/>
<line x1="702" y1="376.9" x2="706.1" y2="377.5" stroke="#2c9438" stroke-width="0.6"/>
<line x1="701.5" y1="410" x2="705.9" y2="410.6" stroke="#2c9438" stroke-width="0.6"/>
<line x1="703.1" y1="399.3" x2="707.3" y2="399.9" stroke="#2c9438" stroke-width="0.6"/>
<line x1="704.3" y1="390.6" x2="708.5" y2="391.2" stroke="#2c9438" stroke-width="0.6"/>
<line x1="705.4" y1="382.5" x2="709.5" y2="383.1" stroke="#2c9438" stroke-width="0.6"/>
<line x1="707" y1="371.4" x2="711" y2="372" stroke="#2c9438" stroke-width="0.6"/>
<polygon points="701.8,418.5 706.5,405.8 711.2,393.2 716,380.5 720.7,367.9 721.8,366.5 723.6,365.8 725.6,366.1 727.3,367.2 728.3,368.9 728.2,370.6 723.7,383.4 719.2,396.1 714.7,408.8 710.2,421.5" fill="#58c650" stroke="#2c9438" stroke-width="0.9" stroke-linejoin="round"/>
<polyline points="706,420 710.6,407.3 715.2,394.6 719.9,381.9 724.5,369.3" fill="none" stroke="#2c9438" stroke-width="0.6"/>
<line x1="702.8" y1="415.7" x2="707" y2="417.2" stroke="#2c9438" stroke-width="0.6"/>
<line x1="706.5" y1="405.8" x2="710.6" y2="407.3" stroke="#2c9438" stroke-width="0.6"/>
<line x1="711" y1="393.9" x2="715" y2="395.4" stroke="#2c9438" stroke-width="0.6"/>
<line x1="714" y1="385.9" x2="717.9" y2="387.3" stroke="#2c9438" stroke-width="0.6"/>
<line x1="717.5" y1="376.5" x2="721.3" y2="377.9" stroke="#2c9438" stroke-width="0.6"/>
<line x1="709.7" y1="409.7" x2="713.9" y2="411.2" stroke="#2c9438" stroke-width="0.6"/>
<line x1="713.3" y1="400" x2="717.3" y2="401.5" stroke="#2c9438" stroke-width="0.6"/>
<line x1="716.2" y1="391.9" x2="720.2" y2="393.4" stroke="#2c9438" stroke-width="0.6"/>
<line x1="719.6" y1="382.7" x2="723.5" y2="384.1" stroke="#2c9438" stroke-width="0.6"/>
<line x1="723" y1="373.4" x2="726.8" y2="374.8" stroke="#2c9438" stroke-width="0.6"/>
<polygon points="707.2,415.6 714.2,404.7 721.2,393.7 728.2,382.7 735.2,371.8 736.5,370.6 738.4,370.4 740.3,371.1 741.8,372.5 742.4,374.3 741.9,376 735.2,387.1 728.4,398.2 721.6,409.3 714.8,420.4" fill="#58c650" stroke="#2c9438" stroke-width="0.9" stroke-linejoin="round"/>
<polyline points="711,418 717.9,407 724.8,396 731.7,384.9 738.6,373.9" fill="none" stroke="#2c9438" stroke-width="0.6"/>
<line x1="710.1" y1="411" x2="713.9" y2="413.4" stroke="#2c9438" stroke-width="0.6"/>
<line x1="715" y1="403.4" x2="718.7" y2="405.7" stroke="#2c9438" stroke-width="0.6"/>
<line x1="720.3" y1="395.1" x2="723.9" y2="397.4" stroke="#2c9438" stroke-width="0.6"/>
<line x1="724.4" y1="388.6" x2="728" y2="390.9" stroke="#2c9438" stroke-width="0.6"/>
<line x1="730.4" y1="379.2" x2="733.9" y2="381.4" stroke="#2c9438" stroke-width="0.6"/>
<line x1="715.9" y1="410.1" x2="719.7" y2="412.5" stroke="#2c9438" stroke-width="0.6"/>
<line x1="721.5" y1="401.1" x2="725.2" y2="403.4" stroke="#2c9438" stroke-width="0.6"/>
<line x1="725.2" y1="395.2" x2="728.8" y2="397.5" stroke="#2c9438" stroke-width="0.6"/>
<line x1="730.4" y1="387" x2="733.9" y2="389.1" stroke="#2c9438" stroke-width="0.6"/>
<line x1="735.1" y1="379.4" x2="738.6" y2="381.5" stroke="#2c9438" stroke-width="0.6"/>
<polygon points="711.7,411.3 720.7,403.3 729.7,395.4 738.7,387.5 747.7,379.5 749.5,378.7 751.6,379 753.5,380.4 754.6,382.4 754.7,384.5 753.7,386.2 744.8,394.3 736,402.5 727.2,410.6 718.3,418.7" fill="#58c650" stroke="#2c9438" stroke-width="0.9" stroke-linejoin="round"/>
<polyline points="715,415 723.9,407 732.8,398.9 741.8,390.9 750.7,382.9" fill="none" stroke="#2c9438" stroke-width="0.6"/>
<line x1="715.6" y1="407.8" x2="719" y2="411.4" stroke="#2c9438" stroke-width="0.6"/>
<line x1="722.6" y1="401.7" x2="725.8" y2="405.3" stroke="#2c9438" stroke-width="0.6"/>
<line x1="728.4" y1="396.5" x2="731.6" y2="400" stroke="#2c9438" stroke-width="0.6"/>
<line x1="734.2" y1="391.4" x2="737.4" y2="394.9" stroke="#2c9438" stroke-width="0.6"/>
<line x1="742" y1="384.6" x2="745" y2="388" stroke="#2c9438" stroke-width="0.6"/>
<line x1="722.2" y1="408.5" x2="725.5" y2="412.1" stroke="#2c9438" stroke-width="0.6"/>
<line x1="728.1" y1="403.2" x2="731.4" y2="406.8" stroke="#2c9438" stroke-width="0.6"/>
<line x1="733.8" y1="398" x2="737" y2="401.6" stroke="#2c9438" stroke-width="0.6"/>
<line x1="740.4" y1="392.1" x2="743.5" y2="395.6" stroke="#2c9438" stroke-width="0.6"/>
<line x1="747.2" y1="386" x2="750.3" y2="389.4" stroke="#2c9438" stroke-width="0.6"/>
<polygon points="710.5,406.7 720.1,401.3 729.7,395.9 739.3,390.5 748.9,385.1 750.8,384.7 752.8,385.4 754.4,387.1 755.1,389.3 754.7,391.4 753.4,392.9 743.9,398.5 734.4,404.1 725,409.7 715.5,415.3" fill="#58c650" stroke="#2c9438" stroke-width="0.9" stroke-linejoin="round"/>
<polyline points="713,411 722.5,405.5 732.1,400 741.6,394.5 751.1,389" fill="none" stroke="#2c9438" stroke-width="0.6"/>
<line x1="713.5" y1="405" x2="716" y2="409.3" stroke="#2c9438" stroke-width="0.6"/>
<line x1="720.8" y1="400.9" x2="723.2" y2="405.1" stroke="#2c9438" stroke-width="0.6"/>
<line x1="728.3" y1="396.6" x2="730.7" y2="400.8" stroke="#2c9438" stroke-width="0.6"/>
<line x1="736.1" y1="392.3" x2="738.5" y2="396.3" stroke="#2c9438" stroke-width="0.6"/>
<line x1="740.6" y1="389.7" x2="742.9" y2="393.7" stroke="#2c9438" stroke-width="0.6"/>
<line x1="720.1" y1="406.9" x2="722.6" y2="411.1" stroke="#2c9438" stroke-width="0.6"/>
<line x1="725.6" y1="403.7" x2="728" y2="407.9" stroke="#2c9438" stroke-width="0.6"/>
<line x1="732.7" y1="399.6" x2="735.1" y2="403.7" stroke="#2c9438" stroke-width="0.6"/>
<line x1="741.6" y1="394.5" x2="743.9" y2="398.5" stroke="#2c9438" stroke-width="0.6"/>
<line x1="747.8" y1="390.9" x2="750.1" y2="394.8" stroke="#2c9438" stroke-width="0.6"/>
<circle cx="655.4" cy="386.4" r="2.8" fill="#49b545" stroke="#2c9438" stroke-width="0.6"/>
<circle cx="655.4" cy="386.4" r="1.3" fill="#2f9a3a"/>
<circle cx="676" cy="384.6" r="2.8" fill="#49b545" stroke="#2c9438" stroke-width="0.6"/>
<circle cx="676" cy="384.6" r="1.3" fill="#2f9a3a"/>
<circle cx="723.4" cy="357.6" r="3" fill="#49b545" stroke="#2c9438" stroke-width="0.6"/>
<circle cx="723.4" cy="357.6" r="1.4" fill="#2f9a3a"/>
<circle cx="728.7" cy="363.5" r="3" fill="#49b545" stroke="#2c9438" stroke-width="0.6"/>
<circle cx="728.7" cy="363.5" r="1.4" fill="#2f9a3a"/>
<circle cx="730.5" cy="381.7" r="3" fill="#49b545" stroke="#2c9438" stroke-width="0.6"/>
<circle cx="730.5" cy="381.7" r="1.4" fill="#2f9a3a"/>
<circle cx="741" cy="377" r="2.8" fill="#49b545" stroke="#2c9438" stroke-width="0.6"/>
<circle cx="741" cy="377" r="1.3" fill="#2f9a3a"/>
<circle cx="612.8" cy="356" r="4.2" fill="#49b545" stroke="#2c9438" stroke-width="0.6"/>
<circle cx="612.8" cy="356" r="1.9" fill="#2f9a3a"/>
<g fill="none" stroke="#5b92e8" stroke-width="2"><circle cx="710.4" cy="297.6" r="3.5"/><path d="M713 295 L718 290.2 M713.4 289.8 L718.4 289.8 L718.4 294.8"/></g>
<g fill="none" stroke="#ee6474" stroke-width="2"><circle cx="619.4" cy="387" r="3.3"/><path d="M619.4 390.4 L619.4 397.6 M616 393.9 L622.8 393.9"/></g>
<path d="M703.5 314.5 C742 318 781 352 783.5 404 C785 448 752 487 709 496.5" fill="none" stroke="#2d5a1e" stroke-width="1.6"/>
<polygon points="701.5,497.8 709.5,492.6 706.7,497.1 710.6,500.6" fill="#2d5a1e"/>
<path d="M650 388.5 C622 392 603 412 602 436 C601.5 446 603.5 454 606.5 460" fill="none" stroke="#2d5a1e" stroke-width="1.6"/>
<polygon points="608,464.5 601.1,458 606,459.7 608.5,455" fill="#2d5a1e"/>
<path d="M615 455 C614.6 462 614.6 466 613.4 471 C612 477 609.6 483 609.6 490.5 C609.6 498 614.5 502.6 622 502.6 C629.5 502.6 634.6 498 634.6 490.5 C634.6 483 632 477 630.6 471 C629.4 466 629.2 462 628.8 455 C627.8 452 624 451.8 621.9 454.6 C619.8 451.8 616 452 615 455 Z" fill="#58c650" stroke="#2c9438" stroke-width="1" stroke-linejoin="round"/>
<path d="M621.9 470 C620 477 616.4 483.5 616.4 490 C616.4 494.5 619 497 621.9 497 C624.8 497 627.6 494.5 627.6 490 C627.6 483.5 623.8 477 621.9 470 Z" fill="#ffffff" stroke="#2c9438" stroke-width="0.7"/>
<path d="M621.9 454.6 L621.9 470 M614.4 463 L621.9 463.6 L629.4 463 M612.6 474 L620.6 475 M631.2 474 L623.2 475 M610 485 L616.8 486 M634.2 485 L627.2 486 M611.2 496 L617 493.4 M632.8 496 L626.8 493.4 M621.9 502.6 L621.9 497" fill="none" stroke="#2c9438" stroke-width="0.7"/>
<circle cx="621.6" cy="491" r="5.3" fill="#2f9440" stroke="#237a30" stroke-width="0.6"/>
<circle cx="618.4" cy="459" r="0.7" fill="#2c9438"/>
<circle cx="625.4" cy="459" r="0.7" fill="#2c9438"/>
<circle cx="617.4" cy="469" r="0.7" fill="#2c9438"/>
<circle cx="626.4" cy="469" r="0.7" fill="#2c9438"/>
<circle cx="614.6" cy="480" r="0.7" fill="#2c9438"/>
<circle cx="629.4" cy="480" r="0.7" fill="#2c9438"/>
<circle cx="613.2" cy="491" r="0.7" fill="#2c9438"/>
<circle cx="630.8" cy="491" r="0.7" fill="#2c9438"/>
<circle cx="617" cy="499" r="0.7" fill="#2c9438"/>
<circle cx="627" cy="499" r="0.7" fill="#2c9438"/>
<polygon points="680.9,482.3 684.1,482.1 687.3,482.6 690.3,483.9 692.9,485.7 688.6,490.7 687.1,489.6 685.5,489 683.8,488.7 682,488.8" fill="#58c650" stroke="#2c9438" stroke-width="0.8" stroke-linejoin="round"/>
<circle cx="686.4" cy="485.8" r="0.7" fill="#2c9438"/>
<polygon points="692.9,485.7 695.1,488.1 696.7,490.9 697.6,494 697.8,497.2 691.2,496.9 691.1,495.1 690.6,493.5 689.7,491.9 688.6,490.7" fill="#58c650" stroke="#2c9438" stroke-width="0.8" stroke-linejoin="round"/>
<circle cx="693.6" cy="492.2" r="0.7" fill="#2c9438"/>
<polygon points="697.8,497.2 697.3,500.4 696,503.4 694.2,506 691.8,508.2 688,502.8 689.2,501.7 690.3,500.2 690.9,498.6 691.2,496.9" fill="#58c650" stroke="#2c9438" stroke-width="0.8" stroke-linejoin="round"/>
<circle cx="693.1" cy="501.8" r="0.7" fill="#2c9438"/>
<polygon points="691.8,508.2 689,509.8 685.9,510.7 682.7,510.9 679.5,510.4 681.3,504 683,504.3 684.8,504.2 686.4,503.7 688,502.8" fill="#58c650" stroke="#2c9438" stroke-width="0.8" stroke-linejoin="round"/>
<circle cx="685.3" cy="507.4" r="0.7" fill="#2c9438"/>
<polygon points="679.5,510.4 676.5,509.1 673.9,507.3 671.7,504.9 670.1,502.1 676.2,499.5 677.1,501.1 678.2,502.3 679.7,503.4 681.3,504" fill="#58c650" stroke="#2c9438" stroke-width="0.8" stroke-linejoin="round"/>
<circle cx="676.1" cy="504.8" r="0.7" fill="#2c9438"/>
<polygon points="670.1,502.1 669.2,499 669,495.8 669.5,492.6 670.8,489.6 676.5,492.8 675.9,494.4 675.6,496.1 675.7,497.9 676.2,499.5" fill="#58c650" stroke="#2c9438" stroke-width="0.8" stroke-linejoin="round"/>
<circle cx="672.3" cy="495.9" r="0.7" fill="#2c9438"/>
<polygon points="670.8,489.6 672.6,487 675,484.8 677.8,483.2 680.9,482.3 682,488.8 680.4,489.3 678.8,490.2 677.6,491.3 676.5,492.8" fill="#58c650" stroke="#2c9438" stroke-width="0.8" stroke-linejoin="round"/>
<circle cx="676.9" cy="487.5" r="0.7" fill="#2c9438"/>
<circle cx="683.4" cy="496.5" r="7.8" fill="#f4fbf2" stroke="#2c9438" stroke-width="0.7"/>
<path d="M679 494 q2 -3 4 0 t4 0 M678.5 498 q2 3 4.5 0 t4.5 0 M681 491 q1 4 3 5 M686 491 q-2 5 -1 9 M680 501 q3 -2 6 0" fill="none" stroke="#2f7a3a" stroke-width="0.9"/>
<path d="M626.5 527.5 Q631.3 535 628.1 543.3" fill="none" stroke="#3e4a34" stroke-width="0.55"/>
<path d="M626.5 527.5 Q629.7 537.3 626.1 547" fill="none" stroke="#3e4a34" stroke-width="0.55"/>
<path d="M626.5 527.5 Q622.8 533.8 624.2 541" fill="none" stroke="#3e4a34" stroke-width="0.55"/>
<path d="M626.5 527.5 Q626.5 534.4 622.6 540" fill="none" stroke="#3e4a34" stroke-width="0.55"/>
<path d="M626.5 527.5 Q623.5 537.1 616.1 543.9" fill="none" stroke="#3e4a34" stroke-width="0.55"/>
<path d="M626.5 527.5 Q618.3 531.4 616.8 540.3" fill="none" stroke="#3e4a34" stroke-width="0.55"/>
<path d="M626.5 527.5 Q623 536.9 613.1 539.2" fill="none" stroke="#3e4a34" stroke-width="0.55"/>
<path d="M626.5 527.5 Q620.8 535.6 611 536.4" fill="none" stroke="#3e4a34" stroke-width="0.55"/>
<path d="M626.5 527.5 Q617.3 527.6 610.7 534" fill="none" stroke="#3e4a34" stroke-width="0.55"/>
<path d="M626.5 527.5 Q619.5 532.1 611.9 528.5" fill="none" stroke="#3e4a34" stroke-width="0.55"/>
<path d="M626.5 527.5 Q620.1 531 613.4 528.1" fill="none" stroke="#3e4a34" stroke-width="0.55"/>
<path d="M626.5 527.5 Q618.9 522.2 609.9 524.4" fill="none" stroke="#3e4a34" stroke-width="0.55"/>
<path d="M626.5 527.5 Q618.7 520.9 608.6 520.7" fill="none" stroke="#3e4a34" stroke-width="0.55"/>
<path d="M626.5 527.5 Q616.6 525.4 609.7 518" fill="none" stroke="#3e4a34" stroke-width="0.55"/>
<path d="M626.5 527.5 Q622.8 519.1 614.3 515.5" fill="none" stroke="#3e4a34" stroke-width="0.55"/>
<path d="M626.5 527.5 Q625.7 518.5 617.6 514.3" fill="none" stroke="#3e4a34" stroke-width="0.55"/>
<path d="M626.5 527.5 Q619.8 522.5 620 514.1" fill="none" stroke="#3e4a34" stroke-width="0.55"/>
<path d="M626.5 527.5 Q628.6 517.5 621.8 509.9" fill="none" stroke="#3e4a34" stroke-width="0.55"/>
<path d="M626.5 527.5 Q622.3 521.2 625.6 514.4" fill="none" stroke="#3e4a34" stroke-width="0.55"/>
<path d="M626.5 527.5 Q623.7 519.5 627.1 511.7" fill="none" stroke="#3e4a34" stroke-width="0.55"/>
<path d="M626.5 527.5 Q624.6 518.1 631.2 511.3" fill="none" stroke="#3e4a34" stroke-width="0.55"/>
<path d="M626.5 527.5 Q631.6 522.6 631.5 515.5" fill="none" stroke="#3e4a34" stroke-width="0.55"/>
<path d="M626.5 527.5 Q629 517.9 636.4 511.3" fill="none" stroke="#3e4a34" stroke-width="0.55"/>
<path d="M626.5 527.5 Q630.6 518.6 638.9 513.4" fill="none" stroke="#3e4a34" stroke-width="0.55"/>
<path d="M625 525 C633 522 645 527 655.5 541 C645 543 633 540 627.5 533 C625.5 530.5 624.5 527.5 625 525 Z" fill="#8fc46e" stroke="#7aa95c" stroke-width="0.5"/>
<path d="M629 527 C636 527 645 532 652 540 C644 540.5 635 537 630.5 532 Z" fill="#b9d99a" opacity="0.8"/>
<path d="M625 525 C629 524 633 526 636 529 C633 531 629 532 626.5 531.5 Z" fill="#5f9a4a"/>
<path d="M665 552 C663 560 663.5 575 668 580 C672 584 679 583 682.5 578 C685.5 572 684 560 676 549 Z" fill="#f8fdf6"/>
<polygon points="680.2,548.7 683.6,550 686.8,551.8 689.6,554.2 692.1,557 682.2,564.2 681.1,562.9 679.8,561.8 678.4,561 676.8,560.4" fill="#58c650" stroke="#2c9438" stroke-width="0.8" stroke-linejoin="round"/>
<circle cx="683.3" cy="556.8" r="0.7" fill="#2c9438"/>
<polygon points="692.1,557 694,560.1 695.4,563.5 696.2,567.1 696.4,570.8 684.2,570.5 684.1,568.8 683.7,567.2 683.1,565.6 682.2,564.2" fill="#58c650" stroke="#2c9438" stroke-width="0.8" stroke-linejoin="round"/>
<circle cx="689.6" cy="565.3" r="0.7" fill="#2c9438"/>
<polygon points="696.4,570.8 696,574.5 695,578 693.4,581.3 691.3,584.4 681.9,576.7 682.9,575.3 683.6,573.8 684,572.1 684.2,570.5" fill="#58c650" stroke="#2c9438" stroke-width="0.8" stroke-linejoin="round"/>
<circle cx="689.3" cy="575.9" r="0.7" fill="#2c9438"/>
<polygon points="691.3,584.4 688.8,587 685.8,589.2 682.5,590.9 679,592 676.3,580.1 677.9,579.6 679.4,578.9 680.7,577.9 681.9,576.7" fill="#58c650" stroke="#2c9438" stroke-width="0.8" stroke-linejoin="round"/>
<circle cx="682.6" cy="584" r="0.7" fill="#2c9438"/>
<polygon points="679,592 675.4,592.6 671.7,592.5 668.1,591.8 664.6,590.5 669.7,579.5 671.3,580 673,580.3 674.6,580.4 676.3,580.1" fill="#58c650" stroke="#2c9438" stroke-width="0.8" stroke-linejoin="round"/>
<circle cx="672.3" cy="586.4" r="0.7" fill="#2c9438"/>
<polygon points="664.6,590.5 661.4,588.7 658.5,586.4 656.1,583.7 654.1,580.5 665,574.9 665.8,576.3 667,577.6 668.3,578.6 669.7,579.5" fill="#58c650" stroke="#2c9438" stroke-width="0.8" stroke-linejoin="round"/>
<circle cx="662.8" cy="582" r="0.7" fill="#2c9438"/>
<polygon points="654.1,580.5 652.7,577.1 651.9,573.6 651.6,569.9 652,566.2 664,568.4 663.8,570.1 663.9,571.7 664.3,573.4 665,574.9" fill="#58c650" stroke="#2c9438" stroke-width="0.8" stroke-linejoin="round"/>
<circle cx="657.9" cy="572.6" r="0.7" fill="#2c9438"/>
<polygon points="652,566.2 652.9,562.7 654.4,559.3 656.5,556.2 659,553.6 667.2,562.6 666,563.8 665.1,565.2 664.4,566.8 664,568.4" fill="#58c650" stroke="#2c9438" stroke-width="0.8" stroke-linejoin="round"/>
<circle cx="659.8" cy="562.3" r="0.7" fill="#2c9438"/>
<ellipse cx="661.8" cy="553.6" rx="5.4" ry="4.2" transform="rotate(-40 661.8 553.6)" fill="#58c650" stroke="#2c9438" stroke-width="0.8"/>
<path d="M676.5 558.5 C673 553 674 547.5 678.5 546.2 C683 545.2 687 548 688.5 551.5 Z" fill="#58c650" stroke="#2c9438" stroke-width="0.8"/>
<ellipse cx="667" cy="567" rx="3.2" ry="1.2" transform="rotate(75 667 567)" fill="#3f8a5a"/>
<ellipse cx="671.7" cy="574.5" rx="3.2" ry="1.2" transform="rotate(60 671.7 574.5)" fill="#3f8a5a"/>
<ellipse cx="677" cy="570.6" rx="3.2" ry="1.2" transform="rotate(-40 677 570.6)" fill="#3f8a5a"/>
<ellipse cx="678" cy="562.6" rx="3.2" ry="1.2" transform="rotate(35 678 562.6)" fill="#3f8a5a"/>
<ellipse cx="680.4" cy="575" rx="3.2" ry="1.2" transform="rotate(-30 680.4 575)" fill="#3f8a5a"/>
<ellipse cx="669.5" cy="559.5" rx="3.2" ry="1.2" transform="rotate(70 669.5 559.5)" fill="#3f8a5a"/>
<ellipse cx="661.4" cy="526" rx="3.8" ry="1.4" transform="rotate(70 661.4 526)" fill="#3a7a5a"/>
<ellipse cx="668" cy="534" rx="3.8" ry="1.4" transform="rotate(62 668 534)" fill="#3a7a5a"/>
<ellipse cx="667" cy="544.3" rx="3.8" ry="1.4" transform="rotate(20 667 544.3)" fill="#3a7a5a"/>
<ellipse cx="663.5" cy="516.5" rx="3.8" ry="1.4" transform="rotate(80 663.5 516.5)" fill="#8fc9a8"/>
<ellipse cx="660" cy="541" rx="3.8" ry="1.4" transform="rotate(30 660 541)" fill="#a8d8b8"/>
<ellipse cx="672.5" cy="546.5" rx="3.8" ry="1.4" transform="rotate(-55 672.5 546.5)" fill="#3f8a5a"/>
<path d="M639.5 548.5 C632 544.5 622 546 614.5 553 L613.6 550.6 L611.5 556.8 L618 556.4 L615.8 554.6 C622.5 549.5 631 549 638.5 552 L636 548.6 Z" fill="#3f74b8"/>
<polygon points="608.7,619.8 607,623 604.7,625.9 601.9,628.2 598.7,630 594.4,619.8 595.7,619.1 596.9,618.1 597.8,617 598.5,615.6" fill="#58c650" stroke="#2c9438" stroke-width="0.8" stroke-linejoin="round"/>
<circle cx="600.8" cy="622" r="0.7" fill="#2c9438"/>
<polygon points="598.7,630 595.2,631 591.5,631.4 587.8,631 584.3,630 588.6,619.8 590,620.3 591.5,620.4 593,620.3 594.4,619.8" fill="#58c650" stroke="#2c9438" stroke-width="0.8" stroke-linejoin="round"/>
<circle cx="591.5" cy="625.9" r="0.7" fill="#2c9438"/>
<polygon points="584.3,630 581.1,628.2 578.3,625.9 576,623 574.3,619.8 584.5,615.6 585.2,617 586.1,618.1 587.3,619.1 588.6,619.8" fill="#58c650" stroke="#2c9438" stroke-width="0.8" stroke-linejoin="round"/>
<circle cx="582.2" cy="622" r="0.7" fill="#2c9438"/>
<path d="M578.8 578.7 L580.6 562.6 Q581.8 557.3 585 556.6 Q588.2 557.2 589.5 561.7 L592.4 578.7 Z" fill="#58c650" stroke="#2c9438" stroke-width="0.9" stroke-linejoin="round"/>
<circle cx="585.3" cy="570.4" r="0.75" fill="#2c9438"/>
<path d="M578.8 578.7 L592.4 578.7 L590.7 593 L576.1 593 Z" fill="#58c650" stroke="#2c9438" stroke-width="0.9" stroke-linejoin="round"/>
<circle cx="584.5" cy="585.9" r="0.75" fill="#2c9438"/>
<path d="M576.1 593 L590.7 593 L586.8 605.5 L574.3 607.3 Z" fill="#58c650" stroke="#2c9438" stroke-width="0.9" stroke-linejoin="round"/>
<circle cx="582" cy="599.7" r="0.75" fill="#2c9438"/>
<path d="M574.3 607.3 L586.8 605.5 L584.2 616 L574.4 620 Z" fill="#58c650" stroke="#2c9438" stroke-width="0.9" stroke-linejoin="round"/>
<circle cx="579.9" cy="612.2" r="0.75" fill="#2c9438"/>
<path d="M607.9 578.7 L608.6 564.4 Q607.5 559.9 604.7 559.3 Q601.9 559.7 600.8 562.6 L595.6 578.7 Z" fill="#58c650" stroke="#2c9438" stroke-width="0.9" stroke-linejoin="round"/>
<circle cx="603.2" cy="571.1" r="0.75" fill="#2c9438"/>
<path d="M607.9 578.7 L595.6 578.7 L595.8 593 L608.3 593 Z" fill="#58c650" stroke="#2c9438" stroke-width="0.9" stroke-linejoin="round"/>
<circle cx="601.9" cy="585.9" r="0.75" fill="#2c9438"/>
<path d="M608.3 593 L595.8 593 L596.6 605.5 L609.2 607.3 Z" fill="#58c650" stroke="#2c9438" stroke-width="0.9" stroke-linejoin="round"/>
<circle cx="602.5" cy="599.7" r="0.75" fill="#2c9438"/>
<path d="M609.2 607.3 L596.6 605.5 L598.8 616 L608.6 620 Z" fill="#58c650" stroke="#2c9438" stroke-width="0.9" stroke-linejoin="round"/>
<circle cx="603.3" cy="612.2" r="0.75" fill="#2c9438"/>
<circle cx="591.4" cy="612.6" r="7.2" fill="#2f9440" stroke="#237a30" stroke-width="0.7"/>
<circle cx="591.4" cy="612.6" r="0.9" fill="#237a30"/>
<ellipse cx="598" cy="558.5" rx="3.2" ry="1.2" transform="rotate(-55 598 558.5)" fill="#3a7a5a"/>
<ellipse cx="594.5" cy="565.5" rx="2.2" ry="0.8" transform="rotate(-60 594.5 565.5)" fill="#8fc9a8"/>
<polygon points="526.7,665.3 524.7,668.9 522,672 518.8,674.6 515.1,676.5 510.9,666.2 512.7,665.3 514.3,664.1 515.6,662.5 516.6,660.8" fill="#58c650" stroke="#2c9438" stroke-width="0.8" stroke-linejoin="round"/>
<circle cx="518.1" cy="668" r="0.7" fill="#2c9438"/>
<polygon points="515.1,676.5 511.1,677.7 507,678.1 502.9,677.7 498.9,676.5 503.1,666.2 505,666.8 507,667 509,666.8 510.9,666.2" fill="#58c650" stroke="#2c9438" stroke-width="0.8" stroke-linejoin="round"/>
<circle cx="507" cy="672.5" r="0.7" fill="#2c9438"/>
<polygon points="498.9,676.5 495.2,674.6 492,672 489.3,668.9 487.3,665.3 497.4,660.8 498.4,662.5 499.7,664.1 501.3,665.3 503.1,666.2" fill="#58c650" stroke="#2c9438" stroke-width="0.8" stroke-linejoin="round"/>
<circle cx="495.9" cy="668" r="0.7" fill="#2c9438"/>
<path d="M492.9 620.4 L492 601.1 Q493.2 596.4 496.2 595.8 Q499.5 596.4 500.8 601.1 L503.4 620.4 Z" fill="#58c650" stroke="#2c9438" stroke-width="0.9" stroke-linejoin="round"/>
<circle cx="497.3" cy="610.8" r="0.75" fill="#2c9438"/>
<path d="M492.9 620.4 L503.4 620.4 L502.5 634.5 L491.1 636.3 Z" fill="#58c650" stroke="#2c9438" stroke-width="0.9" stroke-linejoin="round"/>
<circle cx="497.5" cy="627.9" r="0.75" fill="#2c9438"/>
<path d="M491.1 636.3 L502.5 634.5 L498.6 641.5 L487.6 647.5 Z" fill="#58c650" stroke="#2c9438" stroke-width="0.9" stroke-linejoin="round"/>
<circle cx="495" cy="640" r="0.75" fill="#2c9438"/>
<path d="M487.6 647.5 L498.6 641.5 L496.4 653 L485.6 659.1 Z" fill="#58c650" stroke="#2c9438" stroke-width="0.9" stroke-linejoin="round"/>
<circle cx="492.1" cy="650.3" r="0.75" fill="#2c9438"/>
<path d="M485.6 659.1 L496.4 653 L497.4 662 L487.4 666 Z" fill="#58c650" stroke="#2c9438" stroke-width="0.9" stroke-linejoin="round"/>
<circle cx="491.7" cy="660" r="0.75" fill="#2c9438"/>
<path d="M523.6 620.4 L525.4 602.5 Q524.2 596.6 521 595.8 Q517.5 596.5 516.1 602 L512.2 620.4 Z" fill="#58c650" stroke="#2c9438" stroke-width="0.9" stroke-linejoin="round"/>
<circle cx="519.3" cy="611.3" r="0.75" fill="#2c9438"/>
<path d="M523.6 620.4 L512.2 620.4 L512.2 634.5 L526.3 636.3 Z" fill="#58c650" stroke="#2c9438" stroke-width="0.9" stroke-linejoin="round"/>
<circle cx="518.6" cy="627.9" r="0.75" fill="#2c9438"/>
<path d="M526.3 636.3 L512.2 634.5 L515.6 641.5 L528 648.5 Z" fill="#58c650" stroke="#2c9438" stroke-width="0.9" stroke-linejoin="round"/>
<circle cx="520.5" cy="640.2" r="0.75" fill="#2c9438"/>
<path d="M528 648.5 L515.6 641.5 L517.6 653 L528.2 659.5 Z" fill="#58c650" stroke="#2c9438" stroke-width="0.9" stroke-linejoin="round"/>
<circle cx="522.4" cy="650.6" r="0.75" fill="#2c9438"/>
<path d="M528.2 659.5 L517.6 653 L516.6 662 L526.4 666 Z" fill="#58c650" stroke="#2c9438" stroke-width="0.9" stroke-linejoin="round"/>
<circle cx="522.2" cy="660.1" r="0.75" fill="#2c9438"/>
<ellipse cx="507" cy="652" rx="12" ry="17.6" fill="#58c650"/>
<ellipse cx="507" cy="651" rx="9.6" ry="15.8" fill="#3aa248" stroke="#1f6f2c" stroke-width="0.8"/>
<path d="M507 635.2 L507 666.8 M498 646 Q507 651 516.2 646 M499.4 659 Q503 655.5 507 656.5 M514.8 659 Q511 655.5 507 656.5" fill="none" stroke="#1f6f2c" stroke-width="0.7"/>
<circle cx="503" cy="641.5" r="0.8" fill="#1f6f2c"/>
<circle cx="511.5" cy="642" r="0.8" fill="#1f6f2c"/>
<circle cx="502" cy="652.5" r="0.8" fill="#1f6f2c"/>
<circle cx="512" cy="652.5" r="0.8" fill="#1f6f2c"/>
<circle cx="504" cy="661.5" r="0.8" fill="#1f6f2c"/>
<circle cx="510.5" cy="661.5" r="0.8" fill="#1f6f2c"/>
<path d="M414 621 Q412 622.2 413.1 624.9 Q413.9 627.4 410.9 628.2 Q408.4 629.3 408.8 631.6" fill="none" stroke="#7a6f6a" stroke-width="0.7" stroke-linecap="round"/>
<path d="M418 621 Q419.8 623.8 418.2 626 Q415.7 628.1 416.9 630.8 Q419 633.7 415.8 635.7" fill="none" stroke="#7a6f6a" stroke-width="0.7" stroke-linecap="round"/>
<path d="M422 621 Q423.9 623.7 421 625.2 Q418.8 626.8 419.2 629.2 Q421.3 632 418.7 633.5" fill="none" stroke="#7a6f6a" stroke-width="0.7" stroke-linecap="round"/>
<path d="M426 621 Q423.2 623.1 425.5 625.6 Q427.2 628.1 424.9 630.3 Q423.6 632.5 425.2 634.9" fill="none" stroke="#7a6f6a" stroke-width="0.7" stroke-linecap="round"/>
<path d="M438 621 Q441 622.3 439 624.5 Q437.4 626.7 439.9 628.1 Q442.3 629.5 439.9 631.7" fill="none" stroke="#7a6f6a" stroke-width="0.7" stroke-linecap="round"/>
<path d="M441 621 Q442.4 622.2 441.3 624.3 Q440.5 626.4 443.1 627.2 Q445.5 628 443.7 630.4" fill="none" stroke="#7a6f6a" stroke-width="0.7" stroke-linecap="round"/>
<path d="M411 621 Q411.8 623.4 409.9 623.8 Q407.6 624 408 626.2 Q408.5 628.3 406.7 628.8" fill="none" stroke="#7a6f6a" stroke-width="0.7" stroke-linecap="round"/>
<path d="M429.6 620 C430.4 650 431.8 670 430.2 695 C429 715 427.6 735 427.2 748 C428.8 735 432 715 434 695 C436.4 670 437 650 437.4 620 Z" fill="#8e8a3c" stroke="#77742f" stroke-width="0.5"/>
<path d="M428.5 624.3 C418 620 402 613 389 607.4 L387.6 602.5 L391 599.6 L395 601.6 L398 599.8 L403 602 L410 597 L399.8 581 L402.6 577.2 L406.2 578.6 L414.5 595 L416 590 L412 575.6 L416 573.6 L420.8 576.4 L423 586 L423.4 572 L420 566 L424.8 563.8 L428 568 L434.5 566 L436 557.5 L441.8 556.2 L440.6 566 L438 576 L438 586 L439.5 580 L444.6 579 L444 588 L441.6 596 L448 590 L449.6 582 L455.8 580.8 L454 590 L447.6 600 L453 601.6 L458.6 599.6 L462 601.4 L466.4 600.4 L466.2 606.6 C456 612.5 444 619 428.5 624.3 Z" fill="#6dcf62" stroke="#43aa48" stroke-width="0.8" stroke-linejoin="round"/>
<path d="M399.7 605.4 C403 604.6 407 606.6 409.6 610 C405.6 610.6 401.6 608.6 399.7 605.4 Z" fill="#ffffff"/>
<path d="M456.5 604.8 C453 604.2 449.4 606.4 447 609.6 C451 610 454.8 608 456.5 604.8 Z" fill="#ffffff"/>
<ellipse cx="413.6" cy="604.5" rx="6.6" ry="1.9" transform="rotate(52 413.6 604.5)" fill="#379a40"/>
<ellipse cx="444.6" cy="604.5" rx="6.2" ry="1.9" transform="rotate(-52 444.6 604.5)" fill="#379a40"/>
<ellipse cx="424.4" cy="587" rx="5.5" ry="1.9" transform="rotate(78 424.4 587)" fill="#379a40"/>
<path d="M424.2 606 C423.4 585 425.6 560 427.4 540 C428.6 520 429.6 490 430.2 466 L436.8 466 C437.8 490 437.8 520 437.4 540 C437.2 560 437.6 585 436.2 606 C435.6 614 433 616.4 430.2 616.4 C427.4 616.4 424.8 614 424.2 606 Z" fill="#52c24c" stroke="#2f9a38" stroke-width="0.7"/>
<ellipse cx="429" cy="496" rx="2.1" ry="10" fill="#38a245"/>
<ellipse cx="436.4" cy="500" rx="1.8" ry="9" fill="#38a245"/>
<ellipse cx="428.4" cy="548" rx="2.4" ry="12" fill="#38a245"/>
<ellipse cx="436.4" cy="556" rx="2" ry="12" fill="#38a245"/>
<ellipse cx="431.2" cy="592" rx="2.8" ry="20" fill="#38a245"/>
<path d="M430 438 C427.5 446 426.6 456 429 463.5 C431 468 437 468 438.6 463.5 C440.2 455 436 444 430 438 Z" fill="#3a9c48" stroke="#2a8a38" stroke-width="0.6"/>
<path d="M430.6 441 C429.6 448 429.6 458 431 465" fill="none" stroke="#5fbf5f" stroke-width="1"/>
<polygon points="369.6,93 365.5,96 369.6,94.3 374.6,94.4 378.9,94.1 380.4,93.9 379.5,96.7 387,90.5 378,88.4 379.9,90.7 378.5,90.9 374.4,91.4 369.7,91.5 366.5,89" fill="#d9472b"/>
<polygon points="478.1,92 475,96 478.2,93.5 482.9,93.6 487,94.1 488.4,94.3 486.5,96.6 495.5,94.5 488,88.3 488.9,91.1 487.4,90.9 483.1,90.6 478.1,90.7 474,89" fill="#d9472b"/>
<polygon points="557,118.8 552.7,121.4 556.6,120.3 560.8,122.2 564.2,124.3 565.2,125.1 562.6,126.4 571.5,128.5 567.5,119.5 567.1,122.4 565.9,121.7 562.1,119.6 557.5,117.7 554.3,114.6" fill="#d9472b"/>
<polygon points="631.1,174.9 626.2,176 630.3,176.2 633.9,179.4 636.6,182.6 637.5,183.8 634.6,184.2 642.5,189 641.4,179.3 640.2,181.9 639.1,180.6 636,177.3 632,174 629.8,170" fill="#d9472b"/>
<polygon points="679.9,252.7 674.9,252.4 679,253.9 681.8,258.2 683.8,262.1 684.6,264 681.7,263.7 688.5,270 689.4,260.3 687.7,262.6 686.7,260.7 684.3,256.6 681.1,252.2 680.1,247.6" fill="#d9472b"/>
<polygon points="702.4,529.4 703.7,524.5 701.5,528.5 697.4,531.7 694.1,534.8 692.9,536.2 691.8,533.5 690,543 698.3,538.9 695.4,538.3 696.5,537 699.4,533.9 703.2,530.7 707.3,530.5" fill="#d9472b"/>
<polygon points="594.2,515.1 590.5,511.7 592.7,515.3 592.1,520.2 591,524.3 590.4,526 588.5,523.8 589,533 596.4,526.6 593.5,527.1 594.1,525.2 595,520.7 595.4,515.4 597.5,511.3" fill="#d9472b"/>
<polygon points="553.7,616.8 554.3,611.8 552.5,615.8 548,618.4 543.9,620.2 541.8,621 542.2,618.1 535.5,624.5 545.1,626 542.9,624.1 545.1,623.2 549.4,621 554.1,618.1 558.7,617.2" fill="#d9472b"/>
<polygon points="469.4,643.1 473.3,640 469.5,641.9 464.6,641.8 460.4,642.1 459.1,642.3 460.1,639.5 452.5,645.5 461.4,647.8 459.6,645.5 460.8,645.3 464.8,644.8 469.4,644.6 472.7,647" fill="#d9472b"/>
<polygon points="348.4,638.1 352.4,635 348.3,636.5 343.5,635 339.5,633.2 337.7,632.2 340.2,630.6 331,629.5 336,637.9 336,635 338,636 342.4,637.8 347.8,639.2 351.6,642" fill="#d9472b"/>
<line x1="92.7" y1="245" x2="146" y2="230" stroke="#222222" stroke-width="1.3" stroke-linecap="round"/>
<line x1="298.9" y1="235.6" x2="273.4" y2="246.9" stroke="#222222" stroke-width="1.3" stroke-linecap="round"/>
<line x1="256" y1="362.4" x2="289.4" y2="372.6" stroke="#222222" stroke-width="1.3" stroke-linecap="round"/>
<line x1="92.5" y1="530.9" x2="120.5" y2="507.1" stroke="#222222" stroke-width="1.3" stroke-linecap="round"/>
<line x1="176.9" y1="573.9" x2="204" y2="550.7" stroke="#222222" stroke-width="1.3" stroke-linecap="round"/>
<line x1="471" y1="68" x2="460.6" y2="77.8" stroke="#222222" stroke-width="1.3" stroke-linecap="round"/>
<line x1="466" y1="152.5" x2="448" y2="137" stroke="#222222" stroke-width="1.3" stroke-linecap="round"/>
<line x1="488" y1="152.5" x2="519.5" y2="118.5" stroke="#222222" stroke-width="1.3" stroke-linecap="round"/>
<line x1="530.7" y1="198.8" x2="554.7" y2="163.4" stroke="#222222" stroke-width="1.3" stroke-linecap="round"/>
<line x1="577" y1="459.6" x2="611.5" y2="489.8" stroke="#222222" stroke-width="1.3" stroke-linecap="round"/>
<line x1="728.8" y1="453" x2="739" y2="430.5" stroke="#222222" stroke-width="1.3" stroke-linecap="round"/>
<line x1="695.5" y1="502.5" x2="732" y2="534.5" stroke="#222222" stroke-width="1.3" stroke-linecap="round"/>
<line x1="515.5" y1="653" x2="539.5" y2="672.8" stroke="#222222" stroke-width="1.3" stroke-linecap="round"/>
<line x1="435.7" y1="683.5" x2="480.6" y2="723.4" stroke="#222222" stroke-width="1.3" stroke-linecap="round"/>
<line x1="351" y1="658.5" x2="432" y2="519.8" stroke="#222222" stroke-width="1.3" stroke-linecap="round"/>
<text x="149.5" y="82.2" textLength="83.7" lengthAdjust="spacingAndGlyphs" fill="#1a7a57">mature</text>
<text x="149.5" y="107" textLength="131.7" lengthAdjust="spacingAndGlyphs" fill="#1a7a57">sporophyte</text>
<text x="23.9" y="240.5" textLength="68.7" lengthAdjust="spacingAndGlyphs" fill="#1a7a57">sterile</text>
<text x="37.8" y="260.9" textLength="54.2" lengthAdjust="spacingAndGlyphs" fill="#1a7a57">stem</text>
<text x="296.5" y="231.6" textLength="97.4" lengthAdjust="spacingAndGlyphs" fill="#1a7a57">strobilus</text>
<text x="288.9" y="359.8" textLength="61" lengthAdjust="spacingAndGlyphs" fill="#96713a">fertile</text>
<text x="298.9" y="380.4" textLength="54.2" lengthAdjust="spacingAndGlyphs" fill="#96713a">stem</text>
<text x="47.1" y="538.3" textLength="42.8" lengthAdjust="spacingAndGlyphs" fill="#1a7a57">root</text>
<text x="81.6" y="585" textLength="94.6" lengthAdjust="spacingAndGlyphs" fill="#1a7a57">rhizome</text>
<text x="466.4" y="65.6" textLength="182.3" lengthAdjust="spacingAndGlyphs" fill="#1a7a57">sporangiophore</text>
<text x="433.9" y="168.5" textLength="82.4" lengthAdjust="spacingAndGlyphs" fill="#1a7a57">spores</text>
<text x="484.6" y="218.6" textLength="77.1" lengthAdjust="spacingAndGlyphs" fill="#1a7a57">elaters</text>
<text x="702.6" y="243" textLength="151.7" lengthAdjust="spacingAndGlyphs" fill="#1a7a57">gametophyte</text>
<text x="404.5" y="425.6" textLength="153.6" lengthAdjust="spacingAndGlyphs" fill="#1a7a57">archegonium</text>
<text x="487" y="448.5" textLength="103.9" lengthAdjust="spacingAndGlyphs" fill="#1a7a57">with egg</text>
<text x="663.8" y="472.3" textLength="92.4" lengthAdjust="spacingAndGlyphs" fill="#1a7a57">rhizoids</text>
<text x="713.1" y="551.4" textLength="141.7" lengthAdjust="spacingAndGlyphs" fill="#1a7a57">antheridium</text>
<text x="751.5" y="574.3" textLength="139.9" lengthAdjust="spacingAndGlyphs" fill="#1a7a57" clip-path="url(#clipR)">with sperm</text>
<text x="537.8" y="689.6" textLength="76.3" lengthAdjust="spacingAndGlyphs" fill="#1a7a57">zygote</text>
<text x="461.6" y="739.9" textLength="43.7" lengthAdjust="spacingAndGlyphs" fill="#1a7a57">root</text>
<text x="127.4" y="669.4" textLength="208.9" lengthAdjust="spacingAndGlyphs" fill="#1a7a57">young sporophyte</text>
<text x="226.6" y="696.1" textLength="188.4" lengthAdjust="spacingAndGlyphs" fill="#1a7a57">on gametophyte</text>
<line x1="189.3" y1="115.3" x2="201.3" y2="186" stroke="#1a7a57" stroke-width="2.2" stroke-linecap="round"/>
<polygon points="202.4,192.5 196.2,183.4 201.4,186.5 205.3,181.9" fill="#1a7a57"/>
<line x1="776.5" y1="253" x2="767" y2="271.5" stroke="#1a7a57" stroke-width="2" stroke-linecap="round"/>
<polygon points="764.2,276.8 764.6,267.3 766.6,272.2 771.7,271" fill="#1a7a57"/>
</svg>
</body>
</html>
